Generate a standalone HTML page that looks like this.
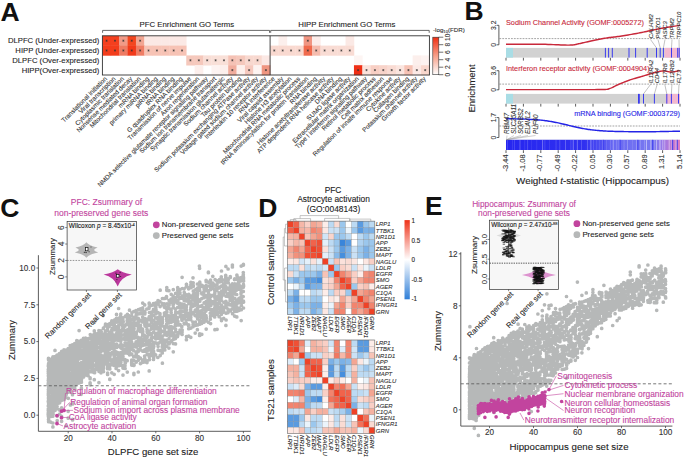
<!DOCTYPE html><html><head><meta charset="utf-8"><style>html,body{margin:0;padding:0;background:#fff;overflow:hidden}svg{display:block}text{font-family:"Liberation Sans",sans-serif}</style></head><body>
<svg width="685" height="458" viewBox="0 0 685 458">
<rect width="685" height="458" fill="#fff"/>
<text x="0.5" y="21.4" font-size="26.5" font-weight="bold" fill="#111">A</text>
<text x="464.5" y="19.9" font-size="26.5" font-weight="bold" fill="#111">B</text>
<text x="0.3" y="216.9" font-size="26.5" font-weight="bold" fill="#111">C</text>
<text x="258.2" y="217.4" font-size="26.5" font-weight="bold" fill="#111">D</text>
<text x="425.0" y="215.3" font-size="26.5" font-weight="bold" fill="#111">E</text>
<rect x="102.40" y="35.80" width="8.69" height="10.10" fill="#f4401f"/>
<path d="M106.59 39.60v2.2M105.59 40.15l2 1.1M105.59 41.25l2 -1.1" stroke="#333" stroke-width="0.55"/>
<rect x="110.79" y="35.80" width="8.69" height="10.10" fill="#f4401f"/>
<path d="M114.98 39.60v2.2M113.98 40.15l2 1.1M113.98 41.25l2 -1.1" stroke="#333" stroke-width="0.55"/>
<rect x="119.17" y="35.80" width="8.69" height="10.10" fill="#f19a87"/>
<path d="M123.36 39.60v2.2M122.36 40.15l2 1.1M122.36 41.25l2 -1.1" stroke="#333" stroke-width="0.55"/>
<rect x="127.56" y="35.80" width="8.69" height="10.10" fill="#f3461f"/>
<path d="M131.75 39.60v2.2M130.75 40.15l2 1.1M130.75 41.25l2 -1.1" stroke="#333" stroke-width="0.55"/>
<rect x="135.94" y="35.80" width="8.69" height="10.10" fill="#f2a693"/>
<path d="M140.13 39.60v2.2M139.13 40.15l2 1.1M139.13 41.25l2 -1.1" stroke="#333" stroke-width="0.55"/>
<rect x="144.32" y="35.80" width="8.69" height="10.10" fill="#fbe9e5"/>
<rect x="152.71" y="35.80" width="8.69" height="10.10" fill="#fbe9e5"/>
<rect x="161.09" y="35.80" width="8.69" height="10.10" fill="#fbe9e5"/>
<rect x="169.48" y="35.80" width="8.69" height="10.10" fill="#fbe9e5"/>
<rect x="177.87" y="35.80" width="8.69" height="10.10" fill="#fbe9e5"/>
<rect x="278.49" y="35.80" width="8.69" height="10.10" fill="#fcefec"/>
<rect x="303.64" y="35.80" width="8.69" height="10.10" fill="#f09582"/>
<path d="M307.83 39.60v2.2M306.83 40.15l2 1.1M306.83 41.25l2 -1.1" stroke="#333" stroke-width="0.55"/>
<rect x="312.02" y="35.80" width="8.69" height="10.10" fill="#fcedea"/>
<rect x="345.56" y="35.80" width="8.69" height="10.10" fill="#fbe9e5"/>
<rect x="102.40" y="45.60" width="8.69" height="10.10" fill="#f33d1c"/>
<path d="M106.59 49.40v2.2M105.59 49.95l2 1.1M105.59 51.05l2 -1.1" stroke="#333" stroke-width="0.55"/>
<rect x="110.79" y="45.60" width="8.69" height="10.10" fill="#f33d1c"/>
<path d="M114.98 49.40v2.2M113.98 49.95l2 1.1M113.98 51.05l2 -1.1" stroke="#333" stroke-width="0.55"/>
<rect x="119.17" y="45.60" width="8.69" height="10.10" fill="#ee7b63"/>
<path d="M123.36 49.40v2.2M122.36 49.95l2 1.1M122.36 51.05l2 -1.1" stroke="#333" stroke-width="0.55"/>
<rect x="127.56" y="45.60" width="8.69" height="10.10" fill="#f23a1a"/>
<path d="M131.75 49.40v2.2M130.75 49.95l2 1.1M130.75 51.05l2 -1.1" stroke="#333" stroke-width="0.55"/>
<rect x="135.94" y="45.60" width="8.69" height="10.10" fill="#ef7e66"/>
<path d="M140.13 49.40v2.2M139.13 49.95l2 1.1M139.13 51.05l2 -1.1" stroke="#333" stroke-width="0.55"/>
<rect x="144.32" y="45.60" width="8.69" height="10.10" fill="#f7c3b5"/>
<path d="M148.52 49.40v2.2M147.52 49.95l2 1.1M147.52 51.05l2 -1.1" stroke="#333" stroke-width="0.55"/>
<rect x="152.71" y="45.60" width="8.69" height="10.10" fill="#f7c3b5"/>
<path d="M156.90 49.40v2.2M155.90 49.95l2 1.1M155.90 51.05l2 -1.1" stroke="#333" stroke-width="0.55"/>
<rect x="161.09" y="45.60" width="8.69" height="10.10" fill="#f7c3b5"/>
<path d="M165.29 49.40v2.2M164.29 49.95l2 1.1M164.29 51.05l2 -1.1" stroke="#333" stroke-width="0.55"/>
<rect x="169.48" y="45.60" width="8.69" height="10.10" fill="#f7c3b5"/>
<path d="M173.67 49.40v2.2M172.67 49.95l2 1.1M172.67 51.05l2 -1.1" stroke="#333" stroke-width="0.55"/>
<rect x="177.87" y="45.60" width="8.69" height="10.10" fill="#f7c3b5"/>
<path d="M182.06 49.40v2.2M181.06 49.95l2 1.1M181.06 51.05l2 -1.1" stroke="#333" stroke-width="0.55"/>
<rect x="270.10" y="45.60" width="8.69" height="10.10" fill="#f9d9d0"/>
<path d="M274.29 49.40v2.2M273.29 49.95l2 1.1M273.29 51.05l2 -1.1" stroke="#333" stroke-width="0.55"/>
<rect x="278.49" y="45.60" width="8.69" height="10.10" fill="#f9d9d0"/>
<path d="M282.68 49.40v2.2M281.68 49.95l2 1.1M281.68 51.05l2 -1.1" stroke="#333" stroke-width="0.55"/>
<rect x="286.87" y="45.60" width="8.69" height="10.10" fill="#f9d9d0"/>
<path d="M291.06 49.40v2.2M290.06 49.95l2 1.1M290.06 51.05l2 -1.1" stroke="#333" stroke-width="0.55"/>
<rect x="295.25" y="45.60" width="8.69" height="10.10" fill="#f9d9d0"/>
<path d="M299.45 49.40v2.2M298.45 49.95l2 1.1M298.45 51.05l2 -1.1" stroke="#333" stroke-width="0.55"/>
<rect x="303.64" y="45.60" width="8.69" height="10.10" fill="#f06a4d"/>
<path d="M307.83 49.40v2.2M306.83 49.95l2 1.1M306.83 51.05l2 -1.1" stroke="#333" stroke-width="0.55"/>
<rect x="312.02" y="45.60" width="8.69" height="10.10" fill="#f5bcae"/>
<path d="M316.22 49.40v2.2M315.22 49.95l2 1.1M315.22 51.05l2 -1.1" stroke="#333" stroke-width="0.55"/>
<rect x="320.41" y="45.60" width="8.69" height="10.10" fill="#f9dcd4"/>
<path d="M324.60 49.40v2.2M323.60 49.95l2 1.1M323.60 51.05l2 -1.1" stroke="#333" stroke-width="0.55"/>
<rect x="328.79" y="45.60" width="8.69" height="10.10" fill="#f9dcd4"/>
<path d="M332.99 49.40v2.2M331.99 49.95l2 1.1M331.99 51.05l2 -1.1" stroke="#333" stroke-width="0.55"/>
<rect x="337.18" y="45.60" width="8.69" height="10.10" fill="#f9dcd4"/>
<path d="M341.37 49.40v2.2M340.37 49.95l2 1.1M340.37 51.05l2 -1.1" stroke="#333" stroke-width="0.55"/>
<rect x="345.56" y="45.60" width="8.69" height="10.10" fill="#f9dcd4"/>
<path d="M349.76 49.40v2.2M348.76 49.95l2 1.1M348.76 51.05l2 -1.1" stroke="#333" stroke-width="0.55"/>
<rect x="186.25" y="55.40" width="8.69" height="10.10" fill="#f5c8bc"/>
<path d="M190.44 59.20v2.2M189.44 59.75l2 1.1M189.44 60.85l2 -1.1" stroke="#333" stroke-width="0.55"/>
<rect x="194.63" y="55.40" width="8.69" height="10.10" fill="#f5c8bc"/>
<path d="M198.83 59.20v2.2M197.83 59.75l2 1.1M197.83 60.85l2 -1.1" stroke="#333" stroke-width="0.55"/>
<rect x="203.02" y="55.40" width="8.69" height="10.10" fill="#f9ded6"/>
<path d="M207.21 59.20v2.2M206.21 59.75l2 1.1M206.21 60.85l2 -1.1" stroke="#333" stroke-width="0.55"/>
<rect x="211.41" y="55.40" width="8.69" height="10.10" fill="#f9e0d8"/>
<path d="M215.60 59.20v2.2M214.60 59.75l2 1.1M214.60 60.85l2 -1.1" stroke="#333" stroke-width="0.55"/>
<rect x="219.79" y="55.40" width="8.69" height="10.10" fill="#f9e0d8"/>
<path d="M223.98 59.20v2.2M222.98 59.75l2 1.1M222.98 60.85l2 -1.1" stroke="#333" stroke-width="0.55"/>
<rect x="228.18" y="55.40" width="8.69" height="10.10" fill="#f5c2b5"/>
<path d="M232.37 59.20v2.2M231.37 59.75l2 1.1M231.37 60.85l2 -1.1" stroke="#333" stroke-width="0.55"/>
<rect x="236.56" y="55.40" width="8.69" height="10.10" fill="#f5c8bc"/>
<path d="M240.75 59.20v2.2M239.75 59.75l2 1.1M239.75 60.85l2 -1.1" stroke="#333" stroke-width="0.55"/>
<rect x="244.94" y="55.40" width="8.69" height="10.10" fill="#f8d8cf"/>
<path d="M249.14 59.20v2.2M248.14 59.75l2 1.1M248.14 60.85l2 -1.1" stroke="#333" stroke-width="0.55"/>
<rect x="253.33" y="55.40" width="8.69" height="10.10" fill="#f8d8cf"/>
<path d="M257.52 59.20v2.2M256.52 59.75l2 1.1M256.52 60.85l2 -1.1" stroke="#333" stroke-width="0.55"/>
<rect x="261.72" y="55.40" width="8.69" height="10.10" fill="#fbe8e4"/>
<rect x="353.95" y="55.40" width="8.69" height="10.10" fill="#fdf5f3"/>
<rect x="412.64" y="55.40" width="8.69" height="10.10" fill="#fcefec"/>
<rect x="421.03" y="55.40" width="8.69" height="10.10" fill="#fdf3f1"/>
<rect x="194.63" y="65.20" width="8.69" height="10.10" fill="#fcefec"/>
<rect x="211.41" y="65.20" width="8.69" height="10.10" fill="#fdf3f1"/>
<rect x="219.79" y="65.20" width="8.69" height="10.10" fill="#fcefec"/>
<rect x="228.18" y="65.20" width="8.69" height="10.10" fill="#f1ad9d"/>
<path d="M232.37 69.00v2.2M231.37 69.55l2 1.1M231.37 70.65l2 -1.1" stroke="#333" stroke-width="0.55"/>
<rect x="236.56" y="65.20" width="8.69" height="10.10" fill="#fdf0ec"/>
<rect x="244.94" y="65.20" width="8.69" height="10.10" fill="#f6c9be"/>
<path d="M249.14 69.00v2.2M248.14 69.55l2 1.1M248.14 70.65l2 -1.1" stroke="#333" stroke-width="0.55"/>
<rect x="253.33" y="65.20" width="8.69" height="10.10" fill="#fdf3f1"/>
<rect x="261.72" y="65.20" width="8.69" height="10.10" fill="#ef9580"/>
<path d="M265.91 69.00v2.2M264.91 69.55l2 1.1M264.91 70.65l2 -1.1" stroke="#333" stroke-width="0.55"/>
<rect x="353.95" y="65.20" width="8.69" height="10.10" fill="#ef2f15"/>
<path d="M358.14 69.00v2.2M357.14 69.55l2 1.1M357.14 70.65l2 -1.1" stroke="#333" stroke-width="0.55"/>
<rect x="362.34" y="65.20" width="8.69" height="10.10" fill="#fbe1da"/>
<path d="M366.53 69.00v2.2M365.53 69.55l2 1.1M365.53 70.65l2 -1.1" stroke="#333" stroke-width="0.55"/>
<rect x="370.72" y="65.20" width="8.69" height="10.10" fill="#f8cfc4"/>
<path d="M374.91 69.00v2.2M373.91 69.55l2 1.1M373.91 70.65l2 -1.1" stroke="#333" stroke-width="0.55"/>
<rect x="379.11" y="65.20" width="8.69" height="10.10" fill="#f8d3c9"/>
<path d="M383.30 69.00v2.2M382.30 69.55l2 1.1M382.30 70.65l2 -1.1" stroke="#333" stroke-width="0.55"/>
<rect x="387.49" y="65.20" width="8.69" height="10.10" fill="#f9dbd3"/>
<path d="M391.68 69.00v2.2M390.68 69.55l2 1.1M390.68 70.65l2 -1.1" stroke="#333" stroke-width="0.55"/>
<rect x="395.88" y="65.20" width="8.69" height="10.10" fill="#fbe5df"/>
<path d="M400.07 69.00v2.2M399.07 69.55l2 1.1M399.07 70.65l2 -1.1" stroke="#333" stroke-width="0.55"/>
<rect x="404.26" y="65.20" width="8.69" height="10.10" fill="#f6c2b4"/>
<path d="M408.45 69.00v2.2M407.45 69.55l2 1.1M407.45 70.65l2 -1.1" stroke="#333" stroke-width="0.55"/>
<rect x="412.64" y="65.20" width="8.69" height="10.10" fill="#fce9e5"/>
<path d="M416.84 69.00v2.2M415.84 69.55l2 1.1M415.84 70.65l2 -1.1" stroke="#333" stroke-width="0.55"/>
<rect x="421.03" y="65.20" width="8.69" height="10.10" fill="#f9d7cd"/>
<path d="M425.22 69.00v2.2M424.22 69.55l2 1.1M424.22 70.65l2 -1.1" stroke="#333" stroke-width="0.55"/>
<rect x="102.4" y="35.8" width="327.01" height="39.20" fill="none" stroke="#333" stroke-width="0.9"/>
<line x1="270.10" y1="35.80" x2="270.10" y2="75.00" stroke="#333" stroke-width="0.9"/>
<path d="M102.60 32.8 V30.4 H269.50 V32.8" fill="none" stroke="#444" stroke-width="0.8"/>
<path d="M270.70 32.8 V30.4 H429.21 V32.8" fill="none" stroke="#444" stroke-width="0.8"/>
<text x="186.90" y="24.70" dy="0.35em" font-size="7.8" text-anchor="middle" fill="#222" stroke="#222" stroke-width="0.1">PFC Enrichment GO Terms</text>
<text x="346.90" y="24.70" dy="0.35em" font-size="7.8" text-anchor="middle" fill="#222" stroke="#222" stroke-width="0.1">HIPP Enrichment GO Terms</text>
<text x="99.40" y="40.70" dy="0.35em" font-size="7.7" text-anchor="end" fill="#222" stroke="#222" stroke-width="0.1">DLPFC (Under-expressed)</text>
<text x="99.40" y="50.50" dy="0.35em" font-size="7.7" text-anchor="end" fill="#222" stroke="#222" stroke-width="0.1">HIPP (Under-expressed)</text>
<text x="99.40" y="60.30" dy="0.35em" font-size="7.7" text-anchor="end" fill="#222" stroke="#222" stroke-width="0.1">DLPFC (Over-expressed)</text>
<text x="99.40" y="70.10" dy="0.35em" font-size="7.7" text-anchor="end" fill="#222" stroke="#222" stroke-width="0.1">HIPP(Over-expressed)</text>
<text x="105.39" y="77.00" dy="0.5em" font-size="6.4" text-anchor="end" fill="#333" transform="rotate(-45 105.39 77.00)" stroke="#333" stroke-width="0.1">Translational initiation</text>
<text x="113.78" y="77.00" dy="0.5em" font-size="6.4" text-anchor="end" fill="#333" transform="rotate(-45 113.78 77.00)" stroke="#333" stroke-width="0.1">Viral transcription</text>
<text x="122.16" y="77.00" dy="0.5em" font-size="6.4" text-anchor="end" fill="#333" transform="rotate(-45 122.16 77.00)" stroke="#333" stroke-width="0.1">Cytoplasmic translation</text>
<text x="130.55" y="77.00" dy="0.5em" font-size="6.4" text-anchor="end" fill="#333" transform="rotate(-45 130.55 77.00)" stroke="#333" stroke-width="0.1">Nonsense mediated decay</text>
<text x="138.93" y="77.00" dy="0.5em" font-size="6.4" text-anchor="end" fill="#333" transform="rotate(-45 138.93 77.00)" stroke="#333" stroke-width="0.1">Mitochondrial translation</text>
<text x="147.32" y="77.00" dy="0.5em" font-size="6.4" text-anchor="end" fill="#333" transform="rotate(-45 147.32 77.00)" stroke="#333" stroke-width="0.1">mRNA binding</text>
<text x="155.70" y="77.00" dy="0.5em" font-size="6.4" text-anchor="end" fill="#333" transform="rotate(-45 155.70 77.00)" stroke="#333" stroke-width="0.1">primary miRNA binding</text>
<text x="164.09" y="77.00" dy="0.5em" font-size="6.4" text-anchor="end" fill="#333" transform="rotate(-45 164.09 77.00)" stroke="#333" stroke-width="0.1">piRNA binding</text>
<text x="172.47" y="77.00" dy="0.5em" font-size="6.4" text-anchor="end" fill="#333" transform="rotate(-45 172.47 77.00)" stroke="#333" stroke-width="0.1">tRNA binding</text>
<text x="180.86" y="77.00" dy="0.5em" font-size="6.4" text-anchor="end" fill="#333" transform="rotate(-45 180.86 77.00)" stroke="#333" stroke-width="0.1">G quadruplex RNA binding</text>
<text x="189.24" y="77.00" dy="0.5em" font-size="6.4" text-anchor="end" fill="#333" transform="rotate(-45 189.24 77.00)" stroke="#333" stroke-width="0.1">Transmission of nerve impulse</text>
<text x="197.63" y="77.00" dy="0.5em" font-size="6.4" text-anchor="end" fill="#333" transform="rotate(-45 197.63 77.00)" stroke="#333" stroke-width="0.1">Axon regeneration</text>
<text x="206.01" y="77.00" dy="0.5em" font-size="6.4" text-anchor="end" fill="#333" transform="rotate(-45 206.01 77.00)" stroke="#333" stroke-width="0.1">NMDA selective glutamate receptor signaling pathway</text>
<text x="214.40" y="77.00" dy="0.5em" font-size="6.4" text-anchor="end" fill="#333" transform="rotate(-45 214.40 77.00)" stroke="#333" stroke-width="0.1">Sodium ion transmembrane transport</text>
<text x="222.78" y="77.00" dy="0.5em" font-size="6.4" text-anchor="end" fill="#333" transform="rotate(-45 222.78 77.00)" stroke="#333" stroke-width="0.1">Synaptic transmission glutamatergic</text>
<text x="231.17" y="77.00" dy="0.5em" font-size="6.4" text-anchor="end" fill="#333" transform="rotate(-45 231.17 77.00)" stroke="#333" stroke-width="0.1">Sodium channel activity</text>
<text x="239.55" y="77.00" dy="0.5em" font-size="6.4" text-anchor="end" fill="#333" transform="rotate(-45 239.55 77.00)" stroke="#333" stroke-width="0.1">Tau protein binding</text>
<text x="247.94" y="77.00" dy="0.5em" font-size="6.4" text-anchor="end" fill="#333" transform="rotate(-45 247.94 77.00)" stroke="#333" stroke-width="0.1">Sodium potassium exchanging ATPase activity</text>
<text x="256.32" y="77.00" dy="0.5em" font-size="6.4" text-anchor="end" fill="#333" transform="rotate(-45 256.32 77.00)" stroke="#333" stroke-width="0.1">Voltage gated sodium channel activity</text>
<text x="264.71" y="77.00" dy="0.5em" font-size="6.4" text-anchor="end" fill="#333" transform="rotate(-45 264.71 77.00)" stroke="#333" stroke-width="0.1">Interleukin 10 receptor activity</text>
<text x="273.09" y="77.00" dy="0.5em" font-size="6.4" text-anchor="end" fill="#333" transform="rotate(-45 273.09 77.00)" stroke="#333" stroke-width="0.1">RNA interference</text>
<text x="281.48" y="77.00" dy="0.5em" font-size="6.4" text-anchor="end" fill="#333" transform="rotate(-45 281.48 77.00)" stroke="#333" stroke-width="0.1">Viral capsid assembly</text>
<text x="289.86" y="77.00" dy="0.5em" font-size="6.4" text-anchor="end" fill="#333" transform="rotate(-45 289.86 77.00)" stroke="#333" stroke-width="0.1">Histone H3 acetylation</text>
<text x="298.25" y="77.00" dy="0.5em" font-size="6.4" text-anchor="end" fill="#333" transform="rotate(-45 298.25 77.00)" stroke="#333" stroke-width="0.1">Mitochondrial RNA metabolic process</text>
<text x="306.63" y="77.00" dy="0.5em" font-size="6.4" text-anchor="end" fill="#333" transform="rotate(-45 306.63 77.00)" stroke="#333" stroke-width="0.1">tRNA aminoacylation for protein translation</text>
<text x="315.02" y="77.00" dy="0.5em" font-size="6.4" text-anchor="end" fill="#333" transform="rotate(-45 315.02 77.00)" stroke="#333" stroke-width="0.1">RNA binding</text>
<text x="323.40" y="77.00" dy="0.5em" font-size="6.4" text-anchor="end" fill="#333" transform="rotate(-45 323.40 77.00)" stroke="#333" stroke-width="0.1">Histone acetyltransferase activity</text>
<text x="331.79" y="77.00" dy="0.5em" font-size="6.4" text-anchor="end" fill="#333" transform="rotate(-45 331.79 77.00)" stroke="#333" stroke-width="0.1">ATP dependent RNA helicase activity</text>
<text x="340.17" y="77.00" dy="0.5em" font-size="6.4" text-anchor="end" fill="#333" transform="rotate(-45 340.17 77.00)" stroke="#333" stroke-width="0.1">DNA binding</text>
<text x="348.56" y="77.00" dy="0.5em" font-size="6.4" text-anchor="end" fill="#333" transform="rotate(-45 348.56 77.00)" stroke="#333" stroke-width="0.1">SUMO ligase activity</text>
<text x="356.94" y="77.00" dy="0.5em" font-size="6.4" text-anchor="end" fill="#333" transform="rotate(-45 356.94 77.00)" stroke="#333" stroke-width="0.1">Extracellular matrix organization</text>
<text x="365.33" y="77.00" dy="0.5em" font-size="6.4" text-anchor="end" fill="#333" transform="rotate(-45 365.33 77.00)" stroke="#333" stroke-width="0.1">Type I interferon signaling pathway</text>
<text x="373.71" y="77.00" dy="0.5em" font-size="6.4" text-anchor="end" fill="#333" transform="rotate(-45 373.71 77.00)" stroke="#333" stroke-width="0.1">Retinol metabolic process</text>
<text x="382.10" y="77.00" dy="0.5em" font-size="6.4" text-anchor="end" fill="#333" transform="rotate(-45 382.10 77.00)" stroke="#333" stroke-width="0.1">Cell matrix adhesion</text>
<text x="390.48" y="77.00" dy="0.5em" font-size="6.4" text-anchor="end" fill="#333" transform="rotate(-45 390.48 77.00)" stroke="#333" stroke-width="0.1">Regulation of innate immune response</text>
<text x="398.87" y="77.00" dy="0.5em" font-size="6.4" text-anchor="end" fill="#333" transform="rotate(-45 398.87 77.00)" stroke="#333" stroke-width="0.1">Cytokine activity</text>
<text x="407.25" y="77.00" dy="0.5em" font-size="6.4" text-anchor="end" fill="#333" transform="rotate(-45 407.25 77.00)" stroke="#333" stroke-width="0.1">Collagen binding</text>
<text x="415.64" y="77.00" dy="0.5em" font-size="6.4" text-anchor="end" fill="#333" transform="rotate(-45 415.64 77.00)" stroke="#333" stroke-width="0.1">Potassium channel activity</text>
<text x="424.02" y="77.00" dy="0.5em" font-size="6.4" text-anchor="end" fill="#333" transform="rotate(-45 424.02 77.00)" stroke="#333" stroke-width="0.1">Growth factor activity</text>
<defs><linearGradient id="gA" x1="0" y1="1" x2="0" y2="0"><stop offset="0" stop-color="#ffffff"/><stop offset="0.5" stop-color="#f7a08a"/><stop offset="1" stop-color="#ef2e12"/></linearGradient><linearGradient id="gD" x1="0" y1="1" x2="0" y2="0"><stop offset="0" stop-color="#2f7fd8"/><stop offset="0.5" stop-color="#ffffff"/><stop offset="1" stop-color="#ee3219"/></linearGradient></defs>
<rect x="432.80" y="37.20" width="6.00" height="37.50" fill="url(#gA)" stroke="#333" stroke-width="0.6"/>
<line x1="438.80" y1="74.70" x2="443.30" y2="74.70" stroke="#333" stroke-width="0.7"/>
<text x="447.40" y="74.70" dy="0.35em" font-size="6.6" text-anchor="middle" fill="#333" transform="rotate(-90 447.40 74.70)" stroke="#333" stroke-width="0.1">0</text>
<line x1="438.80" y1="67.20" x2="443.30" y2="67.20" stroke="#333" stroke-width="0.7"/>
<text x="447.40" y="67.20" dy="0.35em" font-size="6.6" text-anchor="middle" fill="#333" transform="rotate(-90 447.40 67.20)" stroke="#333" stroke-width="0.1">2</text>
<line x1="438.80" y1="59.70" x2="443.30" y2="59.70" stroke="#333" stroke-width="0.7"/>
<text x="447.40" y="59.70" dy="0.35em" font-size="6.6" text-anchor="middle" fill="#333" transform="rotate(-90 447.40 59.70)" stroke="#333" stroke-width="0.1">4</text>
<line x1="438.80" y1="52.20" x2="443.30" y2="52.20" stroke="#333" stroke-width="0.7"/>
<text x="447.40" y="52.20" dy="0.35em" font-size="6.6" text-anchor="middle" fill="#333" transform="rotate(-90 447.40 52.20)" stroke="#333" stroke-width="0.1">6</text>
<line x1="438.80" y1="44.70" x2="443.30" y2="44.70" stroke="#333" stroke-width="0.7"/>
<text x="447.40" y="44.70" dy="0.35em" font-size="6.6" text-anchor="middle" fill="#333" transform="rotate(-90 447.40 44.70)" stroke="#333" stroke-width="0.1">8</text>
<line x1="438.80" y1="37.20" x2="443.30" y2="37.20" stroke="#333" stroke-width="0.7"/>
<text x="447.40" y="37.20" dy="0.35em" font-size="6.6" text-anchor="middle" fill="#333" transform="rotate(-90 447.40 37.20)" stroke="#333" stroke-width="0.1">10</text>
<text x="433.0" y="31.9" font-size="6.2" fill="#333" stroke="#333" stroke-width="0.1">-log<tspan font-size="4.2" dy="1.4">10</tspan><tspan dy="-1.4">(FDR)</tspan></text>
<line x1="498.90" y1="25.30" x2="498.90" y2="44.80" stroke="#333" stroke-width="0.8"/>
<line x1="496.70" y1="25.30" x2="498.90" y2="25.30" stroke="#333" stroke-width="0.8"/>
<line x1="496.70" y1="44.80" x2="498.90" y2="44.80" stroke="#333" stroke-width="0.8"/>
<text x="493.70" y="25.30" dy="0.35em" font-size="6.8" text-anchor="middle" fill="#333" transform="rotate(-90 493.70 25.30)" stroke="#333" stroke-width="0.1">3.2</text>
<text x="493.70" y="44.80" dy="0.35em" font-size="6.8" text-anchor="middle" fill="#333" transform="rotate(-90 493.70 44.80)" stroke="#333" stroke-width="0.1">0</text>
<line x1="499.4" y1="38.6" x2="680.0" y2="38.6" stroke="#666" stroke-width="0.6" stroke-dasharray="1.8 1.1"/>
<text x="506.00" y="22.30" dy="0.35em" font-size="7.3" fill="#c8283a" stroke="#c8283a" stroke-width="0.1">Sodium Channel Activity (GOMF:0005272)</text>
<rect x="506.00" y="47.90" width="174.00" height="9.70" fill="#d2d2d2"/>
<rect x="506.00" y="47.90" width="7.00" height="9.70" fill="#a9dde5"/>
<rect x="664.70" y="47.90" width="15.30" height="9.70" fill="#f2b8cf"/>
<rect x="604.90" y="47.90" width="1.00" height="9.70" fill="#3b3bef"/>
<rect x="608.10" y="47.90" width="1.00" height="9.70" fill="#3b3bef"/>
<rect x="611.80" y="47.90" width="1.00" height="9.70" fill="#3b3bef"/>
<rect x="628.50" y="47.90" width="1.00" height="9.70" fill="#3b3bef"/>
<rect x="635.10" y="47.90" width="1.00" height="9.70" fill="#3b3bef"/>
<rect x="646.70" y="47.90" width="1.00" height="9.70" fill="#3b3bef"/>
<rect x="656.00" y="47.90" width="1.00" height="9.70" fill="#3b3bef"/>
<rect x="659.70" y="47.90" width="1.00" height="9.70" fill="#3b3bef"/>
<rect x="662.90" y="47.90" width="1.00" height="9.70" fill="#3b3bef"/>
<rect x="671.00" y="47.90" width="1.00" height="9.70" fill="#3b3bef"/>
<rect x="677.20" y="47.90" width="1.00" height="9.70" fill="#3b3bef"/>
<rect x="678.70" y="47.90" width="1.00" height="9.70" fill="#3b3bef"/>
<line x1="506.00" y1="57.80" x2="506.00" y2="60.60" stroke="#333" stroke-width="0.8"/>
<line x1="523.40" y1="57.80" x2="523.40" y2="60.60" stroke="#333" stroke-width="0.8"/>
<line x1="540.80" y1="57.80" x2="540.80" y2="60.60" stroke="#333" stroke-width="0.8"/>
<line x1="558.20" y1="57.80" x2="558.20" y2="60.60" stroke="#333" stroke-width="0.8"/>
<line x1="575.60" y1="57.80" x2="575.60" y2="60.60" stroke="#333" stroke-width="0.8"/>
<line x1="593.00" y1="57.80" x2="593.00" y2="60.60" stroke="#333" stroke-width="0.8"/>
<line x1="610.40" y1="57.80" x2="610.40" y2="60.60" stroke="#333" stroke-width="0.8"/>
<line x1="627.80" y1="57.80" x2="627.80" y2="60.60" stroke="#333" stroke-width="0.8"/>
<line x1="645.20" y1="57.80" x2="645.20" y2="60.60" stroke="#333" stroke-width="0.8"/>
<line x1="662.60" y1="57.80" x2="662.60" y2="60.60" stroke="#333" stroke-width="0.8"/>
<line x1="680.00" y1="57.80" x2="680.00" y2="60.60" stroke="#333" stroke-width="0.8"/>
<path d="M506.00 44.30 L507.66 44.29 L509.76 44.28 L512.23 44.26 L515.00 44.24 L518.01 44.21 L521.19 44.19 L524.47 44.18 L527.78 44.16 L531.05 44.16 L534.23 44.16 L537.23 44.17 L540.00 44.20 L542.65 44.25 L545.34 44.32 L548.04 44.41 L550.73 44.51 L553.38 44.63 L555.98 44.74 L558.49 44.84 L560.90 44.94 L563.18 45.02 L565.30 45.08 L567.25 45.11 L569.00 45.10 L570.51 45.06 L571.80 45.00 L572.88 44.92 L573.80 44.82 L574.59 44.70 L575.29 44.57 L575.92 44.42 L576.53 44.27 L577.15 44.11 L577.81 43.94 L578.55 43.77 L579.40 43.60 L580.31 43.42 L581.23 43.23 L582.14 43.03 L583.06 42.83 L583.99 42.61 L584.93 42.39 L585.89 42.16 L586.86 41.93 L587.85 41.70 L588.87 41.46 L589.92 41.23 L591.00 41.00 L592.12 40.77 L593.27 40.52 L594.46 40.27 L595.67 40.02 L596.91 39.76 L598.16 39.51 L599.43 39.25 L600.69 39.00 L601.96 38.76 L603.22 38.53 L604.47 38.31 L605.70 38.10 L606.90 37.91 L608.08 37.74 L609.24 37.59 L610.39 37.45 L611.53 37.31 L612.69 37.18 L613.86 37.05 L615.06 36.91 L616.29 36.76 L617.57 36.59 L618.91 36.41 L620.30 36.20 L621.76 35.97 L623.28 35.73 L624.86 35.47 L626.48 35.21 L628.13 34.93 L629.81 34.64 L631.51 34.35 L633.22 34.05 L634.93 33.74 L636.64 33.43 L638.33 33.12 L640.00 32.80 L641.66 32.48 L643.32 32.14 L644.98 31.79 L646.64 31.43 L648.31 31.06 L649.98 30.69 L651.65 30.33 L653.32 29.96 L654.99 29.61 L656.66 29.26 L658.33 28.92 L660.00 28.60 L661.73 28.28 L663.56 27.96 L665.47 27.63 L667.41 27.31 L669.35 26.99 L671.25 26.69 L673.08 26.40 L674.81 26.12 L676.41 25.87 L677.82 25.65 L679.03 25.46 L680.00 25.30" fill="none" stroke="#c8283a" stroke-width="1.45" stroke-linejoin="round"/>
<text x="650.50" y="38.6" dy="0.35em" font-size="6.0" font-style="italic" fill="#333" transform="rotate(-90 650.50 38.6)" stroke="#333" stroke-width="0.1">CALHM2</text>
<line x1="650.50" y1="39.50" x2="656.50" y2="47.90" stroke="#666" stroke-width="0.4"/>
<text x="658.00" y="38.6" dy="0.35em" font-size="6.0" font-style="italic" fill="#333" transform="rotate(-90 658.00 38.6)" stroke="#333" stroke-width="0.1">PIEZO1</text>
<line x1="658.00" y1="39.50" x2="660.20" y2="47.90" stroke="#666" stroke-width="0.4"/>
<text x="665.00" y="38.6" dy="0.35em" font-size="6.0" font-style="italic" fill="#333" transform="rotate(-90 665.00 38.6)" stroke="#333" stroke-width="0.1">ASIC3</text>
<line x1="665.00" y1="39.50" x2="663.40" y2="47.90" stroke="#666" stroke-width="0.4"/>
<text x="672.00" y="38.6" dy="0.35em" font-size="6.0" font-style="italic" fill="#333" transform="rotate(-90 672.00 38.6)" stroke="#333" stroke-width="0.1">TRPM2</text>
<line x1="672.00" y1="39.50" x2="671.50" y2="47.90" stroke="#666" stroke-width="0.4"/>
<text x="679.00" y="38.6" dy="0.35em" font-size="6.0" font-style="italic" fill="#333" transform="rotate(-90 679.00 38.6)" stroke="#333" stroke-width="0.1">TRPPC10</text>
<line x1="679.00" y1="39.50" x2="679.20" y2="47.90" stroke="#666" stroke-width="0.4"/>
<line x1="498.90" y1="70.70" x2="498.90" y2="89.80" stroke="#333" stroke-width="0.8"/>
<line x1="496.70" y1="70.70" x2="498.90" y2="70.70" stroke="#333" stroke-width="0.8"/>
<line x1="496.70" y1="89.80" x2="498.90" y2="89.80" stroke="#333" stroke-width="0.8"/>
<text x="493.70" y="70.70" dy="0.35em" font-size="6.8" text-anchor="middle" fill="#333" transform="rotate(-90 493.70 70.70)" stroke="#333" stroke-width="0.1">3.6</text>
<text x="493.70" y="89.80" dy="0.35em" font-size="6.8" text-anchor="middle" fill="#333" transform="rotate(-90 493.70 89.80)" stroke="#333" stroke-width="0.1">0</text>
<line x1="499.4" y1="84.1" x2="680.0" y2="84.1" stroke="#666" stroke-width="0.6" stroke-dasharray="1.8 1.1"/>
<text x="506.00" y="68.40" dy="0.35em" font-size="7.3" fill="#c8283a" stroke="#c8283a" stroke-width="0.1">Interferon receptor activity (GOMF:0004904)</text>
<rect x="506.00" y="93.90" width="174.00" height="9.70" fill="#d2d2d2"/>
<rect x="506.00" y="93.90" width="7.00" height="9.70" fill="#a9dde5"/>
<rect x="665.70" y="93.90" width="14.30" height="9.70" fill="#f2b8cf"/>
<rect x="638.00" y="93.90" width="1.00" height="9.70" fill="#3b3bef"/>
<rect x="638.80" y="93.90" width="1.00" height="9.70" fill="#3b3bef"/>
<rect x="643.00" y="93.90" width="1.00" height="9.70" fill="#3b3bef"/>
<rect x="653.90" y="93.90" width="1.00" height="9.70" fill="#3b3bef"/>
<rect x="666.30" y="93.90" width="1.00" height="9.70" fill="#3b3bef"/>
<rect x="670.90" y="93.90" width="1.00" height="9.70" fill="#3b3bef"/>
<rect x="678.00" y="93.90" width="1.00" height="9.70" fill="#3b3bef"/>
<line x1="506.00" y1="103.80" x2="506.00" y2="106.60" stroke="#333" stroke-width="0.8"/>
<line x1="523.40" y1="103.80" x2="523.40" y2="106.60" stroke="#333" stroke-width="0.8"/>
<line x1="540.80" y1="103.80" x2="540.80" y2="106.60" stroke="#333" stroke-width="0.8"/>
<line x1="558.20" y1="103.80" x2="558.20" y2="106.60" stroke="#333" stroke-width="0.8"/>
<line x1="575.60" y1="103.80" x2="575.60" y2="106.60" stroke="#333" stroke-width="0.8"/>
<line x1="593.00" y1="103.80" x2="593.00" y2="106.60" stroke="#333" stroke-width="0.8"/>
<line x1="610.40" y1="103.80" x2="610.40" y2="106.60" stroke="#333" stroke-width="0.8"/>
<line x1="627.80" y1="103.80" x2="627.80" y2="106.60" stroke="#333" stroke-width="0.8"/>
<line x1="645.20" y1="103.80" x2="645.20" y2="106.60" stroke="#333" stroke-width="0.8"/>
<line x1="662.60" y1="103.80" x2="662.60" y2="106.60" stroke="#333" stroke-width="0.8"/>
<line x1="680.00" y1="103.80" x2="680.00" y2="106.60" stroke="#333" stroke-width="0.8"/>
<path d="M506.00 89.60 L508.65 89.60 L512.01 89.60 L515.98 89.60 L520.44 89.60 L525.28 89.61 L530.38 89.61 L535.62 89.61 L540.89 89.61 L546.08 89.61 L551.07 89.61 L555.75 89.60 L560.00 89.60 L564.03 89.60 L568.09 89.60 L572.14 89.61 L576.15 89.61 L580.07 89.62 L583.88 89.62 L587.52 89.62 L590.96 89.61 L594.17 89.60 L597.11 89.58 L599.73 89.54 L602.00 89.50 L603.86 89.45 L605.30 89.41 L606.38 89.36 L607.17 89.31 L607.72 89.25 L608.10 89.19 L608.36 89.11 L608.56 89.01 L608.77 88.90 L609.04 88.76 L609.43 88.59 L610.00 88.40 L610.68 88.18 L611.34 87.92 L612.00 87.64 L612.65 87.33 L613.31 87.01 L613.97 86.67 L614.65 86.32 L615.35 85.96 L616.07 85.59 L616.81 85.22 L617.59 84.86 L618.40 84.50 L619.26 84.14 L620.17 83.75 L621.11 83.36 L622.09 82.96 L623.09 82.55 L624.10 82.14 L625.12 81.73 L626.13 81.33 L627.14 80.95 L628.12 80.58 L629.08 80.23 L630.00 79.90 L630.87 79.60 L631.69 79.34 L632.47 79.10 L633.23 78.88 L633.98 78.67 L634.73 78.46 L635.49 78.26 L636.28 78.04 L637.12 77.82 L638.00 77.57 L638.96 77.30 L640.00 77.00 L641.15 76.66 L642.42 76.27 L643.77 75.85 L645.20 75.41 L646.66 74.95 L648.14 74.49 L649.62 74.04 L651.06 73.60 L652.44 73.19 L653.74 72.81 L654.94 72.48 L656.00 72.20 L656.93 71.97 L657.76 71.77 L658.51 71.60 L659.18 71.45 L659.80 71.33 L660.37 71.24 L660.91 71.16 L661.44 71.10 L661.97 71.06 L662.51 71.03 L663.08 71.01 L663.70 71.00 L664.34 71.01 L664.98 71.07 L665.61 71.15 L666.25 71.26 L666.88 71.38 L667.52 71.51 L668.16 71.64 L668.80 71.76 L669.44 71.87 L670.09 71.95 L670.74 71.99 L671.40 72.00 L672.09 71.96 L672.83 71.89 L673.61 71.79 L674.40 71.66 L675.20 71.52 L675.98 71.36 L676.74 71.21 L677.46 71.05 L678.11 70.91 L678.70 70.78 L679.20 70.68 L679.60 70.60" fill="none" stroke="#c8283a" stroke-width="1.45" stroke-linejoin="round"/>
<text x="650.60" y="83.3" dy="0.35em" font-size="6.0" font-style="italic" fill="#333" transform="rotate(-90 650.60 83.3)" stroke="#333" stroke-width="0.1">IL12RA2</text>
<line x1="650.60" y1="84.40" x2="643.50" y2="93.90" stroke="#666" stroke-width="0.4"/>
<text x="657.20" y="83.3" dy="0.35em" font-size="6.0" font-style="italic" fill="#333" transform="rotate(-90 657.20 83.3)" stroke="#333" stroke-width="0.1">CD44</text>
<line x1="657.20" y1="84.40" x2="654.40" y2="93.90" stroke="#666" stroke-width="0.4"/>
<text x="664.80" y="83.3" dy="0.35em" font-size="6.0" font-style="italic" fill="#333" transform="rotate(-90 664.80 83.3)" stroke="#333" stroke-width="0.1">IL17RB</text>
<line x1="664.80" y1="84.40" x2="666.80" y2="93.90" stroke="#666" stroke-width="0.4"/>
<text x="671.90" y="83.3" dy="0.35em" font-size="6.0" font-style="italic" fill="#333" transform="rotate(-90 671.90 83.3)" stroke="#333" stroke-width="0.1">IL12RB2</text>
<line x1="671.90" y1="84.40" x2="671.40" y2="93.90" stroke="#666" stroke-width="0.4"/>
<text x="679.00" y="83.3" dy="0.35em" font-size="6.0" font-style="italic" fill="#333" transform="rotate(-90 679.00 83.3)" stroke="#333" stroke-width="0.1">FLT3</text>
<line x1="679.00" y1="84.40" x2="678.50" y2="93.90" stroke="#666" stroke-width="0.4"/>
<defs><linearGradient id="gB" x1="0" y1="0" x2="1" y2="0"><stop offset="0" stop-color="#2626f0"/><stop offset="0.45" stop-color="#3030f0"/><stop offset="0.62" stop-color="#6868f2"/><stop offset="0.85" stop-color="#7a7af0"/><stop offset="0.9" stop-color="#9a78e8"/><stop offset="1" stop-color="#e07cc0"/></linearGradient></defs>
<line x1="498.90" y1="117.60" x2="498.90" y2="137.50" stroke="#333" stroke-width="0.8"/>
<line x1="496.70" y1="117.60" x2="498.90" y2="117.60" stroke="#333" stroke-width="0.8"/>
<line x1="496.70" y1="137.50" x2="498.90" y2="137.50" stroke="#333" stroke-width="0.8"/>
<text x="493.70" y="117.60" dy="0.35em" font-size="6.8" text-anchor="middle" fill="#333" transform="rotate(-90 493.70 117.60)" stroke="#333" stroke-width="0.1">1.7</text>
<text x="493.70" y="137.50" dy="0.35em" font-size="6.8" text-anchor="middle" fill="#333" transform="rotate(-90 493.70 137.50)" stroke="#333" stroke-width="0.1">0</text>
<line x1="499.4" y1="126.0" x2="680.0" y2="126.0" stroke="#666" stroke-width="0.6" stroke-dasharray="1.8 1.1"/>
<text x="680.00" y="113.60" dy="0.35em" font-size="7.3" text-anchor="end" fill="#2424e6" stroke="#2424e6" stroke-width="0.1">mRNA binding (GOMF:0003729)</text>
<rect x="506.00" y="139.80" width="174.00" height="10.20" fill="#d2d2d2"/>
<rect x="506.00" y="139.80" width="174.00" height="10.20" fill="url(#gB)"/>
<rect x="507.00" y="139.80" width="1.00" height="10.20" fill="rgba(255,255,255,0.15)"/>
<rect x="511.98" y="139.80" width="0.80" height="10.20" fill="rgba(255,255,255,0.13)"/>
<rect x="514.21" y="139.80" width="0.80" height="10.20" fill="rgba(255,255,255,0.20)"/>
<rect x="519.48" y="139.80" width="1.00" height="10.20" fill="rgba(255,255,255,0.26)"/>
<rect x="524.68" y="139.80" width="0.40" height="10.20" fill="rgba(255,255,255,0.26)"/>
<rect x="527.09" y="139.80" width="1.00" height="10.20" fill="rgba(255,255,255,0.19)"/>
<rect x="531.00" y="139.80" width="0.60" height="10.20" fill="rgba(255,255,255,0.12)"/>
<rect x="536.68" y="139.80" width="0.40" height="10.20" fill="rgba(255,255,255,0.24)"/>
<rect x="542.08" y="139.80" width="1.00" height="10.20" fill="rgba(255,255,255,0.33)"/>
<rect x="544.75" y="139.80" width="0.40" height="10.20" fill="rgba(255,255,255,0.34)"/>
<rect x="549.35" y="139.80" width="0.60" height="10.20" fill="rgba(255,255,255,0.15)"/>
<rect x="555.52" y="139.80" width="1.00" height="10.20" fill="rgba(255,255,255,0.16)"/>
<rect x="559.57" y="139.80" width="0.60" height="10.20" fill="rgba(255,255,255,0.29)"/>
<rect x="565.14" y="139.80" width="0.60" height="10.20" fill="rgba(255,255,255,0.43)"/>
<rect x="570.64" y="139.80" width="0.60" height="10.20" fill="rgba(255,255,255,0.29)"/>
<rect x="572.76" y="139.80" width="1.00" height="10.20" fill="rgba(255,255,255,0.35)"/>
<rect x="576.85" y="139.80" width="1.00" height="10.20" fill="rgba(255,255,255,0.31)"/>
<rect x="581.60" y="139.80" width="0.40" height="10.20" fill="rgba(255,255,255,0.46)"/>
<rect x="587.03" y="139.80" width="0.80" height="10.20" fill="rgba(255,255,255,0.27)"/>
<rect x="590.38" y="139.80" width="1.00" height="10.20" fill="rgba(255,255,255,0.38)"/>
<rect x="592.93" y="139.80" width="0.60" height="10.20" fill="rgba(255,255,255,0.27)"/>
<rect x="596.06" y="139.80" width="0.60" height="10.20" fill="rgba(255,255,255,0.16)"/>
<rect x="599.39" y="139.80" width="0.40" height="10.20" fill="rgba(255,255,255,0.23)"/>
<rect x="602.33" y="139.80" width="0.40" height="10.20" fill="rgba(255,255,255,0.43)"/>
<rect x="602.93" y="139.80" width="0.60" height="10.20" fill="#3535f0"/>
<rect x="606.40" y="139.80" width="0.40" height="10.20" fill="rgba(255,255,255,0.32)"/>
<rect x="610.07" y="139.80" width="0.40" height="10.20" fill="rgba(255,255,255,0.36)"/>
<rect x="612.75" y="139.80" width="1.00" height="10.20" fill="rgba(255,255,255,0.35)"/>
<rect x="616.52" y="139.80" width="0.60" height="10.20" fill="rgba(255,255,255,0.35)"/>
<rect x="618.79" y="139.80" width="0.60" height="10.20" fill="rgba(255,255,255,0.52)"/>
<rect x="619.59" y="139.80" width="0.90" height="10.20" fill="#3535f0"/>
<rect x="623.64" y="139.80" width="0.80" height="10.20" fill="rgba(255,255,255,0.24)"/>
<rect x="627.18" y="139.80" width="0.60" height="10.20" fill="rgba(255,255,255,0.42)"/>
<rect x="632.19" y="139.80" width="0.60" height="10.20" fill="rgba(255,255,255,0.19)"/>
<rect x="636.42" y="139.80" width="0.80" height="10.20" fill="rgba(255,255,255,0.45)"/>
<rect x="637.42" y="139.80" width="0.90" height="10.20" fill="#3535f0"/>
<rect x="639.80" y="139.80" width="0.80" height="10.20" fill="rgba(255,255,255,0.29)"/>
<rect x="644.47" y="139.80" width="0.60" height="10.20" fill="rgba(255,255,255,0.38)"/>
<rect x="646.15" y="139.80" width="0.80" height="10.20" fill="rgba(255,255,255,0.60)"/>
<rect x="650.10" y="139.80" width="0.60" height="10.20" fill="rgba(255,255,255,0.51)"/>
<rect x="651.69" y="139.80" width="0.40" height="10.20" fill="rgba(255,255,255,0.50)"/>
<rect x="652.29" y="139.80" width="0.90" height="10.20" fill="#3535f0"/>
<rect x="654.31" y="139.80" width="0.60" height="10.20" fill="rgba(255,255,255,0.28)"/>
<rect x="655.98" y="139.80" width="0.80" height="10.20" fill="rgba(255,255,255,0.54)"/>
<rect x="659.48" y="139.80" width="1.00" height="10.20" fill="rgba(255,255,255,0.56)"/>
<rect x="662.41" y="139.80" width="0.80" height="10.20" fill="rgba(255,255,255,0.49)"/>
<rect x="664.55" y="139.80" width="0.60" height="10.20" fill="rgba(255,255,255,0.62)"/>
<rect x="668.69" y="139.80" width="1.00" height="10.20" fill="rgba(255,255,255,0.45)"/>
<rect x="671.64" y="139.80" width="0.40" height="10.20" fill="rgba(255,255,255,0.54)"/>
<rect x="672.24" y="139.80" width="0.90" height="10.20" fill="#3535f0"/>
<rect x="675.58" y="139.80" width="1.00" height="10.20" fill="rgba(255,255,255,0.51)"/>
<rect x="676.78" y="139.80" width="0.90" height="10.20" fill="#3535f0"/>
<line x1="506.00" y1="150.20" x2="506.00" y2="153.00" stroke="#333" stroke-width="0.8"/>
<line x1="523.40" y1="150.20" x2="523.40" y2="153.00" stroke="#333" stroke-width="0.8"/>
<line x1="540.80" y1="150.20" x2="540.80" y2="153.00" stroke="#333" stroke-width="0.8"/>
<line x1="558.20" y1="150.20" x2="558.20" y2="153.00" stroke="#333" stroke-width="0.8"/>
<line x1="575.60" y1="150.20" x2="575.60" y2="153.00" stroke="#333" stroke-width="0.8"/>
<line x1="593.00" y1="150.20" x2="593.00" y2="153.00" stroke="#333" stroke-width="0.8"/>
<line x1="610.40" y1="150.20" x2="610.40" y2="153.00" stroke="#333" stroke-width="0.8"/>
<line x1="627.80" y1="150.20" x2="627.80" y2="153.00" stroke="#333" stroke-width="0.8"/>
<line x1="645.20" y1="150.20" x2="645.20" y2="153.00" stroke="#333" stroke-width="0.8"/>
<line x1="662.60" y1="150.20" x2="662.60" y2="153.00" stroke="#333" stroke-width="0.8"/>
<line x1="680.00" y1="150.20" x2="680.00" y2="153.00" stroke="#333" stroke-width="0.8"/>
<path d="M506.00 118.73 L507.16 118.74 L508.32 118.76 L509.48 118.77 L510.64 118.79 L511.80 118.80 L512.96 118.82 L514.12 118.84 L515.28 118.86 L516.44 118.88 L517.60 118.91 L518.76 118.94 L519.92 118.96 L521.08 119.00 L522.24 119.03 L523.40 119.07 L524.56 119.11 L525.72 119.15 L526.88 119.20 L528.04 119.25 L529.20 119.31 L530.36 119.37 L531.52 119.43 L532.68 119.50 L533.84 119.57 L535.00 119.65 L536.16 119.74 L537.32 119.83 L538.48 119.93 L539.64 120.04 L540.80 120.15 L541.96 120.27 L543.12 120.40 L544.28 120.54 L545.44 120.69 L546.60 120.84 L547.76 121.01 L548.92 121.18 L550.08 121.37 L551.24 121.56 L552.40 121.76 L553.56 121.97 L554.72 122.19 L555.88 122.42 L557.04 122.66 L558.20 122.90 L559.36 123.16 L560.52 123.42 L561.68 123.68 L562.84 123.95 L564.00 124.23 L565.16 124.51 L566.32 124.79 L567.48 125.07 L568.64 125.36 L569.80 125.64 L570.96 125.92 L572.12 126.20 L573.28 126.47 L574.44 126.75 L575.60 127.01 L576.76 127.27 L577.92 127.52 L579.08 127.77 L580.24 128.00 L581.40 128.23 L582.56 128.45 L583.72 128.66 L584.88 128.86 L586.04 129.05 L587.20 129.24 L588.36 129.41 L589.52 129.57 L590.68 129.73 L591.84 129.87 L593.00 130.01 L594.16 130.14 L595.32 130.26 L596.48 130.37 L597.64 130.48 L598.80 130.58 L599.96 130.67 L601.12 130.75 L602.28 130.83 L603.44 130.91 L604.60 130.98 L605.76 131.04 L606.92 131.10 L608.08 131.16 L609.24 131.21 L610.40 131.25 L611.56 131.30 L612.72 131.34 L613.88 131.37 L615.04 131.41 L616.20 131.44 L617.36 131.47 L618.52 131.49 L619.68 131.52 L620.84 131.54 L622.00 131.56 L623.16 131.58 L624.32 131.60 L625.48 131.62 L626.64 131.63 L627.80 131.64 L628.96 131.66 L630.12 131.67 L631.28 131.68 L632.44 131.69 L633.60 131.70 L634.76 131.71 L635.92 131.71 L637.08 131.72 L638.24 131.73 L639.40 131.73 L640.56 131.74 L641.72 131.74 L642.88 131.75 L644.04 131.75 L645.20 131.76 L646.36 131.76 L647.52 131.76 L648.68 131.77 L649.84 131.77 L651.00 131.75 L652.16 131.73 L653.32 131.71 L654.48 131.69 L655.64 131.67 L656.80 131.65 L657.96 131.62 L659.12 131.60 L660.28 131.58 L661.44 131.56 L662.60 131.54 L663.76 131.51 L664.92 131.49 L666.08 131.47 L667.24 131.45 L668.40 131.42 L669.56 131.40 L670.72 131.38 L671.88 131.36 L673.04 131.33 L674.20 131.31 L675.36 131.29 L676.52 131.27 L677.68 131.24 L678.84 131.22 L680.00 131.20" fill="none" stroke="#2424e6" stroke-width="1.45" stroke-linejoin="round"/>
<text x="507.00" y="134.0" dy="0.35em" font-size="6.3" font-style="italic" fill="#333" transform="rotate(-90 507.00 134.0)" stroke="#333" stroke-width="0.1">RBM47</text>
<line x1="507.00" y1="135.50" x2="506.50" y2="139.80" stroke="#777" stroke-width="0.35"/>
<text x="514.00" y="134.0" dy="0.35em" font-size="6.3" font-style="italic" fill="#333" transform="rotate(-90 514.00 134.0)" stroke="#333" stroke-width="0.1">SLC25A11</text>
<line x1="514.00" y1="135.50" x2="506.50" y2="139.80" stroke="#777" stroke-width="0.35"/>
<text x="521.00" y="134.0" dy="0.35em" font-size="6.3" font-style="italic" fill="#333" transform="rotate(-90 521.00 134.0)" stroke="#333" stroke-width="0.1">SORBS2</text>
<line x1="521.00" y1="135.50" x2="506.50" y2="139.80" stroke="#777" stroke-width="0.35"/>
<text x="528.00" y="134.0" dy="0.35em" font-size="6.3" font-style="italic" fill="#333" transform="rotate(-90 528.00 134.0)" stroke="#333" stroke-width="0.1">ELAVL2</text>
<line x1="528.00" y1="135.50" x2="506.50" y2="139.80" stroke="#777" stroke-width="0.35"/>
<text x="535.50" y="134.0" dy="0.35em" font-size="6.3" font-style="italic" fill="#333" transform="rotate(-90 535.50 134.0)" stroke="#333" stroke-width="0.1">PUF60</text>
<line x1="535.50" y1="135.50" x2="506.50" y2="139.80" stroke="#777" stroke-width="0.35"/>
<text x="505.00" y="154.30" dy="0.35em" font-size="7.5" text-anchor="end" fill="#333" transform="rotate(-90 505.00 154.30)" stroke="#333" stroke-width="0.1">-3.44</text>
<text x="522.40" y="154.30" dy="0.35em" font-size="7.5" text-anchor="end" fill="#333" transform="rotate(-90 522.40 154.30)" stroke="#333" stroke-width="0.1">-1.08</text>
<text x="539.80" y="154.30" dy="0.35em" font-size="7.5" text-anchor="end" fill="#333" transform="rotate(-90 539.80 154.30)" stroke="#333" stroke-width="0.1">-0.77</text>
<text x="557.20" y="154.30" dy="0.35em" font-size="7.5" text-anchor="end" fill="#333" transform="rotate(-90 557.20 154.30)" stroke="#333" stroke-width="0.1">-0.49</text>
<text x="574.60" y="154.30" dy="0.35em" font-size="7.5" text-anchor="end" fill="#333" transform="rotate(-90 574.60 154.30)" stroke="#333" stroke-width="0.1">-0.22</text>
<text x="592.00" y="154.30" dy="0.35em" font-size="7.5" text-anchor="end" fill="#333" transform="rotate(-90 592.00 154.30)" stroke="#333" stroke-width="0.1">0.05</text>
<text x="609.40" y="154.30" dy="0.35em" font-size="7.5" text-anchor="end" fill="#333" transform="rotate(-90 609.40 154.30)" stroke="#333" stroke-width="0.1">0.30</text>
<text x="626.80" y="154.30" dy="0.35em" font-size="7.5" text-anchor="end" fill="#333" transform="rotate(-90 626.80 154.30)" stroke="#333" stroke-width="0.1">0.57</text>
<text x="644.20" y="154.30" dy="0.35em" font-size="7.5" text-anchor="end" fill="#333" transform="rotate(-90 644.20 154.30)" stroke="#333" stroke-width="0.1">0.89</text>
<text x="661.60" y="154.30" dy="0.35em" font-size="7.5" text-anchor="end" fill="#333" transform="rotate(-90 661.60 154.30)" stroke="#333" stroke-width="0.1">1.31</text>
<text x="679.00" y="154.30" dy="0.35em" font-size="7.5" text-anchor="end" fill="#333" transform="rotate(-90 679.00 154.30)" stroke="#333" stroke-width="0.1">5.14</text>
<text x="592.5" y="180.6" dy="0.35em" font-size="9.9" text-anchor="middle" fill="#222" stroke="#222" stroke-width="0.1">Weighted <tspan font-style="italic">t</tspan>-statistic (Hippocampus)</text>
<text x="472.00" y="88.50" dy="0.35em" font-size="9.5" text-anchor="middle" fill="#222" transform="rotate(-90 472.00 88.50)" stroke="#222" stroke-width="0.1">Enrichment</text>
<rect x="287.40" y="221.10" width="5.83" height="6.24" fill="#ef4227" stroke="#8a8a8a" stroke-width="0.25"/>
<rect x="293.23" y="221.10" width="5.83" height="6.24" fill="#f1634b" stroke="#8a8a8a" stroke-width="0.25"/>
<rect x="299.06" y="221.10" width="5.83" height="6.24" fill="#f6b7a8" stroke="#8a8a8a" stroke-width="0.25"/>
<rect x="304.89" y="221.10" width="5.83" height="6.24" fill="#f9cfc5" stroke="#8a8a8a" stroke-width="0.25"/>
<rect x="310.72" y="221.10" width="5.83" height="6.24" fill="#f4a592" stroke="#8a8a8a" stroke-width="0.25"/>
<rect x="316.55" y="221.10" width="5.83" height="6.24" fill="#f5b1a0" stroke="#8a8a8a" stroke-width="0.25"/>
<rect x="322.38" y="221.10" width="5.83" height="6.24" fill="#fdede9" stroke="#8a8a8a" stroke-width="0.25"/>
<rect x="328.21" y="221.10" width="5.83" height="6.24" fill="#bcdaf3" stroke="#8a8a8a" stroke-width="0.25"/>
<rect x="334.04" y="221.10" width="5.83" height="6.24" fill="#fadbd3" stroke="#8a8a8a" stroke-width="0.25"/>
<rect x="339.87" y="221.10" width="5.83" height="6.24" fill="#9bc7ed" stroke="#8a8a8a" stroke-width="0.25"/>
<rect x="345.70" y="221.10" width="5.83" height="6.24" fill="#ffffff" stroke="#8a8a8a" stroke-width="0.25"/>
<rect x="351.53" y="221.10" width="5.83" height="6.24" fill="#bcdaf3" stroke="#8a8a8a" stroke-width="0.25"/>
<rect x="357.36" y="221.10" width="5.83" height="6.24" fill="#5a9be0" stroke="#8a8a8a" stroke-width="0.25"/>
<rect x="363.19" y="221.10" width="5.83" height="6.24" fill="#9bc7ed" stroke="#8a8a8a" stroke-width="0.25"/>
<rect x="369.02" y="221.10" width="5.83" height="6.24" fill="#bcdaf3" stroke="#8a8a8a" stroke-width="0.25"/>
<rect x="287.40" y="227.34" width="5.83" height="6.24" fill="#f1634b" stroke="#8a8a8a" stroke-width="0.25"/>
<rect x="293.23" y="227.34" width="5.83" height="6.24" fill="#ef4227" stroke="#8a8a8a" stroke-width="0.25"/>
<rect x="299.06" y="227.34" width="5.83" height="6.24" fill="#f5b1a0" stroke="#8a8a8a" stroke-width="0.25"/>
<rect x="304.89" y="227.34" width="5.83" height="6.24" fill="#f6b7a8" stroke="#8a8a8a" stroke-width="0.25"/>
<rect x="310.72" y="227.34" width="5.83" height="6.24" fill="#f2846e" stroke="#8a8a8a" stroke-width="0.25"/>
<rect x="316.55" y="227.34" width="5.83" height="6.24" fill="#f2917c" stroke="#8a8a8a" stroke-width="0.25"/>
<rect x="322.38" y="227.34" width="5.83" height="6.24" fill="#fce7e2" stroke="#8a8a8a" stroke-width="0.25"/>
<rect x="328.21" y="227.34" width="5.83" height="6.24" fill="#cae1f5" stroke="#8a8a8a" stroke-width="0.25"/>
<rect x="334.04" y="227.34" width="5.83" height="6.24" fill="#cae1f5" stroke="#8a8a8a" stroke-width="0.25"/>
<rect x="339.87" y="227.34" width="5.83" height="6.24" fill="#9bc7ed" stroke="#8a8a8a" stroke-width="0.25"/>
<rect x="345.70" y="227.34" width="5.83" height="6.24" fill="#ebf4fb" stroke="#8a8a8a" stroke-width="0.25"/>
<rect x="351.53" y="227.34" width="5.83" height="6.24" fill="#9bc7ed" stroke="#8a8a8a" stroke-width="0.25"/>
<rect x="357.36" y="227.34" width="5.83" height="6.24" fill="#5a9be0" stroke="#8a8a8a" stroke-width="0.25"/>
<rect x="363.19" y="227.34" width="5.83" height="6.24" fill="#7bb1e7" stroke="#8a8a8a" stroke-width="0.25"/>
<rect x="369.02" y="227.34" width="5.83" height="6.24" fill="#7bb1e7" stroke="#8a8a8a" stroke-width="0.25"/>
<rect x="287.40" y="233.58" width="5.83" height="6.24" fill="#f6b7a8" stroke="#8a8a8a" stroke-width="0.25"/>
<rect x="293.23" y="233.58" width="5.83" height="6.24" fill="#f5b1a0" stroke="#8a8a8a" stroke-width="0.25"/>
<rect x="299.06" y="233.58" width="5.83" height="6.24" fill="#ef4227" stroke="#8a8a8a" stroke-width="0.25"/>
<rect x="304.89" y="233.58" width="5.83" height="6.24" fill="#f7c3b6" stroke="#8a8a8a" stroke-width="0.25"/>
<rect x="310.72" y="233.58" width="5.83" height="6.24" fill="#f4a592" stroke="#8a8a8a" stroke-width="0.25"/>
<rect x="316.55" y="233.58" width="5.83" height="6.24" fill="#f2917c" stroke="#8a8a8a" stroke-width="0.25"/>
<rect x="322.38" y="233.58" width="5.83" height="6.24" fill="#d0e5f7" stroke="#8a8a8a" stroke-width="0.25"/>
<rect x="328.21" y="233.58" width="5.83" height="6.24" fill="#fad5cc" stroke="#8a8a8a" stroke-width="0.25"/>
<rect x="334.04" y="233.58" width="5.83" height="6.24" fill="#9bc7ed" stroke="#8a8a8a" stroke-width="0.25"/>
<rect x="339.87" y="233.58" width="5.83" height="6.24" fill="#9bc7ed" stroke="#8a8a8a" stroke-width="0.25"/>
<rect x="345.70" y="233.58" width="5.83" height="6.24" fill="#bcdaf3" stroke="#8a8a8a" stroke-width="0.25"/>
<rect x="351.53" y="233.58" width="5.83" height="6.24" fill="#ffffff" stroke="#8a8a8a" stroke-width="0.25"/>
<rect x="357.36" y="233.58" width="5.83" height="6.24" fill="#bcdaf3" stroke="#8a8a8a" stroke-width="0.25"/>
<rect x="363.19" y="233.58" width="5.83" height="6.24" fill="#9bc7ed" stroke="#8a8a8a" stroke-width="0.25"/>
<rect x="369.02" y="233.58" width="5.83" height="6.24" fill="#bcdaf3" stroke="#8a8a8a" stroke-width="0.25"/>
<rect x="287.40" y="239.82" width="5.83" height="6.24" fill="#f9cfc5" stroke="#8a8a8a" stroke-width="0.25"/>
<rect x="293.23" y="239.82" width="5.83" height="6.24" fill="#f6b7a8" stroke="#8a8a8a" stroke-width="0.25"/>
<rect x="299.06" y="239.82" width="5.83" height="6.24" fill="#f7c3b6" stroke="#8a8a8a" stroke-width="0.25"/>
<rect x="304.89" y="239.82" width="5.83" height="6.24" fill="#ef4227" stroke="#8a8a8a" stroke-width="0.25"/>
<rect x="310.72" y="239.82" width="5.83" height="6.24" fill="#f1634b" stroke="#8a8a8a" stroke-width="0.25"/>
<rect x="316.55" y="239.82" width="5.83" height="6.24" fill="#f05035" stroke="#8a8a8a" stroke-width="0.25"/>
<rect x="322.38" y="239.82" width="5.83" height="6.24" fill="#e4f0fa" stroke="#8a8a8a" stroke-width="0.25"/>
<rect x="328.21" y="239.82" width="5.83" height="6.24" fill="#bcdaf3" stroke="#8a8a8a" stroke-width="0.25"/>
<rect x="334.04" y="239.82" width="5.83" height="6.24" fill="#9bc7ed" stroke="#8a8a8a" stroke-width="0.25"/>
<rect x="339.87" y="239.82" width="5.83" height="6.24" fill="#3985da" stroke="#8a8a8a" stroke-width="0.25"/>
<rect x="345.70" y="239.82" width="5.83" height="6.24" fill="#5a9be0" stroke="#8a8a8a" stroke-width="0.25"/>
<rect x="351.53" y="239.82" width="5.83" height="6.24" fill="#ffffff" stroke="#8a8a8a" stroke-width="0.25"/>
<rect x="357.36" y="239.82" width="5.83" height="6.24" fill="#afd2f1" stroke="#8a8a8a" stroke-width="0.25"/>
<rect x="363.19" y="239.82" width="5.83" height="6.24" fill="#9bc7ed" stroke="#8a8a8a" stroke-width="0.25"/>
<rect x="369.02" y="239.82" width="5.83" height="6.24" fill="#9bc7ed" stroke="#8a8a8a" stroke-width="0.25"/>
<rect x="287.40" y="246.06" width="5.83" height="6.24" fill="#f4a592" stroke="#8a8a8a" stroke-width="0.25"/>
<rect x="293.23" y="246.06" width="5.83" height="6.24" fill="#f2846e" stroke="#8a8a8a" stroke-width="0.25"/>
<rect x="299.06" y="246.06" width="5.83" height="6.24" fill="#f4a592" stroke="#8a8a8a" stroke-width="0.25"/>
<rect x="304.89" y="246.06" width="5.83" height="6.24" fill="#f1634b" stroke="#8a8a8a" stroke-width="0.25"/>
<rect x="310.72" y="246.06" width="5.83" height="6.24" fill="#ef4227" stroke="#8a8a8a" stroke-width="0.25"/>
<rect x="316.55" y="246.06" width="5.83" height="6.24" fill="#f05035" stroke="#8a8a8a" stroke-width="0.25"/>
<rect x="322.38" y="246.06" width="5.83" height="6.24" fill="#fbe1db" stroke="#8a8a8a" stroke-width="0.25"/>
<rect x="328.21" y="246.06" width="5.83" height="6.24" fill="#cae1f5" stroke="#8a8a8a" stroke-width="0.25"/>
<rect x="334.04" y="246.06" width="5.83" height="6.24" fill="#9bc7ed" stroke="#8a8a8a" stroke-width="0.25"/>
<rect x="339.87" y="246.06" width="5.83" height="6.24" fill="#5a9be0" stroke="#8a8a8a" stroke-width="0.25"/>
<rect x="345.70" y="246.06" width="5.83" height="6.24" fill="#7bb1e7" stroke="#8a8a8a" stroke-width="0.25"/>
<rect x="351.53" y="246.06" width="5.83" height="6.24" fill="#cae1f5" stroke="#8a8a8a" stroke-width="0.25"/>
<rect x="357.36" y="246.06" width="5.83" height="6.24" fill="#9bc7ed" stroke="#8a8a8a" stroke-width="0.25"/>
<rect x="363.19" y="246.06" width="5.83" height="6.24" fill="#7bb1e7" stroke="#8a8a8a" stroke-width="0.25"/>
<rect x="369.02" y="246.06" width="5.83" height="6.24" fill="#9bc7ed" stroke="#8a8a8a" stroke-width="0.25"/>
<rect x="287.40" y="252.30" width="5.83" height="6.24" fill="#f5b1a0" stroke="#8a8a8a" stroke-width="0.25"/>
<rect x="293.23" y="252.30" width="5.83" height="6.24" fill="#f2917c" stroke="#8a8a8a" stroke-width="0.25"/>
<rect x="299.06" y="252.30" width="5.83" height="6.24" fill="#f2917c" stroke="#8a8a8a" stroke-width="0.25"/>
<rect x="304.89" y="252.30" width="5.83" height="6.24" fill="#f05035" stroke="#8a8a8a" stroke-width="0.25"/>
<rect x="310.72" y="252.30" width="5.83" height="6.24" fill="#f05035" stroke="#8a8a8a" stroke-width="0.25"/>
<rect x="316.55" y="252.30" width="5.83" height="6.24" fill="#ef4227" stroke="#8a8a8a" stroke-width="0.25"/>
<rect x="322.38" y="252.30" width="5.83" height="6.24" fill="#e4f0fa" stroke="#8a8a8a" stroke-width="0.25"/>
<rect x="328.21" y="252.30" width="5.83" height="6.24" fill="#cae1f5" stroke="#8a8a8a" stroke-width="0.25"/>
<rect x="334.04" y="252.30" width="5.83" height="6.24" fill="#88bae9" stroke="#8a8a8a" stroke-width="0.25"/>
<rect x="339.87" y="252.30" width="5.83" height="6.24" fill="#468edd" stroke="#8a8a8a" stroke-width="0.25"/>
<rect x="345.70" y="252.30" width="5.83" height="6.24" fill="#7bb1e7" stroke="#8a8a8a" stroke-width="0.25"/>
<rect x="351.53" y="252.30" width="5.83" height="6.24" fill="#cae1f5" stroke="#8a8a8a" stroke-width="0.25"/>
<rect x="357.36" y="252.30" width="5.83" height="6.24" fill="#9bc7ed" stroke="#8a8a8a" stroke-width="0.25"/>
<rect x="363.19" y="252.30" width="5.83" height="6.24" fill="#7bb1e7" stroke="#8a8a8a" stroke-width="0.25"/>
<rect x="369.02" y="252.30" width="5.83" height="6.24" fill="#9bc7ed" stroke="#8a8a8a" stroke-width="0.25"/>
<rect x="287.40" y="258.54" width="5.83" height="6.24" fill="#fdede9" stroke="#8a8a8a" stroke-width="0.25"/>
<rect x="293.23" y="258.54" width="5.83" height="6.24" fill="#fce7e2" stroke="#8a8a8a" stroke-width="0.25"/>
<rect x="299.06" y="258.54" width="5.83" height="6.24" fill="#d0e5f7" stroke="#8a8a8a" stroke-width="0.25"/>
<rect x="304.89" y="258.54" width="5.83" height="6.24" fill="#e4f0fa" stroke="#8a8a8a" stroke-width="0.25"/>
<rect x="310.72" y="258.54" width="5.83" height="6.24" fill="#fbe1db" stroke="#8a8a8a" stroke-width="0.25"/>
<rect x="316.55" y="258.54" width="5.83" height="6.24" fill="#e4f0fa" stroke="#8a8a8a" stroke-width="0.25"/>
<rect x="322.38" y="258.54" width="5.83" height="6.24" fill="#ef4227" stroke="#8a8a8a" stroke-width="0.25"/>
<rect x="328.21" y="258.54" width="5.83" height="6.24" fill="#cae1f5" stroke="#8a8a8a" stroke-width="0.25"/>
<rect x="334.04" y="258.54" width="5.83" height="6.24" fill="#f7c3b6" stroke="#8a8a8a" stroke-width="0.25"/>
<rect x="339.87" y="258.54" width="5.83" height="6.24" fill="#fbe1db" stroke="#8a8a8a" stroke-width="0.25"/>
<rect x="345.70" y="258.54" width="5.83" height="6.24" fill="#fadbd3" stroke="#8a8a8a" stroke-width="0.25"/>
<rect x="351.53" y="258.54" width="5.83" height="6.24" fill="#fce7e2" stroke="#8a8a8a" stroke-width="0.25"/>
<rect x="357.36" y="258.54" width="5.83" height="6.24" fill="#ffffff" stroke="#8a8a8a" stroke-width="0.25"/>
<rect x="363.19" y="258.54" width="5.83" height="6.24" fill="#fce7e2" stroke="#8a8a8a" stroke-width="0.25"/>
<rect x="369.02" y="258.54" width="5.83" height="6.24" fill="#f9cfc5" stroke="#8a8a8a" stroke-width="0.25"/>
<rect x="287.40" y="264.78" width="5.83" height="6.24" fill="#bcdaf3" stroke="#8a8a8a" stroke-width="0.25"/>
<rect x="293.23" y="264.78" width="5.83" height="6.24" fill="#bcdaf3" stroke="#8a8a8a" stroke-width="0.25"/>
<rect x="299.06" y="264.78" width="5.83" height="6.24" fill="#fbe1db" stroke="#8a8a8a" stroke-width="0.25"/>
<rect x="304.89" y="264.78" width="5.83" height="6.24" fill="#bcdaf3" stroke="#8a8a8a" stroke-width="0.25"/>
<rect x="310.72" y="264.78" width="5.83" height="6.24" fill="#cae1f5" stroke="#8a8a8a" stroke-width="0.25"/>
<rect x="316.55" y="264.78" width="5.83" height="6.24" fill="#bcdaf3" stroke="#8a8a8a" stroke-width="0.25"/>
<rect x="322.38" y="264.78" width="5.83" height="6.24" fill="#d7e9f8" stroke="#8a8a8a" stroke-width="0.25"/>
<rect x="328.21" y="264.78" width="5.83" height="6.24" fill="#ef4227" stroke="#8a8a8a" stroke-width="0.25"/>
<rect x="334.04" y="264.78" width="5.83" height="6.24" fill="#9bc7ed" stroke="#8a8a8a" stroke-width="0.25"/>
<rect x="339.87" y="264.78" width="5.83" height="6.24" fill="#f9cfc5" stroke="#8a8a8a" stroke-width="0.25"/>
<rect x="345.70" y="264.78" width="5.83" height="6.24" fill="#fadbd3" stroke="#8a8a8a" stroke-width="0.25"/>
<rect x="351.53" y="264.78" width="5.83" height="6.24" fill="#cae1f5" stroke="#8a8a8a" stroke-width="0.25"/>
<rect x="357.36" y="264.78" width="5.83" height="6.24" fill="#fce7e2" stroke="#8a8a8a" stroke-width="0.25"/>
<rect x="363.19" y="264.78" width="5.83" height="6.24" fill="#ebf4fb" stroke="#8a8a8a" stroke-width="0.25"/>
<rect x="369.02" y="264.78" width="5.83" height="6.24" fill="#cae1f5" stroke="#8a8a8a" stroke-width="0.25"/>
<rect x="287.40" y="271.02" width="5.83" height="6.24" fill="#fadbd3" stroke="#8a8a8a" stroke-width="0.25"/>
<rect x="293.23" y="271.02" width="5.83" height="6.24" fill="#cae1f5" stroke="#8a8a8a" stroke-width="0.25"/>
<rect x="299.06" y="271.02" width="5.83" height="6.24" fill="#9bc7ed" stroke="#8a8a8a" stroke-width="0.25"/>
<rect x="304.89" y="271.02" width="5.83" height="6.24" fill="#9bc7ed" stroke="#8a8a8a" stroke-width="0.25"/>
<rect x="310.72" y="271.02" width="5.83" height="6.24" fill="#9bc7ed" stroke="#8a8a8a" stroke-width="0.25"/>
<rect x="316.55" y="271.02" width="5.83" height="6.24" fill="#7bb1e7" stroke="#8a8a8a" stroke-width="0.25"/>
<rect x="322.38" y="271.02" width="5.83" height="6.24" fill="#f7c3b6" stroke="#8a8a8a" stroke-width="0.25"/>
<rect x="328.21" y="271.02" width="5.83" height="6.24" fill="#9bc7ed" stroke="#8a8a8a" stroke-width="0.25"/>
<rect x="334.04" y="271.02" width="5.83" height="6.24" fill="#ef4227" stroke="#8a8a8a" stroke-width="0.25"/>
<rect x="339.87" y="271.02" width="5.83" height="6.24" fill="#f2846e" stroke="#8a8a8a" stroke-width="0.25"/>
<rect x="345.70" y="271.02" width="5.83" height="6.24" fill="#f4a592" stroke="#8a8a8a" stroke-width="0.25"/>
<rect x="351.53" y="271.02" width="5.83" height="6.24" fill="#f9cfc5" stroke="#8a8a8a" stroke-width="0.25"/>
<rect x="357.36" y="271.02" width="5.83" height="6.24" fill="#fdede9" stroke="#8a8a8a" stroke-width="0.25"/>
<rect x="363.19" y="271.02" width="5.83" height="6.24" fill="#f2917c" stroke="#8a8a8a" stroke-width="0.25"/>
<rect x="369.02" y="271.02" width="5.83" height="6.24" fill="#f2846e" stroke="#8a8a8a" stroke-width="0.25"/>
<rect x="287.40" y="277.26" width="5.83" height="6.24" fill="#9bc7ed" stroke="#8a8a8a" stroke-width="0.25"/>
<rect x="293.23" y="277.26" width="5.83" height="6.24" fill="#7bb1e7" stroke="#8a8a8a" stroke-width="0.25"/>
<rect x="299.06" y="277.26" width="5.83" height="6.24" fill="#9bc7ed" stroke="#8a8a8a" stroke-width="0.25"/>
<rect x="304.89" y="277.26" width="5.83" height="6.24" fill="#5a9be0" stroke="#8a8a8a" stroke-width="0.25"/>
<rect x="310.72" y="277.26" width="5.83" height="6.24" fill="#5a9be0" stroke="#8a8a8a" stroke-width="0.25"/>
<rect x="316.55" y="277.26" width="5.83" height="6.24" fill="#468edd" stroke="#8a8a8a" stroke-width="0.25"/>
<rect x="322.38" y="277.26" width="5.83" height="6.24" fill="#fbe1db" stroke="#8a8a8a" stroke-width="0.25"/>
<rect x="328.21" y="277.26" width="5.83" height="6.24" fill="#fad5cc" stroke="#8a8a8a" stroke-width="0.25"/>
<rect x="334.04" y="277.26" width="5.83" height="6.24" fill="#f2846e" stroke="#8a8a8a" stroke-width="0.25"/>
<rect x="339.87" y="277.26" width="5.83" height="6.24" fill="#ef4227" stroke="#8a8a8a" stroke-width="0.25"/>
<rect x="345.70" y="277.26" width="5.83" height="6.24" fill="#f1634b" stroke="#8a8a8a" stroke-width="0.25"/>
<rect x="351.53" y="277.26" width="5.83" height="6.24" fill="#f9cfc5" stroke="#8a8a8a" stroke-width="0.25"/>
<rect x="357.36" y="277.26" width="5.83" height="6.24" fill="#f4a592" stroke="#8a8a8a" stroke-width="0.25"/>
<rect x="363.19" y="277.26" width="5.83" height="6.24" fill="#f2846e" stroke="#8a8a8a" stroke-width="0.25"/>
<rect x="369.02" y="277.26" width="5.83" height="6.24" fill="#f2846e" stroke="#8a8a8a" stroke-width="0.25"/>
<rect x="287.40" y="283.50" width="5.83" height="6.24" fill="#ffffff" stroke="#8a8a8a" stroke-width="0.25"/>
<rect x="293.23" y="283.50" width="5.83" height="6.24" fill="#ebf4fb" stroke="#8a8a8a" stroke-width="0.25"/>
<rect x="299.06" y="283.50" width="5.83" height="6.24" fill="#bcdaf3" stroke="#8a8a8a" stroke-width="0.25"/>
<rect x="304.89" y="283.50" width="5.83" height="6.24" fill="#5a9be0" stroke="#8a8a8a" stroke-width="0.25"/>
<rect x="310.72" y="283.50" width="5.83" height="6.24" fill="#7bb1e7" stroke="#8a8a8a" stroke-width="0.25"/>
<rect x="316.55" y="283.50" width="5.83" height="6.24" fill="#7bb1e7" stroke="#8a8a8a" stroke-width="0.25"/>
<rect x="322.38" y="283.50" width="5.83" height="6.24" fill="#fadbd3" stroke="#8a8a8a" stroke-width="0.25"/>
<rect x="328.21" y="283.50" width="5.83" height="6.24" fill="#f9cfc5" stroke="#8a8a8a" stroke-width="0.25"/>
<rect x="334.04" y="283.50" width="5.83" height="6.24" fill="#f4a592" stroke="#8a8a8a" stroke-width="0.25"/>
<rect x="339.87" y="283.50" width="5.83" height="6.24" fill="#f1634b" stroke="#8a8a8a" stroke-width="0.25"/>
<rect x="345.70" y="283.50" width="5.83" height="6.24" fill="#ef4227" stroke="#8a8a8a" stroke-width="0.25"/>
<rect x="351.53" y="283.50" width="5.83" height="6.24" fill="#9bc7ed" stroke="#8a8a8a" stroke-width="0.25"/>
<rect x="357.36" y="283.50" width="5.83" height="6.24" fill="#f9cfc5" stroke="#8a8a8a" stroke-width="0.25"/>
<rect x="363.19" y="283.50" width="5.83" height="6.24" fill="#f7c3b6" stroke="#8a8a8a" stroke-width="0.25"/>
<rect x="369.02" y="283.50" width="5.83" height="6.24" fill="#fdede9" stroke="#8a8a8a" stroke-width="0.25"/>
<rect x="287.40" y="289.74" width="5.83" height="6.24" fill="#bcdaf3" stroke="#8a8a8a" stroke-width="0.25"/>
<rect x="293.23" y="289.74" width="5.83" height="6.24" fill="#7bb1e7" stroke="#8a8a8a" stroke-width="0.25"/>
<rect x="299.06" y="289.74" width="5.83" height="6.24" fill="#ffffff" stroke="#8a8a8a" stroke-width="0.25"/>
<rect x="304.89" y="289.74" width="5.83" height="6.24" fill="#ffffff" stroke="#8a8a8a" stroke-width="0.25"/>
<rect x="310.72" y="289.74" width="5.83" height="6.24" fill="#bcdaf3" stroke="#8a8a8a" stroke-width="0.25"/>
<rect x="316.55" y="289.74" width="5.83" height="6.24" fill="#cae1f5" stroke="#8a8a8a" stroke-width="0.25"/>
<rect x="322.38" y="289.74" width="5.83" height="6.24" fill="#fdede9" stroke="#8a8a8a" stroke-width="0.25"/>
<rect x="328.21" y="289.74" width="5.83" height="6.24" fill="#bcdaf3" stroke="#8a8a8a" stroke-width="0.25"/>
<rect x="334.04" y="289.74" width="5.83" height="6.24" fill="#f9cfc5" stroke="#8a8a8a" stroke-width="0.25"/>
<rect x="339.87" y="289.74" width="5.83" height="6.24" fill="#fad5cc" stroke="#8a8a8a" stroke-width="0.25"/>
<rect x="345.70" y="289.74" width="5.83" height="6.24" fill="#9bc7ed" stroke="#8a8a8a" stroke-width="0.25"/>
<rect x="351.53" y="289.74" width="5.83" height="6.24" fill="#ef4227" stroke="#8a8a8a" stroke-width="0.25"/>
<rect x="357.36" y="289.74" width="5.83" height="6.24" fill="#f4a592" stroke="#8a8a8a" stroke-width="0.25"/>
<rect x="363.19" y="289.74" width="5.83" height="6.24" fill="#f2917c" stroke="#8a8a8a" stroke-width="0.25"/>
<rect x="369.02" y="289.74" width="5.83" height="6.24" fill="#f2846e" stroke="#8a8a8a" stroke-width="0.25"/>
<rect x="287.40" y="295.98" width="5.83" height="6.24" fill="#7bb1e7" stroke="#8a8a8a" stroke-width="0.25"/>
<rect x="293.23" y="295.98" width="5.83" height="6.24" fill="#5a9be0" stroke="#8a8a8a" stroke-width="0.25"/>
<rect x="299.06" y="295.98" width="5.83" height="6.24" fill="#bcdaf3" stroke="#8a8a8a" stroke-width="0.25"/>
<rect x="304.89" y="295.98" width="5.83" height="6.24" fill="#bcdaf3" stroke="#8a8a8a" stroke-width="0.25"/>
<rect x="310.72" y="295.98" width="5.83" height="6.24" fill="#9bc7ed" stroke="#8a8a8a" stroke-width="0.25"/>
<rect x="316.55" y="295.98" width="5.83" height="6.24" fill="#9bc7ed" stroke="#8a8a8a" stroke-width="0.25"/>
<rect x="322.38" y="295.98" width="5.83" height="6.24" fill="#ffffff" stroke="#8a8a8a" stroke-width="0.25"/>
<rect x="328.21" y="295.98" width="5.83" height="6.24" fill="#fce7e2" stroke="#8a8a8a" stroke-width="0.25"/>
<rect x="334.04" y="295.98" width="5.83" height="6.24" fill="#fdede9" stroke="#8a8a8a" stroke-width="0.25"/>
<rect x="339.87" y="295.98" width="5.83" height="6.24" fill="#f4a592" stroke="#8a8a8a" stroke-width="0.25"/>
<rect x="345.70" y="295.98" width="5.83" height="6.24" fill="#f9cfc5" stroke="#8a8a8a" stroke-width="0.25"/>
<rect x="351.53" y="295.98" width="5.83" height="6.24" fill="#f4a592" stroke="#8a8a8a" stroke-width="0.25"/>
<rect x="357.36" y="295.98" width="5.83" height="6.24" fill="#ef4227" stroke="#8a8a8a" stroke-width="0.25"/>
<rect x="363.19" y="295.98" width="5.83" height="6.24" fill="#f2846e" stroke="#8a8a8a" stroke-width="0.25"/>
<rect x="369.02" y="295.98" width="5.83" height="6.24" fill="#f4a592" stroke="#8a8a8a" stroke-width="0.25"/>
<rect x="287.40" y="302.22" width="5.83" height="6.24" fill="#9bc7ed" stroke="#8a8a8a" stroke-width="0.25"/>
<rect x="293.23" y="302.22" width="5.83" height="6.24" fill="#7bb1e7" stroke="#8a8a8a" stroke-width="0.25"/>
<rect x="299.06" y="302.22" width="5.83" height="6.24" fill="#9bc7ed" stroke="#8a8a8a" stroke-width="0.25"/>
<rect x="304.89" y="302.22" width="5.83" height="6.24" fill="#9bc7ed" stroke="#8a8a8a" stroke-width="0.25"/>
<rect x="310.72" y="302.22" width="5.83" height="6.24" fill="#7bb1e7" stroke="#8a8a8a" stroke-width="0.25"/>
<rect x="316.55" y="302.22" width="5.83" height="6.24" fill="#7bb1e7" stroke="#8a8a8a" stroke-width="0.25"/>
<rect x="322.38" y="302.22" width="5.83" height="6.24" fill="#fdede9" stroke="#8a8a8a" stroke-width="0.25"/>
<rect x="328.21" y="302.22" width="5.83" height="6.24" fill="#ebf4fb" stroke="#8a8a8a" stroke-width="0.25"/>
<rect x="334.04" y="302.22" width="5.83" height="6.24" fill="#f4a592" stroke="#8a8a8a" stroke-width="0.25"/>
<rect x="339.87" y="302.22" width="5.83" height="6.24" fill="#f2846e" stroke="#8a8a8a" stroke-width="0.25"/>
<rect x="345.70" y="302.22" width="5.83" height="6.24" fill="#f9cfc5" stroke="#8a8a8a" stroke-width="0.25"/>
<rect x="351.53" y="302.22" width="5.83" height="6.24" fill="#f2846e" stroke="#8a8a8a" stroke-width="0.25"/>
<rect x="357.36" y="302.22" width="5.83" height="6.24" fill="#f2846e" stroke="#8a8a8a" stroke-width="0.25"/>
<rect x="363.19" y="302.22" width="5.83" height="6.24" fill="#ef4227" stroke="#8a8a8a" stroke-width="0.25"/>
<rect x="369.02" y="302.22" width="5.83" height="6.24" fill="#f2846e" stroke="#8a8a8a" stroke-width="0.25"/>
<rect x="287.40" y="308.46" width="5.83" height="6.24" fill="#bcdaf3" stroke="#8a8a8a" stroke-width="0.25"/>
<rect x="293.23" y="308.46" width="5.83" height="6.24" fill="#7bb1e7" stroke="#8a8a8a" stroke-width="0.25"/>
<rect x="299.06" y="308.46" width="5.83" height="6.24" fill="#bcdaf3" stroke="#8a8a8a" stroke-width="0.25"/>
<rect x="304.89" y="308.46" width="5.83" height="6.24" fill="#bcdaf3" stroke="#8a8a8a" stroke-width="0.25"/>
<rect x="310.72" y="308.46" width="5.83" height="6.24" fill="#7bb1e7" stroke="#8a8a8a" stroke-width="0.25"/>
<rect x="316.55" y="308.46" width="5.83" height="6.24" fill="#9bc7ed" stroke="#8a8a8a" stroke-width="0.25"/>
<rect x="322.38" y="308.46" width="5.83" height="6.24" fill="#fce7e2" stroke="#8a8a8a" stroke-width="0.25"/>
<rect x="328.21" y="308.46" width="5.83" height="6.24" fill="#cae1f5" stroke="#8a8a8a" stroke-width="0.25"/>
<rect x="334.04" y="308.46" width="5.83" height="6.24" fill="#f2846e" stroke="#8a8a8a" stroke-width="0.25"/>
<rect x="339.87" y="308.46" width="5.83" height="6.24" fill="#f2846e" stroke="#8a8a8a" stroke-width="0.25"/>
<rect x="345.70" y="308.46" width="5.83" height="6.24" fill="#ffffff" stroke="#8a8a8a" stroke-width="0.25"/>
<rect x="351.53" y="308.46" width="5.83" height="6.24" fill="#f2846e" stroke="#8a8a8a" stroke-width="0.25"/>
<rect x="357.36" y="308.46" width="5.83" height="6.24" fill="#f4a592" stroke="#8a8a8a" stroke-width="0.25"/>
<rect x="363.19" y="308.46" width="5.83" height="6.24" fill="#f2846e" stroke="#8a8a8a" stroke-width="0.25"/>
<rect x="369.02" y="308.46" width="5.83" height="6.24" fill="#ef4227" stroke="#8a8a8a" stroke-width="0.25"/>
<rect x="287.40" y="221.10" width="87.45" height="93.60" fill="none" stroke="#666" stroke-width="0.5"/>
<rect x="287.40" y="340.00" width="5.83" height="6.24" fill="#ef4227" stroke="#8a8a8a" stroke-width="0.25"/>
<rect x="293.23" y="340.00" width="5.83" height="6.24" fill="#f05035" stroke="#8a8a8a" stroke-width="0.25"/>
<rect x="299.06" y="340.00" width="5.83" height="6.24" fill="#f2846e" stroke="#8a8a8a" stroke-width="0.25"/>
<rect x="304.89" y="340.00" width="5.83" height="6.24" fill="#deecf9" stroke="#8a8a8a" stroke-width="0.25"/>
<rect x="310.72" y="340.00" width="5.83" height="6.24" fill="#f5b1a0" stroke="#8a8a8a" stroke-width="0.25"/>
<rect x="316.55" y="340.00" width="5.83" height="6.24" fill="#f7c3b6" stroke="#8a8a8a" stroke-width="0.25"/>
<rect x="322.38" y="340.00" width="5.83" height="6.24" fill="#f9cfc5" stroke="#8a8a8a" stroke-width="0.25"/>
<rect x="328.21" y="340.00" width="5.83" height="6.24" fill="#d0e5f7" stroke="#8a8a8a" stroke-width="0.25"/>
<rect x="334.04" y="340.00" width="5.83" height="6.24" fill="#f2846e" stroke="#8a8a8a" stroke-width="0.25"/>
<rect x="339.87" y="340.00" width="5.83" height="6.24" fill="#ffffff" stroke="#8a8a8a" stroke-width="0.25"/>
<rect x="345.70" y="340.00" width="5.83" height="6.24" fill="#f2846e" stroke="#8a8a8a" stroke-width="0.25"/>
<rect x="351.53" y="340.00" width="5.83" height="6.24" fill="#bcdaf3" stroke="#8a8a8a" stroke-width="0.25"/>
<rect x="357.36" y="340.00" width="5.83" height="6.24" fill="#5a9be0" stroke="#8a8a8a" stroke-width="0.25"/>
<rect x="363.19" y="340.00" width="5.83" height="6.24" fill="#5a9be0" stroke="#8a8a8a" stroke-width="0.25"/>
<rect x="369.02" y="340.00" width="5.83" height="6.24" fill="#fdede9" stroke="#8a8a8a" stroke-width="0.25"/>
<rect x="287.40" y="346.24" width="5.83" height="6.24" fill="#f05035" stroke="#8a8a8a" stroke-width="0.25"/>
<rect x="293.23" y="346.24" width="5.83" height="6.24" fill="#ef4227" stroke="#8a8a8a" stroke-width="0.25"/>
<rect x="299.06" y="346.24" width="5.83" height="6.24" fill="#f4a592" stroke="#8a8a8a" stroke-width="0.25"/>
<rect x="304.89" y="346.24" width="5.83" height="6.24" fill="#ffffff" stroke="#8a8a8a" stroke-width="0.25"/>
<rect x="310.72" y="346.24" width="5.83" height="6.24" fill="#f5b1a0" stroke="#8a8a8a" stroke-width="0.25"/>
<rect x="316.55" y="346.24" width="5.83" height="6.24" fill="#f5b1a0" stroke="#8a8a8a" stroke-width="0.25"/>
<rect x="322.38" y="346.24" width="5.83" height="6.24" fill="#f7c3b6" stroke="#8a8a8a" stroke-width="0.25"/>
<rect x="328.21" y="346.24" width="5.83" height="6.24" fill="#ebf4fb" stroke="#8a8a8a" stroke-width="0.25"/>
<rect x="334.04" y="346.24" width="5.83" height="6.24" fill="#f2846e" stroke="#8a8a8a" stroke-width="0.25"/>
<rect x="339.87" y="346.24" width="5.83" height="6.24" fill="#deecf9" stroke="#8a8a8a" stroke-width="0.25"/>
<rect x="345.70" y="346.24" width="5.83" height="6.24" fill="#f2846e" stroke="#8a8a8a" stroke-width="0.25"/>
<rect x="351.53" y="346.24" width="5.83" height="6.24" fill="#d0e5f7" stroke="#8a8a8a" stroke-width="0.25"/>
<rect x="357.36" y="346.24" width="5.83" height="6.24" fill="#5a9be0" stroke="#8a8a8a" stroke-width="0.25"/>
<rect x="363.19" y="346.24" width="5.83" height="6.24" fill="#5a9be0" stroke="#8a8a8a" stroke-width="0.25"/>
<rect x="369.02" y="346.24" width="5.83" height="6.24" fill="#fce7e2" stroke="#8a8a8a" stroke-width="0.25"/>
<rect x="287.40" y="352.48" width="5.83" height="6.24" fill="#f2846e" stroke="#8a8a8a" stroke-width="0.25"/>
<rect x="293.23" y="352.48" width="5.83" height="6.24" fill="#f4a592" stroke="#8a8a8a" stroke-width="0.25"/>
<rect x="299.06" y="352.48" width="5.83" height="6.24" fill="#ef4227" stroke="#8a8a8a" stroke-width="0.25"/>
<rect x="304.89" y="352.48" width="5.83" height="6.24" fill="#9bc7ed" stroke="#8a8a8a" stroke-width="0.25"/>
<rect x="310.72" y="352.48" width="5.83" height="6.24" fill="#cae1f5" stroke="#8a8a8a" stroke-width="0.25"/>
<rect x="316.55" y="352.48" width="5.83" height="6.24" fill="#cae1f5" stroke="#8a8a8a" stroke-width="0.25"/>
<rect x="322.38" y="352.48" width="5.83" height="6.24" fill="#f9cfc5" stroke="#8a8a8a" stroke-width="0.25"/>
<rect x="328.21" y="352.48" width="5.83" height="6.24" fill="#fadbd3" stroke="#8a8a8a" stroke-width="0.25"/>
<rect x="334.04" y="352.48" width="5.83" height="6.24" fill="#f17760" stroke="#8a8a8a" stroke-width="0.25"/>
<rect x="339.87" y="352.48" width="5.83" height="6.24" fill="#f6b7a8" stroke="#8a8a8a" stroke-width="0.25"/>
<rect x="345.70" y="352.48" width="5.83" height="6.24" fill="#f2846e" stroke="#8a8a8a" stroke-width="0.25"/>
<rect x="351.53" y="352.48" width="5.83" height="6.24" fill="#cae1f5" stroke="#8a8a8a" stroke-width="0.25"/>
<rect x="357.36" y="352.48" width="5.83" height="6.24" fill="#9bc7ed" stroke="#8a8a8a" stroke-width="0.25"/>
<rect x="363.19" y="352.48" width="5.83" height="6.24" fill="#bcdaf3" stroke="#8a8a8a" stroke-width="0.25"/>
<rect x="369.02" y="352.48" width="5.83" height="6.24" fill="#f7c3b6" stroke="#8a8a8a" stroke-width="0.25"/>
<rect x="287.40" y="358.72" width="5.83" height="6.24" fill="#deecf9" stroke="#8a8a8a" stroke-width="0.25"/>
<rect x="293.23" y="358.72" width="5.83" height="6.24" fill="#ffffff" stroke="#8a8a8a" stroke-width="0.25"/>
<rect x="299.06" y="358.72" width="5.83" height="6.24" fill="#9bc7ed" stroke="#8a8a8a" stroke-width="0.25"/>
<rect x="304.89" y="358.72" width="5.83" height="6.24" fill="#ef4227" stroke="#8a8a8a" stroke-width="0.25"/>
<rect x="310.72" y="358.72" width="5.83" height="6.24" fill="#f1634b" stroke="#8a8a8a" stroke-width="0.25"/>
<rect x="316.55" y="358.72" width="5.83" height="6.24" fill="#f1634b" stroke="#8a8a8a" stroke-width="0.25"/>
<rect x="322.38" y="358.72" width="5.83" height="6.24" fill="#f9cfc5" stroke="#8a8a8a" stroke-width="0.25"/>
<rect x="328.21" y="358.72" width="5.83" height="6.24" fill="#7bb1e7" stroke="#8a8a8a" stroke-width="0.25"/>
<rect x="334.04" y="358.72" width="5.83" height="6.24" fill="#9bc7ed" stroke="#8a8a8a" stroke-width="0.25"/>
<rect x="339.87" y="358.72" width="5.83" height="6.24" fill="#7bb1e7" stroke="#8a8a8a" stroke-width="0.25"/>
<rect x="345.70" y="358.72" width="5.83" height="6.24" fill="#88bae9" stroke="#8a8a8a" stroke-width="0.25"/>
<rect x="351.53" y="358.72" width="5.83" height="6.24" fill="#f4a592" stroke="#8a8a8a" stroke-width="0.25"/>
<rect x="357.36" y="358.72" width="5.83" height="6.24" fill="#fce7e2" stroke="#8a8a8a" stroke-width="0.25"/>
<rect x="363.19" y="358.72" width="5.83" height="6.24" fill="#ebf4fb" stroke="#8a8a8a" stroke-width="0.25"/>
<rect x="369.02" y="358.72" width="5.83" height="6.24" fill="#bcdaf3" stroke="#8a8a8a" stroke-width="0.25"/>
<rect x="287.40" y="364.96" width="5.83" height="6.24" fill="#f5b1a0" stroke="#8a8a8a" stroke-width="0.25"/>
<rect x="293.23" y="364.96" width="5.83" height="6.24" fill="#f5b1a0" stroke="#8a8a8a" stroke-width="0.25"/>
<rect x="299.06" y="364.96" width="5.83" height="6.24" fill="#cae1f5" stroke="#8a8a8a" stroke-width="0.25"/>
<rect x="304.89" y="364.96" width="5.83" height="6.24" fill="#f1634b" stroke="#8a8a8a" stroke-width="0.25"/>
<rect x="310.72" y="364.96" width="5.83" height="6.24" fill="#ef4227" stroke="#8a8a8a" stroke-width="0.25"/>
<rect x="316.55" y="364.96" width="5.83" height="6.24" fill="#f05035" stroke="#8a8a8a" stroke-width="0.25"/>
<rect x="322.38" y="364.96" width="5.83" height="6.24" fill="#fdede9" stroke="#8a8a8a" stroke-width="0.25"/>
<rect x="328.21" y="364.96" width="5.83" height="6.24" fill="#5a9be0" stroke="#8a8a8a" stroke-width="0.25"/>
<rect x="334.04" y="364.96" width="5.83" height="6.24" fill="#bcdaf3" stroke="#8a8a8a" stroke-width="0.25"/>
<rect x="339.87" y="364.96" width="5.83" height="6.24" fill="#5a9be0" stroke="#8a8a8a" stroke-width="0.25"/>
<rect x="345.70" y="364.96" width="5.83" height="6.24" fill="#bcdaf3" stroke="#8a8a8a" stroke-width="0.25"/>
<rect x="351.53" y="364.96" width="5.83" height="6.24" fill="#f9cfc5" stroke="#8a8a8a" stroke-width="0.25"/>
<rect x="357.36" y="364.96" width="5.83" height="6.24" fill="#bcdaf3" stroke="#8a8a8a" stroke-width="0.25"/>
<rect x="363.19" y="364.96" width="5.83" height="6.24" fill="#9bc7ed" stroke="#8a8a8a" stroke-width="0.25"/>
<rect x="369.02" y="364.96" width="5.83" height="6.24" fill="#bcdaf3" stroke="#8a8a8a" stroke-width="0.25"/>
<rect x="287.40" y="371.20" width="5.83" height="6.24" fill="#f7c3b6" stroke="#8a8a8a" stroke-width="0.25"/>
<rect x="293.23" y="371.20" width="5.83" height="6.24" fill="#f5b1a0" stroke="#8a8a8a" stroke-width="0.25"/>
<rect x="299.06" y="371.20" width="5.83" height="6.24" fill="#cae1f5" stroke="#8a8a8a" stroke-width="0.25"/>
<rect x="304.89" y="371.20" width="5.83" height="6.24" fill="#f1634b" stroke="#8a8a8a" stroke-width="0.25"/>
<rect x="310.72" y="371.20" width="5.83" height="6.24" fill="#f05035" stroke="#8a8a8a" stroke-width="0.25"/>
<rect x="316.55" y="371.20" width="5.83" height="6.24" fill="#ef4227" stroke="#8a8a8a" stroke-width="0.25"/>
<rect x="322.38" y="371.20" width="5.83" height="6.24" fill="#fdede9" stroke="#8a8a8a" stroke-width="0.25"/>
<rect x="328.21" y="371.20" width="5.83" height="6.24" fill="#5a9be0" stroke="#8a8a8a" stroke-width="0.25"/>
<rect x="334.04" y="371.20" width="5.83" height="6.24" fill="#bcdaf3" stroke="#8a8a8a" stroke-width="0.25"/>
<rect x="339.87" y="371.20" width="5.83" height="6.24" fill="#468edd" stroke="#8a8a8a" stroke-width="0.25"/>
<rect x="345.70" y="371.20" width="5.83" height="6.24" fill="#bcdaf3" stroke="#8a8a8a" stroke-width="0.25"/>
<rect x="351.53" y="371.20" width="5.83" height="6.24" fill="#f5b1a0" stroke="#8a8a8a" stroke-width="0.25"/>
<rect x="357.36" y="371.20" width="5.83" height="6.24" fill="#bcdaf3" stroke="#8a8a8a" stroke-width="0.25"/>
<rect x="363.19" y="371.20" width="5.83" height="6.24" fill="#bcdaf3" stroke="#8a8a8a" stroke-width="0.25"/>
<rect x="369.02" y="371.20" width="5.83" height="6.24" fill="#cae1f5" stroke="#8a8a8a" stroke-width="0.25"/>
<rect x="287.40" y="377.44" width="5.83" height="6.24" fill="#f9cfc5" stroke="#8a8a8a" stroke-width="0.25"/>
<rect x="293.23" y="377.44" width="5.83" height="6.24" fill="#f7c3b6" stroke="#8a8a8a" stroke-width="0.25"/>
<rect x="299.06" y="377.44" width="5.83" height="6.24" fill="#f9cfc5" stroke="#8a8a8a" stroke-width="0.25"/>
<rect x="304.89" y="377.44" width="5.83" height="6.24" fill="#f9cfc5" stroke="#8a8a8a" stroke-width="0.25"/>
<rect x="310.72" y="377.44" width="5.83" height="6.24" fill="#fdede9" stroke="#8a8a8a" stroke-width="0.25"/>
<rect x="316.55" y="377.44" width="5.83" height="6.24" fill="#fdede9" stroke="#8a8a8a" stroke-width="0.25"/>
<rect x="322.38" y="377.44" width="5.83" height="6.24" fill="#ef4227" stroke="#8a8a8a" stroke-width="0.25"/>
<rect x="328.21" y="377.44" width="5.83" height="6.24" fill="#fdede9" stroke="#8a8a8a" stroke-width="0.25"/>
<rect x="334.04" y="377.44" width="5.83" height="6.24" fill="#f9cfc5" stroke="#8a8a8a" stroke-width="0.25"/>
<rect x="339.87" y="377.44" width="5.83" height="6.24" fill="#fdede9" stroke="#8a8a8a" stroke-width="0.25"/>
<rect x="345.70" y="377.44" width="5.83" height="6.24" fill="#ffffff" stroke="#8a8a8a" stroke-width="0.25"/>
<rect x="351.53" y="377.44" width="5.83" height="6.24" fill="#f5b1a0" stroke="#8a8a8a" stroke-width="0.25"/>
<rect x="357.36" y="377.44" width="5.83" height="6.24" fill="#ffffff" stroke="#8a8a8a" stroke-width="0.25"/>
<rect x="363.19" y="377.44" width="5.83" height="6.24" fill="#ebf4fb" stroke="#8a8a8a" stroke-width="0.25"/>
<rect x="369.02" y="377.44" width="5.83" height="6.24" fill="#f7c3b6" stroke="#8a8a8a" stroke-width="0.25"/>
<rect x="287.40" y="383.68" width="5.83" height="6.24" fill="#cae1f5" stroke="#8a8a8a" stroke-width="0.25"/>
<rect x="293.23" y="383.68" width="5.83" height="6.24" fill="#deecf9" stroke="#8a8a8a" stroke-width="0.25"/>
<rect x="299.06" y="383.68" width="5.83" height="6.24" fill="#fadbd3" stroke="#8a8a8a" stroke-width="0.25"/>
<rect x="304.89" y="383.68" width="5.83" height="6.24" fill="#7bb1e7" stroke="#8a8a8a" stroke-width="0.25"/>
<rect x="310.72" y="383.68" width="5.83" height="6.24" fill="#5a9be0" stroke="#8a8a8a" stroke-width="0.25"/>
<rect x="316.55" y="383.68" width="5.83" height="6.24" fill="#5a9be0" stroke="#8a8a8a" stroke-width="0.25"/>
<rect x="322.38" y="383.68" width="5.83" height="6.24" fill="#fdede9" stroke="#8a8a8a" stroke-width="0.25"/>
<rect x="328.21" y="383.68" width="5.83" height="6.24" fill="#ef4227" stroke="#8a8a8a" stroke-width="0.25"/>
<rect x="334.04" y="383.68" width="5.83" height="6.24" fill="#f2846e" stroke="#8a8a8a" stroke-width="0.25"/>
<rect x="339.87" y="383.68" width="5.83" height="6.24" fill="#f17159" stroke="#8a8a8a" stroke-width="0.25"/>
<rect x="345.70" y="383.68" width="5.83" height="6.24" fill="#f4a592" stroke="#8a8a8a" stroke-width="0.25"/>
<rect x="351.53" y="383.68" width="5.83" height="6.24" fill="#cae1f5" stroke="#8a8a8a" stroke-width="0.25"/>
<rect x="357.36" y="383.68" width="5.83" height="6.24" fill="#fdede9" stroke="#8a8a8a" stroke-width="0.25"/>
<rect x="363.19" y="383.68" width="5.83" height="6.24" fill="#fce7e2" stroke="#8a8a8a" stroke-width="0.25"/>
<rect x="369.02" y="383.68" width="5.83" height="6.24" fill="#f7c3b6" stroke="#8a8a8a" stroke-width="0.25"/>
<rect x="287.40" y="389.92" width="5.83" height="6.24" fill="#f2846e" stroke="#8a8a8a" stroke-width="0.25"/>
<rect x="293.23" y="389.92" width="5.83" height="6.24" fill="#f2846e" stroke="#8a8a8a" stroke-width="0.25"/>
<rect x="299.06" y="389.92" width="5.83" height="6.24" fill="#f17760" stroke="#8a8a8a" stroke-width="0.25"/>
<rect x="304.89" y="389.92" width="5.83" height="6.24" fill="#9bc7ed" stroke="#8a8a8a" stroke-width="0.25"/>
<rect x="310.72" y="389.92" width="5.83" height="6.24" fill="#bcdaf3" stroke="#8a8a8a" stroke-width="0.25"/>
<rect x="316.55" y="389.92" width="5.83" height="6.24" fill="#bcdaf3" stroke="#8a8a8a" stroke-width="0.25"/>
<rect x="322.38" y="389.92" width="5.83" height="6.24" fill="#f9cfc5" stroke="#8a8a8a" stroke-width="0.25"/>
<rect x="328.21" y="389.92" width="5.83" height="6.24" fill="#f2846e" stroke="#8a8a8a" stroke-width="0.25"/>
<rect x="334.04" y="389.92" width="5.83" height="6.24" fill="#ef4227" stroke="#8a8a8a" stroke-width="0.25"/>
<rect x="339.87" y="389.92" width="5.83" height="6.24" fill="#f1634b" stroke="#8a8a8a" stroke-width="0.25"/>
<rect x="345.70" y="389.92" width="5.83" height="6.24" fill="#f1634b" stroke="#8a8a8a" stroke-width="0.25"/>
<rect x="351.53" y="389.92" width="5.83" height="6.24" fill="#bcdaf3" stroke="#8a8a8a" stroke-width="0.25"/>
<rect x="357.36" y="389.92" width="5.83" height="6.24" fill="#bcdaf3" stroke="#8a8a8a" stroke-width="0.25"/>
<rect x="363.19" y="389.92" width="5.83" height="6.24" fill="#cae1f5" stroke="#8a8a8a" stroke-width="0.25"/>
<rect x="369.02" y="389.92" width="5.83" height="6.24" fill="#f4a592" stroke="#8a8a8a" stroke-width="0.25"/>
<rect x="287.40" y="396.16" width="5.83" height="6.24" fill="#ffffff" stroke="#8a8a8a" stroke-width="0.25"/>
<rect x="293.23" y="396.16" width="5.83" height="6.24" fill="#deecf9" stroke="#8a8a8a" stroke-width="0.25"/>
<rect x="299.06" y="396.16" width="5.83" height="6.24" fill="#f6b7a8" stroke="#8a8a8a" stroke-width="0.25"/>
<rect x="304.89" y="396.16" width="5.83" height="6.24" fill="#7bb1e7" stroke="#8a8a8a" stroke-width="0.25"/>
<rect x="310.72" y="396.16" width="5.83" height="6.24" fill="#5a9be0" stroke="#8a8a8a" stroke-width="0.25"/>
<rect x="316.55" y="396.16" width="5.83" height="6.24" fill="#468edd" stroke="#8a8a8a" stroke-width="0.25"/>
<rect x="322.38" y="396.16" width="5.83" height="6.24" fill="#fdede9" stroke="#8a8a8a" stroke-width="0.25"/>
<rect x="328.21" y="396.16" width="5.83" height="6.24" fill="#f17159" stroke="#8a8a8a" stroke-width="0.25"/>
<rect x="334.04" y="396.16" width="5.83" height="6.24" fill="#f1634b" stroke="#8a8a8a" stroke-width="0.25"/>
<rect x="339.87" y="396.16" width="5.83" height="6.24" fill="#ef4227" stroke="#8a8a8a" stroke-width="0.25"/>
<rect x="345.70" y="396.16" width="5.83" height="6.24" fill="#f1634b" stroke="#8a8a8a" stroke-width="0.25"/>
<rect x="351.53" y="396.16" width="5.83" height="6.24" fill="#a9ceef" stroke="#8a8a8a" stroke-width="0.25"/>
<rect x="357.36" y="396.16" width="5.83" height="6.24" fill="#fadbd3" stroke="#8a8a8a" stroke-width="0.25"/>
<rect x="363.19" y="396.16" width="5.83" height="6.24" fill="#f9cfc5" stroke="#8a8a8a" stroke-width="0.25"/>
<rect x="369.02" y="396.16" width="5.83" height="6.24" fill="#f7c3b6" stroke="#8a8a8a" stroke-width="0.25"/>
<rect x="287.40" y="402.40" width="5.83" height="6.24" fill="#f2846e" stroke="#8a8a8a" stroke-width="0.25"/>
<rect x="293.23" y="402.40" width="5.83" height="6.24" fill="#f2846e" stroke="#8a8a8a" stroke-width="0.25"/>
<rect x="299.06" y="402.40" width="5.83" height="6.24" fill="#f2846e" stroke="#8a8a8a" stroke-width="0.25"/>
<rect x="304.89" y="402.40" width="5.83" height="6.24" fill="#88bae9" stroke="#8a8a8a" stroke-width="0.25"/>
<rect x="310.72" y="402.40" width="5.83" height="6.24" fill="#bcdaf3" stroke="#8a8a8a" stroke-width="0.25"/>
<rect x="316.55" y="402.40" width="5.83" height="6.24" fill="#bcdaf3" stroke="#8a8a8a" stroke-width="0.25"/>
<rect x="322.38" y="402.40" width="5.83" height="6.24" fill="#ffffff" stroke="#8a8a8a" stroke-width="0.25"/>
<rect x="328.21" y="402.40" width="5.83" height="6.24" fill="#f4a592" stroke="#8a8a8a" stroke-width="0.25"/>
<rect x="334.04" y="402.40" width="5.83" height="6.24" fill="#f1634b" stroke="#8a8a8a" stroke-width="0.25"/>
<rect x="339.87" y="402.40" width="5.83" height="6.24" fill="#f1634b" stroke="#8a8a8a" stroke-width="0.25"/>
<rect x="345.70" y="402.40" width="5.83" height="6.24" fill="#ef4227" stroke="#8a8a8a" stroke-width="0.25"/>
<rect x="351.53" y="402.40" width="5.83" height="6.24" fill="#7bb1e7" stroke="#8a8a8a" stroke-width="0.25"/>
<rect x="357.36" y="402.40" width="5.83" height="6.24" fill="#cae1f5" stroke="#8a8a8a" stroke-width="0.25"/>
<rect x="363.19" y="402.40" width="5.83" height="6.24" fill="#bcdaf3" stroke="#8a8a8a" stroke-width="0.25"/>
<rect x="369.02" y="402.40" width="5.83" height="6.24" fill="#f9cfc5" stroke="#8a8a8a" stroke-width="0.25"/>
<rect x="287.40" y="408.64" width="5.83" height="6.24" fill="#bcdaf3" stroke="#8a8a8a" stroke-width="0.25"/>
<rect x="293.23" y="408.64" width="5.83" height="6.24" fill="#cae1f5" stroke="#8a8a8a" stroke-width="0.25"/>
<rect x="299.06" y="408.64" width="5.83" height="6.24" fill="#cae1f5" stroke="#8a8a8a" stroke-width="0.25"/>
<rect x="304.89" y="408.64" width="5.83" height="6.24" fill="#f4a592" stroke="#8a8a8a" stroke-width="0.25"/>
<rect x="310.72" y="408.64" width="5.83" height="6.24" fill="#f9cfc5" stroke="#8a8a8a" stroke-width="0.25"/>
<rect x="316.55" y="408.64" width="5.83" height="6.24" fill="#f5b1a0" stroke="#8a8a8a" stroke-width="0.25"/>
<rect x="322.38" y="408.64" width="5.83" height="6.24" fill="#f5b1a0" stroke="#8a8a8a" stroke-width="0.25"/>
<rect x="328.21" y="408.64" width="5.83" height="6.24" fill="#cae1f5" stroke="#8a8a8a" stroke-width="0.25"/>
<rect x="334.04" y="408.64" width="5.83" height="6.24" fill="#bcdaf3" stroke="#8a8a8a" stroke-width="0.25"/>
<rect x="339.87" y="408.64" width="5.83" height="6.24" fill="#a9ceef" stroke="#8a8a8a" stroke-width="0.25"/>
<rect x="345.70" y="408.64" width="5.83" height="6.24" fill="#7bb1e7" stroke="#8a8a8a" stroke-width="0.25"/>
<rect x="351.53" y="408.64" width="5.83" height="6.24" fill="#ef4227" stroke="#8a8a8a" stroke-width="0.25"/>
<rect x="357.36" y="408.64" width="5.83" height="6.24" fill="#ffffff" stroke="#8a8a8a" stroke-width="0.25"/>
<rect x="363.19" y="408.64" width="5.83" height="6.24" fill="#f7c3b6" stroke="#8a8a8a" stroke-width="0.25"/>
<rect x="369.02" y="408.64" width="5.83" height="6.24" fill="#f5b1a0" stroke="#8a8a8a" stroke-width="0.25"/>
<rect x="287.40" y="414.88" width="5.83" height="6.24" fill="#5a9be0" stroke="#8a8a8a" stroke-width="0.25"/>
<rect x="293.23" y="414.88" width="5.83" height="6.24" fill="#5a9be0" stroke="#8a8a8a" stroke-width="0.25"/>
<rect x="299.06" y="414.88" width="5.83" height="6.24" fill="#9bc7ed" stroke="#8a8a8a" stroke-width="0.25"/>
<rect x="304.89" y="414.88" width="5.83" height="6.24" fill="#fce7e2" stroke="#8a8a8a" stroke-width="0.25"/>
<rect x="310.72" y="414.88" width="5.83" height="6.24" fill="#bcdaf3" stroke="#8a8a8a" stroke-width="0.25"/>
<rect x="316.55" y="414.88" width="5.83" height="6.24" fill="#bcdaf3" stroke="#8a8a8a" stroke-width="0.25"/>
<rect x="322.38" y="414.88" width="5.83" height="6.24" fill="#ffffff" stroke="#8a8a8a" stroke-width="0.25"/>
<rect x="328.21" y="414.88" width="5.83" height="6.24" fill="#fdede9" stroke="#8a8a8a" stroke-width="0.25"/>
<rect x="334.04" y="414.88" width="5.83" height="6.24" fill="#bcdaf3" stroke="#8a8a8a" stroke-width="0.25"/>
<rect x="339.87" y="414.88" width="5.83" height="6.24" fill="#fbe1db" stroke="#8a8a8a" stroke-width="0.25"/>
<rect x="345.70" y="414.88" width="5.83" height="6.24" fill="#cae1f5" stroke="#8a8a8a" stroke-width="0.25"/>
<rect x="351.53" y="414.88" width="5.83" height="6.24" fill="#ffffff" stroke="#8a8a8a" stroke-width="0.25"/>
<rect x="357.36" y="414.88" width="5.83" height="6.24" fill="#ef4227" stroke="#8a8a8a" stroke-width="0.25"/>
<rect x="363.19" y="414.88" width="5.83" height="6.24" fill="#f17159" stroke="#8a8a8a" stroke-width="0.25"/>
<rect x="369.02" y="414.88" width="5.83" height="6.24" fill="#ebf4fb" stroke="#8a8a8a" stroke-width="0.25"/>
<rect x="287.40" y="421.12" width="5.83" height="6.24" fill="#5a9be0" stroke="#8a8a8a" stroke-width="0.25"/>
<rect x="293.23" y="421.12" width="5.83" height="6.24" fill="#5a9be0" stroke="#8a8a8a" stroke-width="0.25"/>
<rect x="299.06" y="421.12" width="5.83" height="6.24" fill="#bcdaf3" stroke="#8a8a8a" stroke-width="0.25"/>
<rect x="304.89" y="421.12" width="5.83" height="6.24" fill="#ebf4fb" stroke="#8a8a8a" stroke-width="0.25"/>
<rect x="310.72" y="421.12" width="5.83" height="6.24" fill="#9bc7ed" stroke="#8a8a8a" stroke-width="0.25"/>
<rect x="316.55" y="421.12" width="5.83" height="6.24" fill="#bcdaf3" stroke="#8a8a8a" stroke-width="0.25"/>
<rect x="322.38" y="421.12" width="5.83" height="6.24" fill="#ebf4fb" stroke="#8a8a8a" stroke-width="0.25"/>
<rect x="328.21" y="421.12" width="5.83" height="6.24" fill="#fce7e2" stroke="#8a8a8a" stroke-width="0.25"/>
<rect x="334.04" y="421.12" width="5.83" height="6.24" fill="#cae1f5" stroke="#8a8a8a" stroke-width="0.25"/>
<rect x="339.87" y="421.12" width="5.83" height="6.24" fill="#fadbd3" stroke="#8a8a8a" stroke-width="0.25"/>
<rect x="345.70" y="421.12" width="5.83" height="6.24" fill="#cae1f5" stroke="#8a8a8a" stroke-width="0.25"/>
<rect x="351.53" y="421.12" width="5.83" height="6.24" fill="#f7c3b6" stroke="#8a8a8a" stroke-width="0.25"/>
<rect x="357.36" y="421.12" width="5.83" height="6.24" fill="#f17159" stroke="#8a8a8a" stroke-width="0.25"/>
<rect x="363.19" y="421.12" width="5.83" height="6.24" fill="#ef4227" stroke="#8a8a8a" stroke-width="0.25"/>
<rect x="369.02" y="421.12" width="5.83" height="6.24" fill="#fadbd3" stroke="#8a8a8a" stroke-width="0.25"/>
<rect x="287.40" y="427.36" width="5.83" height="6.24" fill="#fce7e2" stroke="#8a8a8a" stroke-width="0.25"/>
<rect x="293.23" y="427.36" width="5.83" height="6.24" fill="#fce7e2" stroke="#8a8a8a" stroke-width="0.25"/>
<rect x="299.06" y="427.36" width="5.83" height="6.24" fill="#f7c3b6" stroke="#8a8a8a" stroke-width="0.25"/>
<rect x="304.89" y="427.36" width="5.83" height="6.24" fill="#bcdaf3" stroke="#8a8a8a" stroke-width="0.25"/>
<rect x="310.72" y="427.36" width="5.83" height="6.24" fill="#bcdaf3" stroke="#8a8a8a" stroke-width="0.25"/>
<rect x="316.55" y="427.36" width="5.83" height="6.24" fill="#cae1f5" stroke="#8a8a8a" stroke-width="0.25"/>
<rect x="322.38" y="427.36" width="5.83" height="6.24" fill="#f7c3b6" stroke="#8a8a8a" stroke-width="0.25"/>
<rect x="328.21" y="427.36" width="5.83" height="6.24" fill="#f7c3b6" stroke="#8a8a8a" stroke-width="0.25"/>
<rect x="334.04" y="427.36" width="5.83" height="6.24" fill="#f4a592" stroke="#8a8a8a" stroke-width="0.25"/>
<rect x="339.87" y="427.36" width="5.83" height="6.24" fill="#f7c3b6" stroke="#8a8a8a" stroke-width="0.25"/>
<rect x="345.70" y="427.36" width="5.83" height="6.24" fill="#f7c3b6" stroke="#8a8a8a" stroke-width="0.25"/>
<rect x="351.53" y="427.36" width="5.83" height="6.24" fill="#f5b1a0" stroke="#8a8a8a" stroke-width="0.25"/>
<rect x="357.36" y="427.36" width="5.83" height="6.24" fill="#ebf4fb" stroke="#8a8a8a" stroke-width="0.25"/>
<rect x="363.19" y="427.36" width="5.83" height="6.24" fill="#fadbd3" stroke="#8a8a8a" stroke-width="0.25"/>
<rect x="369.02" y="427.36" width="5.83" height="6.24" fill="#ef4227" stroke="#8a8a8a" stroke-width="0.25"/>
<rect x="287.40" y="340.00" width="87.45" height="93.60" fill="none" stroke="#666" stroke-width="0.5"/>
<text x="375.85" y="224.22" dy="0.35em" font-size="5.9" fill="#333" font-style="italic" stroke="#333" stroke-width="0.1">LRP1</text>
<text x="375.85" y="343.12" dy="0.35em" font-size="5.9" fill="#333" font-style="italic" stroke="#333" stroke-width="0.1">LRP1</text>
<text x="290.31" y="316.20" dy="0.35em" font-size="6.0" font-style="italic" fill="#222" transform="rotate(90 290.31 316.20)" stroke="#222" stroke-width="0.1">LRP1</text>
<text x="290.31" y="435.10" dy="0.35em" font-size="6.0" font-style="italic" fill="#222" transform="rotate(90 290.31 435.10)" stroke="#222" stroke-width="0.1">LRP1</text>
<text x="375.85" y="230.46" dy="0.35em" font-size="5.9" fill="#333" font-style="italic" stroke="#333" stroke-width="0.1">TTBK1</text>
<text x="375.85" y="349.36" dy="0.35em" font-size="5.9" fill="#333" font-style="italic" stroke="#333" stroke-width="0.1">TTBK1</text>
<text x="296.14" y="316.20" dy="0.35em" font-size="6.0" font-style="italic" fill="#222" transform="rotate(90 296.14 316.20)" stroke="#222" stroke-width="0.1">TTBK1</text>
<text x="296.14" y="435.10" dy="0.35em" font-size="6.0" font-style="italic" fill="#222" transform="rotate(90 296.14 435.10)" stroke="#222" stroke-width="0.1">TTBK1</text>
<text x="375.85" y="236.70" dy="0.35em" font-size="5.9" fill="#333" font-style="italic" stroke="#333" stroke-width="0.1">NR1D1</text>
<text x="375.85" y="355.60" dy="0.35em" font-size="5.9" fill="#333" font-style="italic" stroke="#333" stroke-width="0.1">NR1D1</text>
<text x="301.98" y="316.20" dy="0.35em" font-size="6.0" font-style="italic" fill="#222" transform="rotate(90 301.98 316.20)" stroke="#222" stroke-width="0.1">NR1D1</text>
<text x="301.98" y="435.10" dy="0.35em" font-size="6.0" font-style="italic" fill="#222" transform="rotate(90 301.98 435.10)" stroke="#222" stroke-width="0.1">NR1D1</text>
<text x="375.85" y="242.94" dy="0.35em" font-size="5.9" fill="#333" font-style="italic" stroke="#333" stroke-width="0.1">APP</text>
<text x="375.85" y="361.84" dy="0.35em" font-size="5.9" fill="#333" font-style="italic" stroke="#333" stroke-width="0.1">APP</text>
<text x="307.81" y="316.20" dy="0.35em" font-size="6.0" font-style="italic" fill="#222" transform="rotate(90 307.81 316.20)" stroke="#222" stroke-width="0.1">APP</text>
<text x="307.81" y="435.10" dy="0.35em" font-size="6.0" font-style="italic" fill="#222" transform="rotate(90 307.81 435.10)" stroke="#222" stroke-width="0.1">APP</text>
<text x="375.85" y="249.18" dy="0.35em" font-size="5.9" fill="#333" font-style="italic" stroke="#333" stroke-width="0.1">ZEB2</text>
<text x="375.85" y="368.08" dy="0.35em" font-size="5.9" fill="#333" font-style="italic" stroke="#333" stroke-width="0.1">ZEB2</text>
<text x="313.63" y="316.20" dy="0.35em" font-size="6.0" font-style="italic" fill="#222" transform="rotate(90 313.63 316.20)" stroke="#222" stroke-width="0.1">ZEB2</text>
<text x="313.63" y="435.10" dy="0.35em" font-size="6.0" font-style="italic" fill="#222" transform="rotate(90 313.63 435.10)" stroke="#222" stroke-width="0.1">ZEB2</text>
<text x="375.85" y="255.42" dy="0.35em" font-size="5.9" fill="#333" font-style="italic" stroke="#333" stroke-width="0.1">MAPT</text>
<text x="375.85" y="374.32" dy="0.35em" font-size="5.9" fill="#333" font-style="italic" stroke="#333" stroke-width="0.1">MAPT</text>
<text x="319.46" y="316.20" dy="0.35em" font-size="6.0" font-style="italic" fill="#222" transform="rotate(90 319.46 316.20)" stroke="#222" stroke-width="0.1">MAPT</text>
<text x="319.46" y="435.10" dy="0.35em" font-size="6.0" font-style="italic" fill="#222" transform="rotate(90 319.46 435.10)" stroke="#222" stroke-width="0.1">MAPT</text>
<text x="375.85" y="261.66" dy="0.35em" font-size="5.9" fill="#333" font-style="italic" stroke="#333" stroke-width="0.1">NAGLU</text>
<text x="375.85" y="380.56" dy="0.35em" font-size="5.9" fill="#333" font-style="italic" stroke="#333" stroke-width="0.1">NAGLU</text>
<text x="325.30" y="316.20" dy="0.35em" font-size="6.0" font-style="italic" fill="#222" transform="rotate(90 325.30 316.20)" stroke="#222" stroke-width="0.1">NAGLU</text>
<text x="325.30" y="435.10" dy="0.35em" font-size="6.0" font-style="italic" fill="#222" transform="rotate(90 325.30 435.10)" stroke="#222" stroke-width="0.1">NAGLU</text>
<text x="375.85" y="267.90" dy="0.35em" font-size="5.9" fill="#333" font-style="italic" stroke="#333" stroke-width="0.1">LDLR</text>
<text x="375.85" y="386.80" dy="0.35em" font-size="5.9" fill="#333" font-style="italic" stroke="#333" stroke-width="0.1">LDLR</text>
<text x="331.12" y="316.20" dy="0.35em" font-size="6.0" font-style="italic" fill="#222" transform="rotate(90 331.12 316.20)" stroke="#222" stroke-width="0.1">LDLR</text>
<text x="331.12" y="435.10" dy="0.35em" font-size="6.0" font-style="italic" fill="#222" transform="rotate(90 331.12 435.10)" stroke="#222" stroke-width="0.1">LDLR</text>
<text x="375.85" y="274.14" dy="0.35em" font-size="5.9" fill="#333" font-style="italic" stroke="#333" stroke-width="0.1">EGFR</text>
<text x="375.85" y="393.04" dy="0.35em" font-size="5.9" fill="#333" font-style="italic" stroke="#333" stroke-width="0.1">EGFR</text>
<text x="336.95" y="316.20" dy="0.35em" font-size="6.0" font-style="italic" fill="#222" transform="rotate(90 336.95 316.20)" stroke="#222" stroke-width="0.1">EGFR</text>
<text x="336.95" y="435.10" dy="0.35em" font-size="6.0" font-style="italic" fill="#222" transform="rotate(90 336.95 435.10)" stroke="#222" stroke-width="0.1">EGFR</text>
<text x="375.85" y="280.38" dy="0.35em" font-size="5.9" fill="#333" font-style="italic" stroke="#333" stroke-width="0.1">SMO</text>
<text x="375.85" y="399.28" dy="0.35em" font-size="5.9" fill="#333" font-style="italic" stroke="#333" stroke-width="0.1">SMO</text>
<text x="342.79" y="316.20" dy="0.35em" font-size="6.0" font-style="italic" fill="#222" transform="rotate(90 342.79 316.20)" stroke="#222" stroke-width="0.1">SMO</text>
<text x="342.79" y="435.10" dy="0.35em" font-size="6.0" font-style="italic" fill="#222" transform="rotate(90 342.79 435.10)" stroke="#222" stroke-width="0.1">SMO</text>
<text x="375.85" y="286.62" dy="0.35em" font-size="5.9" fill="#333" font-style="italic" stroke="#333" stroke-width="0.1">AGER</text>
<text x="375.85" y="405.52" dy="0.35em" font-size="5.9" fill="#333" font-style="italic" stroke="#333" stroke-width="0.1">AGER</text>
<text x="348.62" y="316.20" dy="0.35em" font-size="6.0" font-style="italic" fill="#222" transform="rotate(90 348.62 316.20)" stroke="#222" stroke-width="0.1">AGER</text>
<text x="348.62" y="435.10" dy="0.35em" font-size="6.0" font-style="italic" fill="#222" transform="rotate(90 348.62 435.10)" stroke="#222" stroke-width="0.1">AGER</text>
<text x="375.85" y="292.86" dy="0.35em" font-size="5.9" fill="#333" font-style="italic" stroke="#333" stroke-width="0.1">C1QA</text>
<text x="375.85" y="411.76" dy="0.35em" font-size="5.9" fill="#333" font-style="italic" stroke="#333" stroke-width="0.1">C1QA</text>
<text x="354.44" y="316.20" dy="0.35em" font-size="6.0" font-style="italic" fill="#222" transform="rotate(90 354.44 316.20)" stroke="#222" stroke-width="0.1">C1QA</text>
<text x="354.44" y="435.10" dy="0.35em" font-size="6.0" font-style="italic" fill="#222" transform="rotate(90 354.44 435.10)" stroke="#222" stroke-width="0.1">C1QA</text>
<text x="375.85" y="299.10" dy="0.35em" font-size="5.9" fill="#333" font-style="italic" stroke="#333" stroke-width="0.1">PSEN1</text>
<text x="375.85" y="418.00" dy="0.35em" font-size="5.9" fill="#333" font-style="italic" stroke="#333" stroke-width="0.1">PSEN1</text>
<text x="360.28" y="316.20" dy="0.35em" font-size="6.0" font-style="italic" fill="#222" transform="rotate(90 360.28 316.20)" stroke="#222" stroke-width="0.1">PSEN1</text>
<text x="360.28" y="435.10" dy="0.35em" font-size="6.0" font-style="italic" fill="#222" transform="rotate(90 360.28 435.10)" stroke="#222" stroke-width="0.1">PSEN1</text>
<text x="375.85" y="305.34" dy="0.35em" font-size="5.9" fill="#333" font-style="italic" stroke="#333" stroke-width="0.1">IFNGR1</text>
<text x="375.85" y="424.24" dy="0.35em" font-size="5.9" fill="#333" font-style="italic" stroke="#333" stroke-width="0.1">IFNGR1</text>
<text x="366.11" y="316.20" dy="0.35em" font-size="6.0" font-style="italic" fill="#222" transform="rotate(90 366.11 316.20)" stroke="#222" stroke-width="0.1">IFNGR1</text>
<text x="366.11" y="435.10" dy="0.35em" font-size="6.0" font-style="italic" fill="#222" transform="rotate(90 366.11 435.10)" stroke="#222" stroke-width="0.1">IFNGR1</text>
<text x="375.85" y="311.58" dy="0.35em" font-size="5.9" fill="#333" font-style="italic" stroke="#333" stroke-width="0.1">GRN</text>
<text x="375.85" y="430.48" dy="0.35em" font-size="5.9" fill="#333" font-style="italic" stroke="#333" stroke-width="0.1">GRN</text>
<text x="371.94" y="316.20" dy="0.35em" font-size="6.0" font-style="italic" fill="#222" transform="rotate(90 371.94 316.20)" stroke="#222" stroke-width="0.1">GRN</text>
<text x="371.94" y="435.10" dy="0.35em" font-size="6.0" font-style="italic" fill="#222" transform="rotate(90 371.94 435.10)" stroke="#222" stroke-width="0.1">GRN</text>
<path d="M300.1 218.5V215.6H338.6V218.5M293.8 221V218.6H310.6V221M324.6 221V218.4H349.8V221M349.8 221V219.1H370.8V221M296 221V219.6H290.3V221" fill="none" stroke="#8a8a8a" stroke-width="0.5"/>
<path d="M287.2 224.2H285.6V233H287.2M285.6 228.6H284.4V246H287.2M284.4 237H283.2V280H285.6V302H287.2M285.6 291H284.6V268H287.2" fill="none" stroke="#8a8a8a" stroke-width="0.5"/>
<text x="333.00" y="190.50" dy="0.35em" font-size="8.4" text-anchor="middle" fill="#222" stroke="#222" stroke-width="0.1">PFC</text>
<text x="333.50" y="199.30" dy="0.35em" font-size="8.4" text-anchor="middle" fill="#222" stroke="#222" stroke-width="0.1">Astrocyte activation</text>
<text x="333.50" y="209.30" dy="0.35em" font-size="8.4" text-anchor="middle" fill="#222" stroke="#222" stroke-width="0.1">(GO:0048143)</text>
<text x="271.00" y="269.70" dy="0.35em" font-size="9.8" text-anchor="middle" fill="#222" transform="rotate(-90 271.00 269.70)" stroke="#222" stroke-width="0.1">Control samples</text>
<text x="271.00" y="390.20" dy="0.35em" font-size="9.7" text-anchor="middle" fill="#222" transform="rotate(-90 271.00 390.20)" stroke="#222" stroke-width="0.1">TS21 samples</text>
<rect x="404.50" y="220.10" width="5.30" height="79.20" fill="url(#gD)"/>
<text x="411.50" y="220.80" dy="0.35em" font-size="6.3" fill="#222" stroke="#222" stroke-width="0.1">1</text>
<text x="411.50" y="240.40" dy="0.35em" font-size="6.3" fill="#222" stroke="#222" stroke-width="0.1">0.5</text>
<text x="411.50" y="260.00" dy="0.35em" font-size="6.3" fill="#222" stroke="#222" stroke-width="0.1">0</text>
<text x="411.50" y="279.80" dy="0.35em" font-size="6.3" fill="#222" stroke="#222" stroke-width="0.1">-0.5</text>
<text x="411.50" y="299.00" dy="0.35em" font-size="6.3" fill="#222" stroke="#222" stroke-width="0.1">-1</text>
<path fill="none" stroke="#b6b8b8" stroke-width="3.7" stroke-linecap="round" d="M48.6 387.5h0M48.7 417.6h0M48.7 404.0h0M48.3 380.6h0M48.6 368.5h0M48.5 373.6h0M48.6 416.8h0M48.7 377.0h0M48.7 373.3h0M48.3 410.4h0M48.4 415.1h0M48.4 395.4h0M48.7 382.5h0M48.6 360.1h0M48.5 364.6h0M48.7 407.3h0M48.7 400.1h0M48.4 369.8h0M48.3 401.4h0M48.6 419.2h0M48.7 364.4h0M48.5 415.1h0M48.3 408.9h0M48.4 365.7h0M48.5 373.4h0M48.5 381.0h0M48.5 380.4h0M48.4 405.6h0M48.2 414.3h0M48.3 384.4h0M48.5 379.5h0M48.6 397.5h0M48.7 416.6h0M48.5 391.1h0M48.5 397.8h0M48.6 395.5h0M48.4 384.9h0M48.3 406.0h0M48.4 376.1h0M48.7 392.2h0M48.5 400.5h0M48.5 414.2h0M48.4 369.9h0M48.6 381.0h0M48.4 412.2h0M48.4 392.1h0M48.7 363.3h0M48.5 359.2h0M48.6 376.2h0M48.5 379.5h0M48.5 398.7h0M48.3 369.7h0M48.7 375.0h0M48.6 420.0h0M48.4 402.0h0M48.5 410.1h0M48.6 403.3h0M48.5 408.6h0M48.6 408.5h0M48.6 421.7h0M48.5 416.7h0M48.6 389.8h0M48.3 415.8h0M48.7 381.6h0M48.4 389.4h0M48.4 382.8h0M48.6 398.5h0M48.3 413.7h0M48.6 382.5h0M48.4 394.4h0M48.5 378.3h0M48.6 386.0h0M48.7 395.8h0M48.6 363.7h0M48.6 389.7h0M48.6 369.7h0M48.2 383.9h0M48.3 371.4h0M48.3 413.0h0M48.7 412.7h0M48.6 367.1h0M48.5 373.2h0M48.3 413.1h0M48.7 387.9h0M48.6 408.6h0M48.4 395.5h0M48.7 392.9h0M48.3 373.3h0M48.5 374.1h0M48.3 366.1h0M48.5 372.7h0M48.4 409.0h0M48.6 384.2h0M48.4 375.6h0M48.4 393.4h0M48.5 419.4h0M48.6 409.8h0M48.5 358.3h0M48.5 389.9h0M50.9 375.9h0M50.5 372.0h0M50.8 374.6h0M50.5 378.3h0M50.8 406.3h0M50.6 363.6h0M50.5 371.2h0M50.7 367.7h0M50.6 415.2h0M50.9 387.6h0M50.5 383.0h0M50.9 375.5h0M50.6 359.4h0M50.8 372.4h0M50.8 399.3h0M50.5 398.4h0M50.8 397.1h0M50.7 382.5h0M50.8 362.5h0M50.8 360.9h0M50.8 383.0h0M50.8 398.0h0M50.8 384.2h0M50.5 402.7h0M50.8 400.5h0M50.8 398.2h0M50.5 365.8h0M50.8 409.2h0M50.6 404.2h0M50.5 368.5h0M50.7 406.8h0M50.4 404.7h0M50.9 361.9h0M50.9 385.4h0M50.9 399.8h0M50.8 381.1h0M50.7 387.7h0M50.7 405.6h0M50.7 390.5h0M50.8 378.9h0M50.6 414.1h0M50.6 414.7h0M50.5 376.3h0M50.8 379.5h0M50.9 369.8h0M50.5 390.8h0M50.5 413.4h0M50.6 387.7h0M50.7 400.0h0M50.8 391.9h0M50.7 392.5h0M50.8 402.6h0M50.5 389.5h0M50.4 407.2h0M50.7 406.3h0M50.8 416.5h0M50.6 392.4h0M50.7 359.5h0M50.6 379.4h0M50.8 413.7h0M50.6 362.5h0M50.6 400.3h0M50.9 377.9h0M50.5 416.0h0M50.8 413.4h0M50.8 403.5h0M50.4 361.3h0M50.6 380.3h0M50.6 410.1h0M50.8 375.8h0M50.7 367.6h0M50.8 396.0h0M50.5 400.3h0M50.7 381.1h0M50.4 375.8h0M50.5 372.1h0M50.9 379.2h0M50.6 388.5h0M50.6 413.6h0M50.5 367.1h0M50.6 377.4h0M50.4 408.6h0M50.5 360.7h0M50.8 391.6h0M50.5 407.1h0M50.9 367.7h0M50.5 363.7h0M50.8 402.7h0M50.6 366.6h0M50.7 388.6h0M50.7 403.1h0M50.7 372.7h0M50.8 383.5h0M50.6 379.0h0M52.8 393.2h0M53.1 408.8h0M53.1 363.0h0M53.1 361.7h0M52.9 359.7h0M52.8 387.8h0M52.7 385.9h0M52.9 372.8h0M52.8 369.8h0M52.8 394.1h0M52.8 398.6h0M53.1 404.8h0M53.1 414.3h0M52.9 405.0h0M53.0 392.0h0M52.8 385.6h0M52.6 369.0h0M52.6 384.1h0M52.9 369.9h0M52.6 373.5h0M52.8 416.2h0M52.8 411.3h0M52.8 368.0h0M53.0 412.7h0M52.7 366.8h0M53.0 370.0h0M52.7 399.1h0M52.9 374.9h0M53.0 362.2h0M52.7 390.8h0M52.9 357.1h0M52.8 395.7h0M52.7 375.6h0M53.0 385.9h0M52.9 365.8h0M52.8 382.2h0M52.7 362.0h0M53.1 395.0h0M53.1 402.8h0M52.8 391.3h0M53.1 399.7h0M52.7 391.4h0M52.7 375.3h0M53.0 401.0h0M53.0 377.0h0M52.8 397.2h0M52.9 398.5h0M53.1 399.6h0M53.0 357.2h0M52.7 403.7h0M53.1 366.0h0M52.7 359.9h0M52.8 357.5h0M53.1 404.7h0M53.1 402.0h0M52.8 371.1h0M52.9 386.9h0M53.0 394.8h0M52.9 381.1h0M52.7 390.6h0M53.0 360.9h0M52.8 358.3h0M53.1 411.3h0M53.1 363.7h0M53.0 356.9h0M52.8 368.7h0M52.8 378.6h0M52.9 392.8h0M53.1 369.0h0M52.8 366.7h0M53.0 382.0h0M52.8 377.5h0M53.1 380.3h0M52.9 405.2h0M53.0 389.6h0M53.1 409.6h0M52.9 402.4h0M52.8 387.8h0M52.8 386.2h0M52.7 375.4h0M52.9 393.6h0M52.6 409.5h0M52.9 360.2h0M52.8 365.0h0M53.1 409.0h0M52.7 385.8h0M52.7 380.1h0M52.7 391.4h0M52.9 391.4h0M52.7 378.5h0M55.2 399.6h0M54.8 386.3h0M55.0 387.9h0M55.1 365.8h0M55.0 398.6h0M55.1 372.7h0M54.9 405.6h0M55.3 364.4h0M54.9 381.9h0M55.1 360.2h0M55.3 367.3h0M55.0 369.9h0M55.2 399.7h0M55.3 364.8h0M54.9 399.3h0M55.2 385.0h0M55.0 387.1h0M55.0 397.1h0M55.0 396.8h0M55.1 397.5h0M55.2 401.9h0M55.0 382.4h0M55.2 368.3h0M55.2 379.1h0M55.3 363.2h0M55.2 356.6h0M55.1 370.3h0M55.1 380.8h0M55.1 387.2h0M55.2 365.2h0M55.3 393.6h0M55.2 378.7h0M55.1 410.3h0M54.9 392.9h0M55.0 379.5h0M54.9 381.0h0M55.0 398.2h0M54.9 403.6h0M54.9 401.1h0M55.0 358.9h0M55.0 396.6h0M55.0 350.4h0M55.3 394.4h0M54.9 380.0h0M55.2 384.0h0M55.2 359.5h0M55.3 384.5h0M54.9 367.8h0M55.2 388.7h0M55.2 383.4h0M55.1 381.9h0M54.9 407.4h0M55.3 381.4h0M55.1 370.9h0M54.9 359.7h0M55.2 356.8h0M55.1 382.1h0M55.3 400.8h0M54.9 409.1h0M55.1 392.8h0M54.8 371.1h0M55.1 372.1h0M54.9 356.9h0M55.1 388.9h0M55.0 399.6h0M54.9 391.6h0M55.1 378.0h0M55.0 394.5h0M54.9 379.3h0M55.1 378.6h0M54.8 395.4h0M55.1 381.0h0M54.9 385.0h0M55.3 374.6h0M55.0 382.2h0M55.0 359.9h0M55.2 371.6h0M55.0 408.6h0M54.9 394.8h0M55.3 405.6h0M55.2 406.3h0M54.9 370.0h0M55.3 382.6h0M55.0 408.2h0M55.0 382.3h0M55.2 376.6h0M57.1 382.5h0M57.2 373.3h0M57.0 392.9h0M57.1 377.4h0M57.3 398.9h0M57.2 361.8h0M57.4 369.3h0M57.1 369.4h0M57.3 374.8h0M57.2 402.2h0M57.1 386.1h0M57.1 374.0h0M57.4 367.8h0M57.4 361.5h0M57.5 374.6h0M57.1 361.3h0M57.2 364.4h0M57.0 383.5h0M57.2 387.1h0M57.4 356.0h0M57.5 395.6h0M57.1 360.4h0M57.2 377.2h0M57.4 390.5h0M57.1 406.4h0M57.5 397.1h0M57.2 402.1h0M57.5 359.8h0M57.2 357.8h0M57.2 401.2h0M57.1 377.0h0M57.2 374.9h0M57.1 390.0h0M57.1 379.8h0M57.2 365.8h0M57.4 381.6h0M57.3 387.0h0M57.0 388.6h0M57.2 381.5h0M57.5 382.9h0M57.1 362.5h0M57.4 392.7h0M57.5 360.5h0M57.2 386.1h0M57.5 364.3h0M57.4 361.7h0M57.4 403.4h0M57.4 371.8h0M57.5 380.5h0M57.4 370.4h0M57.1 408.7h0M57.1 355.9h0M57.3 382.6h0M57.4 400.9h0M57.1 397.5h0M57.3 385.6h0M57.4 389.0h0M57.4 389.7h0M57.5 385.1h0M57.3 395.4h0M57.3 356.8h0M57.2 374.0h0M57.4 382.7h0M57.0 366.7h0M57.4 382.1h0M57.3 392.9h0M57.1 397.3h0M57.1 403.0h0M57.3 364.2h0M57.4 384.8h0M57.3 392.2h0M57.2 380.5h0M57.2 379.5h0M57.1 389.0h0M57.3 362.5h0M57.4 370.3h0M57.1 355.1h0M57.3 393.2h0M57.4 386.7h0M57.3 357.4h0M57.1 358.2h0M57.0 400.4h0M57.4 384.8h0M59.3 369.5h0M59.5 383.2h0M59.4 365.3h0M59.6 367.3h0M59.6 387.3h0M59.4 372.2h0M59.6 378.7h0M59.6 359.8h0M59.6 360.7h0M59.5 397.4h0M59.4 368.1h0M59.5 359.5h0M59.4 377.7h0M59.6 354.0h0M59.6 390.0h0M59.6 392.2h0M59.5 386.9h0M59.2 355.2h0M59.6 357.3h0M59.5 365.6h0M59.5 389.4h0M59.6 357.6h0M59.3 367.3h0M59.6 364.8h0M59.4 361.4h0M59.6 383.2h0M59.6 388.3h0M59.7 401.9h0M59.5 391.9h0M59.4 375.2h0M59.4 364.0h0M59.7 354.9h0M59.3 394.5h0M59.3 363.6h0M59.6 414.0h0M59.4 363.9h0M59.3 403.0h0M59.4 396.2h0M59.3 385.9h0M59.3 372.8h0M59.6 400.7h0M59.3 402.6h0M59.6 402.0h0M59.5 360.7h0M59.2 370.3h0M59.4 392.5h0M59.6 356.9h0M59.7 360.4h0M59.6 397.7h0M59.2 376.4h0M59.7 383.4h0M59.3 355.7h0M59.5 361.7h0M59.2 362.6h0M59.3 371.9h0M59.2 390.6h0M59.6 366.9h0M59.4 368.4h0M59.6 397.7h0M59.5 375.4h0M59.3 397.0h0M59.4 353.6h0M59.5 409.9h0M59.3 371.8h0M59.6 376.8h0M59.3 362.9h0M59.3 372.7h0M59.4 379.7h0M59.5 375.6h0M59.5 368.4h0M59.6 389.7h0M59.7 402.4h0M59.3 392.1h0M59.6 368.3h0M59.5 400.4h0M59.5 366.2h0M59.3 363.1h0M59.4 379.7h0M59.3 383.8h0M61.6 355.5h0M61.6 393.4h0M61.7 385.3h0M61.7 371.2h0M61.7 372.0h0M61.7 377.8h0M61.4 388.3h0M61.7 351.5h0M61.4 369.8h0M61.4 384.8h0M61.8 395.6h0M61.5 396.6h0M61.7 378.4h0M61.8 356.0h0M61.8 392.3h0M61.5 357.5h0M61.6 359.9h0M61.4 392.9h0M61.6 368.8h0M61.8 381.6h0M61.8 387.5h0M61.7 395.1h0M61.5 355.3h0M61.4 352.7h0M61.4 384.1h0M61.8 354.9h0M61.8 386.6h0M61.7 351.3h0M61.7 369.9h0M61.8 374.3h0M61.9 396.0h0M61.5 369.0h0M61.8 387.9h0M61.4 357.2h0M61.6 375.1h0M61.8 391.7h0M61.8 380.5h0M61.4 388.8h0M61.8 380.3h0M61.4 387.7h0M61.6 398.1h0M61.5 371.5h0M61.4 368.5h0M61.7 384.3h0M61.6 357.4h0M61.8 397.5h0M61.9 379.5h0M61.5 376.1h0M61.6 390.1h0M61.6 390.1h0M61.7 373.3h0M61.9 361.4h0M61.4 384.4h0M61.7 380.7h0M61.6 364.0h0M61.5 361.7h0M61.8 380.6h0M61.5 382.8h0M61.7 384.1h0M61.8 379.4h0M61.5 371.5h0M61.6 369.3h0M61.8 389.2h0M61.6 392.8h0M61.5 384.7h0M61.5 371.1h0M61.8 365.8h0M61.8 368.0h0M61.7 362.7h0M61.7 400.2h0M61.5 360.4h0M61.8 376.0h0M61.6 368.7h0M61.8 392.1h0M61.5 388.9h0M61.8 379.3h0M63.9 378.7h0M63.6 378.3h0M63.6 358.7h0M63.9 359.9h0M64.0 382.9h0M63.7 359.5h0M63.9 379.7h0M63.9 359.5h0M63.7 385.7h0M64.0 354.4h0M63.7 377.3h0M63.8 384.6h0M63.9 369.5h0M64.1 396.1h0M63.9 356.1h0M64.1 378.6h0M64.0 366.1h0M63.6 377.7h0M63.7 370.9h0M63.9 395.4h0M63.6 360.7h0M63.9 393.9h0M64.0 399.6h0M63.7 370.9h0M63.9 386.1h0M63.8 392.6h0M63.9 357.9h0M63.8 382.7h0M63.9 397.0h0M63.6 366.2h0M63.7 351.8h0M63.7 359.4h0M64.0 356.0h0M63.9 363.3h0M63.6 390.6h0M63.7 363.0h0M63.7 364.3h0M63.8 374.3h0M63.8 365.6h0M63.8 353.9h0M63.6 386.5h0M63.8 353.7h0M64.0 349.8h0M64.0 386.4h0M64.0 375.4h0M64.0 360.1h0M63.7 396.4h0M63.9 377.4h0M63.9 375.0h0M64.1 356.5h0M63.7 394.3h0M64.0 384.2h0M64.0 368.6h0M64.0 357.5h0M63.7 395.4h0M64.0 384.5h0M63.8 360.5h0M63.8 395.1h0M63.9 394.9h0M63.6 379.4h0M63.8 372.4h0M63.7 379.1h0M64.1 366.8h0M64.0 399.4h0M63.7 392.1h0M63.9 389.8h0M63.8 388.1h0M64.0 387.9h0M63.8 391.1h0M63.8 375.3h0M63.8 390.0h0M64.1 380.7h0M64.0 384.8h0M66.0 389.3h0M66.2 390.4h0M66.0 386.0h0M65.9 390.3h0M66.2 379.0h0M65.9 359.0h0M66.0 371.2h0M65.9 358.9h0M66.1 377.2h0M66.1 384.3h0M66.1 376.5h0M66.1 384.0h0M66.1 370.3h0M66.1 384.6h0M66.0 374.3h0M65.9 369.3h0M66.1 392.1h0M65.9 351.7h0M66.2 375.0h0M65.9 383.5h0M65.9 383.3h0M66.2 352.4h0M66.0 365.3h0M66.1 363.6h0M66.2 364.0h0M65.8 362.7h0M65.9 359.6h0M65.9 393.5h0M65.8 368.6h0M66.1 358.4h0M65.9 389.2h0M65.9 366.8h0M66.1 373.9h0M66.0 363.4h0M65.9 366.3h0M65.9 361.4h0M66.1 393.7h0M66.2 394.4h0M65.9 351.5h0M66.1 354.9h0M66.1 368.5h0M66.0 382.2h0M66.2 383.1h0M66.0 377.6h0M65.8 362.3h0M66.1 357.1h0M65.9 353.2h0M66.1 386.6h0M65.8 378.5h0M66.2 388.2h0M65.9 357.1h0M65.9 353.1h0M66.2 355.3h0M65.9 384.7h0M66.0 365.1h0M66.1 358.7h0M66.0 370.2h0M66.1 375.7h0M65.8 351.5h0M66.0 397.3h0M65.9 385.2h0M66.0 389.4h0M65.8 380.1h0M66.2 388.0h0M65.8 363.2h0M66.0 359.6h0M65.9 394.4h0M65.8 361.2h0M66.0 350.1h0M66.2 392.7h0M68.2 374.5h0M68.4 372.1h0M68.3 381.9h0M68.3 378.0h0M68.2 355.1h0M68.4 375.3h0M68.0 386.5h0M68.2 366.8h0M68.1 372.6h0M68.0 372.1h0M68.0 376.9h0M68.3 385.6h0M68.0 350.0h0M68.3 369.7h0M68.1 366.6h0M68.2 384.6h0M68.2 379.2h0M68.1 387.7h0M68.3 359.5h0M68.4 376.3h0M68.0 362.8h0M68.0 384.1h0M68.2 370.3h0M68.2 361.0h0M68.0 354.5h0M68.1 357.5h0M68.1 383.3h0M68.0 390.1h0M68.3 372.6h0M68.3 351.7h0M68.3 377.3h0M68.3 358.6h0M68.0 378.8h0M68.1 382.8h0M68.3 360.6h0M68.3 388.6h0M68.2 384.2h0M68.0 386.9h0M68.0 356.6h0M68.3 375.0h0M68.0 391.0h0M68.3 381.9h0M68.3 398.3h0M68.4 372.7h0M68.2 370.9h0M68.3 368.7h0M68.3 372.8h0M68.2 369.4h0M68.1 377.9h0M68.1 367.0h0M68.2 363.0h0M68.0 379.7h0M68.2 355.9h0M68.1 370.0h0M68.4 381.0h0M68.1 360.3h0M68.1 352.5h0M68.2 348.7h0M68.4 383.4h0M68.0 390.0h0M68.1 376.1h0M68.0 376.2h0M68.1 355.4h0M68.1 382.4h0M68.1 390.5h0M68.4 392.1h0M68.4 362.5h0M70.2 387.3h0M70.2 377.7h0M70.3 356.7h0M70.2 348.7h0M70.4 390.7h0M70.2 345.5h0M70.4 368.1h0M70.3 353.9h0M70.5 354.6h0M70.2 384.6h0M70.3 357.4h0M70.3 364.7h0M70.2 360.9h0M70.2 354.7h0M70.5 378.1h0M70.3 360.1h0M70.3 375.3h0M70.2 358.3h0M70.3 358.8h0M70.5 354.6h0M70.6 353.8h0M70.4 354.1h0M70.5 380.3h0M70.6 352.8h0M70.4 352.3h0M70.3 348.7h0M70.4 365.2h0M70.2 364.7h0M70.3 382.3h0M70.3 374.6h0M70.4 360.1h0M70.6 377.9h0M70.2 356.7h0M70.3 380.6h0M70.5 360.3h0M70.2 374.2h0M70.2 391.9h0M70.4 355.3h0M70.2 388.5h0M70.4 362.2h0M70.2 375.8h0M70.3 389.9h0M70.6 374.9h0M70.5 375.2h0M70.4 359.0h0M70.6 384.0h0M70.5 369.6h0M70.3 380.0h0M70.2 366.5h0M70.1 347.9h0M70.3 366.5h0M70.2 357.5h0M70.4 356.6h0M70.4 391.5h0M70.3 380.8h0M70.3 365.3h0M70.2 349.5h0M70.6 362.8h0M70.2 385.4h0M70.4 373.7h0M70.6 384.8h0M70.2 379.6h0M70.5 378.4h0M70.4 377.4h0M72.5 371.3h0M72.4 353.3h0M72.8 374.1h0M72.5 378.9h0M72.4 376.5h0M72.4 362.6h0M72.8 376.5h0M72.6 353.1h0M72.5 346.8h0M72.3 350.2h0M72.8 375.5h0M72.7 372.4h0M72.8 352.7h0M72.4 364.2h0M72.5 365.8h0M72.6 384.7h0M72.7 365.2h0M72.5 394.7h0M72.8 376.3h0M72.4 379.5h0M72.6 369.9h0M72.6 374.4h0M72.8 380.3h0M72.3 373.3h0M72.4 348.1h0M72.5 353.1h0M72.8 353.2h0M72.5 386.4h0M72.5 370.0h0M72.4 347.3h0M72.5 367.7h0M72.4 383.4h0M72.6 357.9h0M72.8 381.8h0M72.5 346.7h0M72.6 360.3h0M72.8 380.0h0M72.6 368.8h0M72.4 369.3h0M72.5 384.1h0M72.7 380.1h0M72.6 384.3h0M72.7 356.3h0M72.7 347.7h0M72.7 381.4h0M72.7 358.5h0M72.4 372.4h0M72.8 374.9h0M72.8 352.5h0M72.6 365.0h0M72.5 381.3h0M72.3 365.0h0M72.4 345.6h0M72.4 359.6h0M72.7 354.5h0M72.7 387.4h0M72.6 374.8h0M72.7 347.2h0M72.5 371.4h0M72.4 344.9h0M72.6 378.7h0M72.4 363.3h0M75.0 345.3h0M74.5 357.5h0M75.0 378.5h0M74.5 377.8h0M74.6 372.8h0M74.9 359.8h0M74.7 359.6h0M74.7 387.5h0M74.6 376.0h0M74.7 366.2h0M75.0 354.1h0M74.8 374.0h0M74.9 374.6h0M75.0 350.2h0M74.9 352.1h0M74.7 370.7h0M74.6 384.7h0M74.8 375.3h0M74.9 389.2h0M74.8 354.6h0M74.9 367.2h0M74.8 366.3h0M75.0 366.0h0M74.8 355.5h0M74.9 385.6h0M74.8 361.3h0M74.5 359.5h0M75.0 382.4h0M74.6 375.5h0M74.9 373.4h0M74.9 370.3h0M74.6 375.8h0M74.8 371.7h0M74.9 353.0h0M74.7 349.5h0M74.6 385.9h0M74.7 343.5h0M74.8 363.5h0M74.9 382.0h0M74.8 378.6h0M74.9 362.8h0M74.9 375.8h0M74.7 359.0h0M74.9 367.7h0M75.0 385.6h0M74.8 368.0h0M75.0 345.1h0M74.7 369.3h0M74.8 371.8h0M74.6 375.6h0M74.6 376.3h0M74.6 378.3h0M74.7 345.2h0M74.6 360.4h0M74.7 353.3h0M75.0 362.5h0M74.8 368.1h0M74.5 347.1h0M74.8 351.1h0M74.8 351.1h0M77.0 358.0h0M76.7 378.5h0M76.7 353.2h0M77.1 356.1h0M76.9 369.3h0M77.1 341.6h0M77.2 372.7h0M76.7 372.4h0M77.0 347.6h0M77.2 348.8h0M76.8 364.7h0M77.0 345.7h0M77.0 382.0h0M77.1 370.3h0M76.8 344.5h0M76.9 360.4h0M76.9 378.7h0M77.0 375.1h0M77.0 370.9h0M77.2 348.5h0M77.2 357.8h0M77.0 383.5h0M76.9 367.0h0M77.1 383.0h0M76.9 351.3h0M77.0 362.3h0M77.2 375.2h0M77.2 378.7h0M76.8 342.2h0M76.9 352.1h0M77.1 363.9h0M76.9 375.0h0M76.8 373.3h0M76.8 380.9h0M76.7 350.2h0M77.1 362.8h0M77.2 360.8h0M77.1 378.7h0M77.0 367.5h0M76.9 365.5h0M76.8 356.0h0M76.9 365.8h0M76.8 360.4h0M77.1 362.5h0M76.7 352.8h0M76.8 367.4h0M77.0 345.8h0M77.1 362.1h0M77.0 376.2h0M76.8 340.6h0M76.9 367.3h0M76.8 376.9h0M77.1 343.3h0M76.7 343.5h0M77.2 362.7h0M77.1 355.0h0M77.0 382.6h0M78.9 349.3h0M79.1 363.6h0M79.1 373.4h0M79.0 345.6h0M79.1 351.6h0M79.3 371.3h0M79.4 351.0h0M79.3 378.3h0M78.9 348.0h0M79.2 368.8h0M79.4 345.2h0M79.4 368.0h0M78.9 345.7h0M79.1 342.6h0M79.0 363.4h0M79.0 357.6h0M79.3 345.0h0M79.0 376.8h0M79.2 365.5h0M79.4 370.8h0M78.9 346.1h0M79.3 359.0h0M78.9 351.4h0M79.1 366.6h0M79.3 341.7h0M79.1 375.1h0M79.1 330.6h0M79.0 345.4h0M79.1 366.2h0M79.4 353.2h0M79.3 378.6h0M79.1 382.9h0M79.0 348.2h0M79.4 377.3h0M79.2 355.7h0M79.0 382.2h0M79.0 365.8h0M79.1 356.3h0M79.3 367.1h0M79.0 371.3h0M79.2 378.6h0M79.1 346.1h0M79.3 373.8h0M79.2 381.9h0M79.4 375.9h0M78.9 370.9h0M79.0 374.4h0M79.4 342.8h0M79.1 345.3h0M79.3 347.8h0M79.3 358.4h0M78.9 374.8h0M79.1 375.7h0M78.9 341.4h0M79.1 345.3h0M81.6 378.7h0M81.3 363.0h0M81.4 370.9h0M81.1 394.3h0M81.6 365.8h0M81.4 370.8h0M81.1 375.3h0M81.2 373.6h0M81.2 367.3h0M81.1 341.5h0M81.2 354.2h0M81.3 368.8h0M81.1 368.1h0M81.5 345.1h0M81.2 340.3h0M81.2 350.2h0M81.4 382.2h0M81.4 370.4h0M81.2 342.6h0M81.4 369.1h0M81.5 365.1h0M81.3 355.6h0M81.1 344.2h0M81.1 379.3h0M81.4 365.1h0M81.3 352.3h0M81.3 345.0h0M81.1 374.7h0M81.1 369.6h0M81.4 357.7h0M81.4 353.6h0M81.2 345.2h0M81.3 381.6h0M81.4 370.4h0M81.3 379.1h0M81.3 363.3h0M81.3 345.2h0M81.1 352.8h0M81.2 346.3h0M81.3 369.7h0M81.1 379.2h0M81.5 362.5h0M81.2 343.0h0M81.2 350.4h0M81.4 344.4h0M81.2 358.2h0M81.4 379.7h0M81.3 375.5h0M81.4 388.2h0M81.5 355.6h0M81.2 340.9h0M81.2 371.4h0M81.1 357.7h0M83.4 372.9h0M83.5 353.8h0M83.3 343.4h0M83.5 338.3h0M83.7 367.0h0M83.6 376.9h0M83.6 355.7h0M83.4 368.7h0M83.5 371.6h0M83.6 370.1h0M83.8 345.9h0M83.4 341.5h0M83.3 375.0h0M83.5 364.7h0M83.8 368.8h0M83.7 359.7h0M83.4 340.9h0M83.7 355.7h0M83.3 357.0h0M83.6 353.1h0M83.5 358.7h0M83.6 355.9h0M83.5 368.7h0M83.6 372.3h0M83.6 370.2h0M83.7 344.7h0M83.7 354.3h0M83.8 369.2h0M83.3 373.6h0M83.4 357.1h0M83.3 350.2h0M83.4 366.8h0M83.5 356.0h0M83.6 367.2h0M83.7 348.2h0M83.6 361.5h0M83.3 366.1h0M83.3 346.9h0M83.4 359.1h0M83.3 375.7h0M83.6 340.6h0M83.7 361.7h0M83.7 366.5h0M83.7 374.2h0M83.5 342.3h0M83.7 374.5h0M83.4 361.5h0M83.7 363.2h0M83.6 371.3h0M83.3 359.0h0M83.5 373.7h0M85.5 357.3h0M85.8 368.5h0M85.5 338.2h0M85.6 366.4h0M85.6 362.7h0M85.6 346.5h0M85.9 349.3h0M85.5 352.7h0M85.7 362.2h0M85.7 363.8h0M85.5 374.2h0M85.7 360.3h0M85.7 348.2h0M85.6 372.4h0M85.5 370.9h0M86.0 356.4h0M85.5 365.8h0M86.0 341.1h0M85.7 374.4h0M85.8 353.6h0M85.6 351.3h0M85.5 357.6h0M85.5 350.4h0M85.9 358.5h0M85.7 359.9h0M85.6 359.7h0M85.6 360.6h0M85.7 372.2h0M85.7 356.6h0M85.8 348.9h0M85.5 338.6h0M85.9 371.4h0M85.5 357.6h0M85.8 374.5h0M85.6 349.7h0M85.8 352.5h0M85.8 357.6h0M85.6 361.5h0M85.9 371.0h0M85.5 371.5h0M85.7 355.6h0M85.9 360.1h0M85.6 353.3h0M85.5 374.8h0M85.8 351.9h0M85.9 361.7h0M85.7 344.4h0M85.6 363.3h0M85.8 353.3h0M85.6 367.3h0M88.1 345.0h0M87.9 346.2h0M87.8 338.8h0M87.8 346.7h0M88.0 345.3h0M87.8 346.3h0M87.8 351.2h0M87.8 340.9h0M88.0 355.8h0M87.9 366.9h0M88.1 359.5h0M88.1 363.8h0M87.8 348.9h0M87.8 348.6h0M87.7 340.4h0M87.8 357.9h0M87.9 365.4h0M87.7 367.5h0M88.1 375.5h0M87.7 375.6h0M87.7 369.1h0M88.2 367.0h0M87.8 352.3h0M88.1 363.6h0M87.8 349.9h0M88.2 338.5h0M88.1 344.7h0M88.1 371.5h0M87.7 365.9h0M87.7 340.6h0M87.9 374.7h0M88.1 372.6h0M87.8 362.2h0M88.0 365.4h0M88.1 368.5h0M87.9 351.5h0M88.0 360.9h0M87.9 353.0h0M87.8 346.3h0M88.2 344.5h0M87.7 350.9h0M87.7 353.3h0M88.0 359.3h0M88.2 345.5h0M87.7 365.6h0M88.1 338.8h0M87.9 363.9h0M87.7 343.3h0M89.9 343.1h0M90.2 351.7h0M90.3 355.0h0M90.1 346.4h0M89.9 355.1h0M90.3 361.0h0M90.1 343.1h0M90.0 357.7h0M90.3 334.5h0M90.1 351.7h0M89.9 345.0h0M90.1 371.1h0M90.3 361.1h0M90.0 359.5h0M90.0 351.4h0M90.1 371.7h0M90.2 352.8h0M90.2 346.5h0M90.0 352.4h0M90.1 367.2h0M89.9 349.0h0M89.9 371.4h0M90.3 346.6h0M90.2 357.5h0M90.1 365.8h0M90.0 365.4h0M89.9 338.7h0M90.1 351.5h0M90.1 353.2h0M90.0 348.4h0M90.2 362.7h0M90.1 361.9h0M90.0 349.5h0M89.9 344.3h0M90.0 354.7h0M90.1 361.1h0M90.2 354.4h0M90.2 354.5h0M90.3 357.1h0M90.1 360.3h0M90.0 347.3h0M90.3 353.7h0M90.1 366.1h0M90.1 359.7h0M90.0 360.9h0M90.2 337.8h0M92.5 369.8h0M92.4 337.8h0M92.1 338.9h0M92.1 358.7h0M92.2 355.2h0M92.2 355.0h0M92.3 371.8h0M92.3 362.4h0M92.3 356.7h0M92.3 370.8h0M92.2 346.3h0M92.4 336.5h0M92.3 350.8h0M92.1 348.7h0M92.1 353.0h0M92.4 347.2h0M92.4 348.9h0M92.3 337.9h0M92.2 356.9h0M92.1 366.8h0M92.3 350.7h0M92.3 337.2h0M92.5 359.0h0M92.1 365.4h0M92.4 342.0h0M92.4 362.0h0M92.2 352.7h0M92.0 368.4h0M92.0 340.5h0M92.3 362.4h0M92.5 339.0h0M92.3 345.3h0M92.4 353.9h0M92.2 369.3h0M92.5 363.2h0M92.0 354.1h0M92.2 355.9h0M92.5 346.8h0M92.3 361.2h0M92.4 335.4h0M92.4 359.3h0M92.5 361.9h0M92.5 370.7h0M92.5 351.4h0M92.3 341.1h0M94.5 334.7h0M94.3 355.6h0M94.2 365.6h0M94.6 359.2h0M94.5 355.6h0M94.6 357.2h0M94.3 330.9h0M94.4 358.6h0M94.3 344.3h0M94.6 335.9h0M94.5 333.3h0M94.4 352.5h0M94.6 356.9h0M94.7 346.9h0M94.4 347.8h0M94.3 360.2h0M94.3 359.0h0M94.4 336.9h0M94.4 351.5h0M94.5 350.6h0M94.7 369.6h0M94.3 352.4h0M94.6 372.7h0M94.7 337.9h0M94.2 351.4h0M94.4 369.3h0M94.7 340.2h0M94.4 348.1h0M94.4 338.7h0M94.3 379.7h0M94.4 335.5h0M94.6 348.4h0M94.7 355.7h0M94.5 348.7h0M94.2 371.1h0M94.4 358.9h0M94.5 344.4h0M94.6 355.1h0M94.6 342.9h0M94.5 372.1h0M94.6 365.4h0M94.3 357.4h0M94.2 351.2h0M96.4 353.9h0M96.5 344.8h0M96.5 340.7h0M96.5 354.7h0M96.7 337.5h0M96.9 341.1h0M96.5 342.0h0M96.9 351.2h0M96.9 345.9h0M96.4 335.1h0M96.7 363.5h0M96.8 334.0h0M96.6 351.2h0M96.5 352.5h0M96.7 364.9h0M96.5 343.5h0M96.8 368.9h0M96.7 346.3h0M96.7 351.9h0M96.6 365.3h0M96.5 359.5h0M96.7 345.4h0M96.8 346.2h0M96.6 348.4h0M96.7 369.5h0M96.8 333.9h0M96.5 344.6h0M96.8 348.4h0M96.5 347.3h0M96.8 335.9h0M96.8 367.3h0M96.5 362.8h0M96.8 352.3h0M96.6 351.3h0M96.6 350.9h0M96.6 356.1h0M96.5 346.5h0M96.7 367.9h0M96.6 335.8h0M96.8 342.5h0M96.9 346.7h0M96.7 363.6h0M99.0 366.3h0M98.7 357.7h0M99.1 360.2h0M99.0 357.4h0M99.1 347.5h0M99.1 342.0h0M98.7 353.3h0M98.8 337.4h0M98.6 364.6h0M98.9 334.4h0M99.1 341.3h0M99.0 333.8h0M99.0 338.8h0M98.9 357.6h0M98.7 354.3h0M98.7 335.4h0M98.9 330.5h0M99.1 371.4h0M98.7 363.3h0M98.8 343.2h0M98.9 338.6h0M98.9 351.3h0M98.7 355.4h0M98.7 355.5h0M98.9 337.3h0M99.0 337.1h0M99.1 354.9h0M98.6 364.0h0M98.8 341.1h0M99.0 356.1h0M99.1 347.4h0M98.7 336.7h0M98.7 342.4h0M98.9 354.4h0M98.8 354.7h0M99.0 366.3h0M98.8 356.7h0M98.6 360.9h0M99.0 331.9h0M99.0 365.3h0M99.1 368.7h0M100.9 361.9h0M101.0 372.8h0M101.2 331.5h0M101.0 369.2h0M101.0 332.2h0M101.0 340.8h0M100.9 359.8h0M100.8 362.9h0M101.0 345.3h0M101.1 341.2h0M100.8 344.4h0M101.1 355.2h0M101.0 336.0h0M101.0 362.7h0M101.0 344.6h0M100.9 356.9h0M100.8 347.7h0M100.8 335.0h0M101.0 337.2h0M101.0 349.4h0M101.1 356.8h0M101.1 351.3h0M101.0 367.4h0M101.0 365.1h0M101.0 360.0h0M100.9 334.9h0M100.9 369.3h0M100.9 336.2h0M101.2 364.8h0M101.1 361.3h0M101.2 333.9h0M100.9 348.5h0M101.0 348.0h0M100.9 330.8h0M100.9 363.8h0M100.9 342.6h0M101.3 363.4h0M100.9 369.9h0M100.9 365.9h0M100.9 356.2h0M103.3 368.7h0M103.2 346.8h0M103.0 348.7h0M103.2 361.9h0M103.1 349.0h0M103.2 343.0h0M103.0 341.4h0M103.3 345.7h0M103.1 368.8h0M103.1 337.7h0M103.5 360.1h0M103.2 359.9h0M103.1 366.8h0M103.2 368.9h0M103.5 371.6h0M103.3 344.6h0M103.4 371.4h0M103.5 338.1h0M103.4 363.5h0M103.3 334.0h0M103.5 362.8h0M103.5 338.0h0M103.1 344.6h0M103.5 367.4h0M103.0 334.6h0M103.2 360.7h0M103.4 328.2h0M103.4 334.6h0M103.2 367.9h0M103.2 338.5h0M103.4 357.1h0M103.2 356.2h0M103.2 348.8h0M103.2 359.1h0M103.3 342.8h0M103.1 365.9h0M103.4 350.6h0M103.3 361.3h0M105.3 359.7h0M105.3 331.0h0M105.6 336.7h0M105.4 354.2h0M105.4 353.5h0M105.2 363.9h0M105.2 342.6h0M105.4 331.0h0M105.5 336.2h0M105.4 333.6h0M105.4 363.4h0M105.5 354.0h0M105.5 337.4h0M105.3 342.3h0M105.2 337.6h0M105.6 335.2h0M105.6 348.4h0M105.3 350.0h0M105.5 324.2h0M105.3 360.6h0M105.5 351.9h0M105.3 347.0h0M105.5 358.0h0M105.4 343.2h0M105.5 353.1h0M105.6 360.8h0M105.3 335.4h0M105.3 345.2h0M105.3 326.0h0M105.4 338.8h0M105.5 333.8h0M105.2 347.4h0M105.3 358.0h0M105.4 341.8h0M105.6 360.0h0M105.6 356.6h0M105.3 335.8h0M107.4 363.8h0M107.4 347.5h0M107.8 336.8h0M107.6 357.7h0M107.8 356.3h0M107.8 345.6h0M107.5 366.4h0M107.5 368.5h0M107.5 325.4h0M107.7 336.5h0M107.8 342.1h0M107.6 363.6h0M107.6 344.8h0M107.6 330.2h0M107.6 364.7h0M107.4 357.6h0M107.5 326.9h0M107.6 340.1h0M107.7 327.9h0M107.7 352.2h0M107.5 339.4h0M107.8 353.6h0M107.8 353.0h0M107.8 352.2h0M107.9 324.6h0M107.6 364.8h0M107.5 362.7h0M107.4 363.4h0M107.4 359.4h0M107.5 349.1h0M107.5 334.0h0M107.5 355.6h0M107.7 366.0h0M107.8 341.4h0M107.5 368.7h0M107.6 352.0h0M109.8 336.2h0M109.7 326.1h0M110.1 324.7h0M109.8 325.6h0M109.7 359.9h0M109.8 353.8h0M109.6 346.6h0M109.9 364.1h0M109.8 365.5h0M109.8 364.6h0M109.6 324.8h0M109.8 323.6h0M110.0 325.1h0M109.8 357.8h0M109.6 338.7h0M109.9 349.2h0M109.6 366.3h0M109.8 332.3h0M109.6 343.3h0M109.8 335.7h0M109.8 359.5h0M109.6 345.9h0M109.8 360.1h0M109.8 369.0h0M109.8 339.5h0M110.0 358.8h0M110.0 324.9h0M109.8 347.3h0M109.7 368.3h0M109.6 346.8h0M109.7 353.7h0M109.8 349.4h0M110.0 356.2h0M109.7 338.8h0M109.9 338.7h0M112.2 353.3h0M112.2 359.8h0M111.9 339.2h0M112.2 334.8h0M112.0 361.0h0M111.8 321.2h0M112.0 347.3h0M112.2 323.4h0M112.2 323.8h0M112.2 322.3h0M111.9 336.8h0M112.0 348.2h0M112.1 347.0h0M111.8 335.9h0M112.2 324.6h0M111.9 330.8h0M112.1 329.0h0M112.2 346.8h0M112.2 328.5h0M111.9 361.0h0M112.2 364.7h0M111.8 320.9h0M111.9 361.6h0M111.8 343.8h0M111.8 372.8h0M112.1 333.5h0M112.1 328.9h0M112.1 341.5h0M111.9 333.7h0M112.1 352.5h0M112.0 345.0h0M111.9 333.7h0M111.8 329.8h0M111.9 353.9h0M114.1 325.4h0M114.3 347.7h0M114.4 335.7h0M114.1 346.7h0M114.1 362.9h0M114.2 327.2h0M114.1 339.7h0M114.2 321.6h0M114.1 344.2h0M113.9 347.8h0M114.3 335.6h0M114.4 325.3h0M114.0 346.9h0M114.3 328.3h0M114.1 354.0h0M114.0 349.5h0M114.4 329.0h0M114.2 324.5h0M114.2 353.0h0M114.2 340.6h0M114.3 354.1h0M114.1 365.4h0M114.3 329.7h0M114.3 361.9h0M114.4 320.1h0M114.2 356.7h0M114.1 360.3h0M114.1 365.5h0M114.4 325.8h0M114.2 351.1h0M114.4 335.7h0M114.0 359.9h0M114.1 363.4h0M114.1 337.2h0M116.6 328.7h0M116.3 335.0h0M116.3 361.8h0M116.2 366.3h0M116.3 366.9h0M116.6 322.1h0M116.6 330.2h0M116.3 339.2h0M116.2 354.5h0M116.1 368.5h0M116.6 344.0h0M116.5 358.6h0M116.6 347.4h0M116.6 336.8h0M116.6 360.1h0M116.5 318.9h0M116.4 339.9h0M116.6 339.7h0M116.2 346.9h0M116.5 314.4h0M116.3 344.8h0M116.2 363.2h0M116.3 326.9h0M116.2 329.0h0M116.2 327.4h0M116.2 353.2h0M116.4 320.9h0M116.4 318.4h0M116.4 333.6h0M116.3 320.6h0M116.4 352.1h0M116.4 339.0h0M116.1 351.8h0M118.7 326.5h0M118.4 354.4h0M118.8 321.2h0M118.8 325.0h0M118.7 327.3h0M118.6 346.3h0M118.4 356.7h0M118.5 333.2h0M118.6 327.9h0M118.6 352.8h0M118.3 359.0h0M118.5 355.8h0M118.7 335.3h0M118.6 332.1h0M118.5 326.0h0M118.8 333.2h0M118.5 337.3h0M118.4 356.1h0M118.6 331.6h0M118.8 365.7h0M118.5 331.8h0M118.7 346.1h0M118.4 318.3h0M118.4 338.1h0M118.6 328.1h0M118.3 358.6h0M118.8 362.4h0M118.5 356.6h0M118.6 337.1h0M118.7 340.4h0M118.7 321.4h0M118.5 359.3h0M121.0 348.1h0M120.8 346.9h0M120.7 341.2h0M120.8 347.5h0M120.6 356.2h0M120.6 316.2h0M121.0 339.1h0M121.0 352.7h0M120.9 347.0h0M120.6 339.4h0M120.8 330.7h0M120.8 364.8h0M120.6 317.0h0M120.9 365.1h0M120.7 336.1h0M120.6 361.7h0M120.5 345.4h0M120.7 347.5h0M121.0 359.0h0M120.8 321.7h0M120.7 324.2h0M121.0 344.0h0M120.8 346.6h0M120.9 362.3h0M121.0 335.9h0M120.7 359.6h0M120.9 320.0h0M120.9 346.2h0M121.0 332.3h0M120.8 318.6h0M120.7 340.6h0M123.0 356.7h0M123.0 349.2h0M122.9 359.5h0M122.7 320.0h0M123.0 330.3h0M122.9 354.6h0M123.0 365.5h0M123.1 335.0h0M123.1 338.9h0M123.2 321.7h0M123.0 321.2h0M122.9 330.6h0M123.0 317.8h0M122.9 324.2h0M123.2 349.6h0M122.9 319.9h0M122.8 328.7h0M122.9 352.0h0M123.0 324.5h0M122.8 356.0h0M122.9 321.9h0M122.9 322.4h0M122.7 345.6h0M122.7 326.5h0M122.9 318.3h0M123.0 346.2h0M122.8 322.5h0M123.0 367.2h0M123.0 352.8h0M123.2 328.7h0M123.0 368.1h0M125.4 316.2h0M125.0 349.6h0M125.1 330.4h0M125.1 350.8h0M125.2 333.1h0M125.1 339.6h0M125.3 336.2h0M125.1 342.8h0M124.9 334.7h0M125.0 352.1h0M125.2 359.9h0M125.3 343.2h0M125.3 362.0h0M125.1 325.9h0M124.9 335.6h0M125.3 363.2h0M125.1 360.8h0M125.0 352.9h0M125.2 325.0h0M125.0 326.2h0M125.4 325.2h0M125.3 345.8h0M125.2 336.3h0M125.1 343.8h0M125.1 361.2h0M124.9 337.9h0M125.1 360.6h0M125.0 365.7h0M125.1 359.7h0M125.2 362.8h0M127.4 335.6h0M127.3 320.9h0M127.5 315.1h0M127.2 324.4h0M127.5 316.4h0M127.3 339.8h0M127.4 339.5h0M127.4 329.9h0M127.2 360.7h0M127.4 314.3h0M127.1 343.8h0M127.2 351.6h0M127.2 320.5h0M127.5 337.1h0M127.5 346.2h0M127.6 336.4h0M127.4 339.0h0M127.5 323.0h0M127.3 318.6h0M127.4 347.0h0M127.4 353.1h0M127.3 332.7h0M127.2 316.5h0M127.3 322.2h0M127.4 334.7h0M127.1 337.8h0M127.2 348.7h0M127.5 344.4h0M127.3 322.2h0M129.6 328.0h0M129.5 354.8h0M129.4 315.9h0M129.4 319.9h0M129.3 346.8h0M129.5 326.9h0M129.7 354.6h0M129.5 325.4h0M129.7 332.7h0M129.5 337.1h0M129.7 317.4h0M129.3 345.0h0M129.3 341.9h0M129.7 325.0h0M129.6 352.0h0M129.8 344.5h0M129.7 349.0h0M129.6 332.5h0M129.6 332.6h0M129.5 338.3h0M129.3 350.2h0M129.3 323.0h0M129.5 317.6h0M129.8 322.9h0M129.5 329.0h0M129.5 317.0h0M129.5 332.7h0M129.7 335.8h0M129.5 336.4h0M131.5 354.4h0M131.8 349.2h0M131.9 326.3h0M131.5 338.6h0M131.7 343.0h0M131.6 348.9h0M131.5 333.6h0M131.9 332.1h0M131.9 331.0h0M131.8 323.6h0M131.5 341.5h0M131.6 363.0h0M131.9 312.8h0M131.9 327.5h0M131.7 343.9h0M131.7 315.9h0M131.9 365.2h0M131.8 354.1h0M131.7 329.7h0M131.8 319.9h0M132.0 324.0h0M131.5 344.6h0M131.7 364.9h0M131.6 336.4h0M131.5 332.7h0M131.7 361.2h0M131.6 347.7h0M131.7 360.1h0M134.1 318.1h0M134.0 336.4h0M134.0 317.5h0M134.0 333.7h0M133.7 326.4h0M133.9 323.7h0M134.0 328.8h0M133.7 350.6h0M134.1 322.7h0M133.7 333.2h0M133.8 329.9h0M133.9 360.6h0M134.0 328.2h0M133.7 356.8h0M134.0 326.3h0M133.8 346.7h0M133.9 356.7h0M134.0 333.6h0M133.9 334.7h0M133.7 311.5h0M133.9 323.1h0M134.1 320.4h0M134.0 338.1h0M134.1 344.3h0M134.0 317.9h0M133.8 365.4h0M134.1 345.5h0M134.1 364.9h0M136.0 312.3h0M135.9 310.6h0M136.0 361.6h0M136.3 356.9h0M136.3 344.7h0M136.3 334.0h0M136.2 318.0h0M136.3 355.4h0M136.0 335.0h0M136.3 362.1h0M136.1 337.6h0M136.1 341.9h0M136.2 353.8h0M136.1 346.5h0M136.1 315.3h0M136.0 323.5h0M136.2 346.9h0M136.2 354.6h0M136.0 352.0h0M135.9 318.5h0M136.1 343.6h0M135.9 325.1h0M136.3 332.6h0M136.3 324.2h0M136.1 311.3h0M136.1 354.6h0M136.3 346.2h0M138.1 356.7h0M138.3 344.6h0M138.1 337.4h0M138.4 338.2h0M138.3 325.7h0M138.2 313.9h0M138.3 325.8h0M138.5 356.9h0M138.3 327.8h0M138.3 310.0h0M138.0 319.0h0M138.2 351.6h0M138.1 321.0h0M138.3 318.4h0M138.3 349.4h0M138.3 326.5h0M138.2 330.1h0M138.3 328.9h0M138.4 329.4h0M138.1 349.9h0M138.1 345.1h0M138.1 323.0h0M138.1 330.5h0M138.4 360.2h0M138.2 340.9h0M138.4 309.7h0M138.1 343.3h0M140.6 328.0h0M140.7 309.6h0M140.5 313.7h0M140.6 330.7h0M140.5 313.2h0M140.3 331.5h0M140.4 358.1h0M140.4 320.4h0M140.7 328.2h0M140.3 343.4h0M140.3 326.5h0M140.5 321.0h0M140.4 331.3h0M140.5 320.8h0M140.3 343.5h0M140.6 344.0h0M140.4 363.6h0M140.5 325.3h0M140.5 308.9h0M140.6 338.0h0M140.5 346.1h0M140.5 346.9h0M140.5 341.0h0M140.5 349.8h0M140.4 345.1h0M140.6 339.7h0M142.6 360.2h0M142.7 333.9h0M142.4 345.5h0M142.7 362.3h0M142.9 333.5h0M142.6 308.2h0M142.7 310.0h0M142.5 361.9h0M142.8 351.2h0M142.8 343.7h0M142.6 335.9h0M142.6 317.0h0M142.5 329.1h0M142.9 351.2h0M142.6 340.4h0M142.5 308.1h0M142.9 319.2h0M142.4 343.2h0M142.7 339.9h0M142.5 321.9h0M142.8 319.4h0M142.5 361.2h0M142.6 339.8h0M142.7 332.6h0M142.8 331.2h0M142.8 313.4h0M145.0 344.4h0M144.8 361.8h0M144.6 340.5h0M145.0 318.5h0M145.0 324.9h0M145.0 325.7h0M144.7 311.5h0M144.6 356.2h0M144.8 321.6h0M145.1 344.5h0M144.8 358.4h0M144.6 321.6h0M145.0 312.7h0M144.6 345.0h0M144.7 349.9h0M144.8 324.6h0M144.9 337.5h0M145.1 351.2h0M144.7 304.9h0M144.7 361.5h0M145.1 350.4h0M145.0 325.0h0M144.6 335.7h0M145.1 326.1h0M144.8 314.0h0M147.2 332.5h0M146.9 349.8h0M146.9 342.2h0M147.0 329.2h0M147.2 325.5h0M147.1 351.1h0M146.8 321.9h0M146.8 344.2h0M147.0 340.8h0M146.8 309.0h0M147.1 354.4h0M146.9 319.4h0M147.2 336.2h0M146.9 348.2h0M147.0 362.6h0M147.1 342.3h0M146.8 323.1h0M146.8 342.9h0M147.1 326.0h0M147.1 341.4h0M147.2 360.8h0M147.1 337.6h0M147.3 348.9h0M147.1 331.2h0M146.9 350.4h0M149.0 308.3h0M149.2 319.5h0M149.5 340.7h0M149.1 334.7h0M149.4 344.9h0M149.3 340.6h0M149.1 343.7h0M149.0 331.3h0M149.4 349.9h0M149.4 312.5h0M149.1 317.3h0M149.5 334.2h0M149.2 307.1h0M149.1 325.1h0M149.1 354.3h0M149.5 342.6h0M149.3 356.8h0M149.3 316.7h0M149.5 359.6h0M149.5 347.3h0M149.0 355.7h0M149.2 346.9h0M149.2 303.1h0M149.4 359.7h0M149.3 306.4h0M151.5 334.4h0M151.4 337.8h0M151.3 326.4h0M151.2 329.1h0M151.4 334.1h0M151.4 328.8h0M151.6 350.5h0M151.7 352.7h0M151.5 355.5h0M151.6 328.2h0M151.6 344.7h0M151.6 305.3h0M151.4 334.9h0M151.5 312.0h0M151.3 353.6h0M151.6 314.2h0M151.2 346.3h0M151.6 318.3h0M151.6 333.5h0M151.3 323.1h0M151.3 321.5h0M151.6 316.3h0M151.6 340.7h0M151.2 348.3h0M153.7 332.1h0M153.7 342.7h0M153.5 354.3h0M153.7 320.8h0M153.5 350.8h0M153.4 303.5h0M153.5 309.5h0M153.4 342.7h0M153.4 337.5h0M153.6 309.6h0M153.4 315.4h0M153.7 324.2h0M153.5 309.4h0M153.6 325.7h0M153.7 352.1h0M153.7 357.7h0M153.5 304.8h0M153.8 346.2h0M153.5 347.6h0M153.8 328.6h0M153.5 359.5h0M153.8 311.5h0M153.6 352.8h0M153.8 320.6h0M155.8 322.7h0M156.0 309.3h0M155.9 328.6h0M155.6 334.9h0M155.8 338.9h0M156.0 335.1h0M155.6 333.9h0M155.7 317.9h0M155.9 307.0h0M156.0 310.8h0M155.9 313.8h0M155.9 312.7h0M155.6 354.8h0M155.7 338.4h0M155.6 303.1h0M155.8 311.6h0M155.7 342.9h0M156.0 311.0h0M155.9 333.5h0M155.8 328.7h0M156.0 303.0h0M155.8 325.8h0M155.9 335.3h0M155.7 306.0h0M158.0 317.6h0M157.7 344.1h0M157.8 323.8h0M158.2 333.0h0M157.8 357.5h0M157.8 328.1h0M158.0 332.9h0M157.9 319.5h0M158.1 350.2h0M158.0 336.4h0M157.8 343.3h0M158.2 338.2h0M158.2 304.1h0M158.2 321.3h0M158.0 312.6h0M158.2 300.9h0M157.8 335.3h0M158.0 329.1h0M158.2 343.5h0M158.1 346.3h0M158.0 300.6h0M157.8 327.6h0M158.0 337.5h0M160.0 314.2h0M160.0 301.5h0M160.0 313.7h0M160.2 355.4h0M160.4 350.7h0M160.4 324.9h0M160.4 331.9h0M160.1 326.7h0M160.3 319.2h0M160.1 341.8h0M160.1 306.6h0M160.1 328.9h0M160.4 329.3h0M160.2 317.4h0M160.1 331.4h0M160.0 337.1h0M160.2 333.2h0M160.0 338.6h0M160.1 317.3h0M160.0 316.1h0M160.1 318.9h0M160.4 321.5h0M160.0 333.7h0M162.3 343.6h0M162.4 321.7h0M162.5 340.8h0M162.2 346.7h0M162.2 317.8h0M162.3 352.9h0M162.3 318.9h0M162.6 336.2h0M162.5 343.9h0M162.2 325.5h0M162.3 303.7h0M162.2 339.3h0M162.4 350.6h0M162.2 342.9h0M162.4 304.7h0M162.4 298.5h0M162.5 319.5h0M162.4 326.0h0M162.2 303.5h0M162.6 344.9h0M162.3 331.4h0M162.6 348.9h0M162.4 322.8h0M164.4 315.3h0M164.4 313.1h0M164.8 334.7h0M164.7 344.7h0M164.7 313.2h0M164.5 347.1h0M164.4 349.0h0M164.4 347.8h0M164.4 332.2h0M164.5 340.2h0M164.7 342.2h0M164.4 303.8h0M164.8 328.5h0M164.3 306.7h0M164.8 349.9h0M164.7 347.8h0M164.6 326.9h0M164.7 298.4h0M164.4 304.6h0M164.7 330.9h0M164.6 307.4h0M164.7 305.4h0M164.6 314.8h0M166.8 318.4h0M166.7 317.3h0M166.5 346.1h0M166.8 335.3h0M166.7 340.7h0M166.7 314.6h0M166.9 303.9h0M166.6 326.8h0M166.6 314.2h0M166.7 311.4h0M166.8 332.8h0M166.6 319.1h0M166.8 321.1h0M166.6 308.5h0M166.6 341.8h0M166.7 307.8h0M166.5 296.5h0M166.9 312.0h0M166.5 324.4h0M166.5 340.2h0M166.8 332.8h0M166.5 297.9h0M168.7 306.0h0M169.2 303.0h0M169.2 335.1h0M169.1 320.6h0M168.8 328.3h0M168.9 331.4h0M169.1 305.0h0M169.2 343.7h0M168.8 322.9h0M168.9 342.7h0M169.1 305.0h0M168.9 343.8h0M168.9 335.0h0M169.1 300.5h0M169.2 326.9h0M169.0 304.9h0M168.8 304.5h0M169.2 332.6h0M168.9 308.5h0M169.0 338.5h0M168.9 316.9h0M169.1 315.8h0M170.9 333.7h0M171.3 314.9h0M171.2 294.3h0M171.1 310.4h0M171.2 318.5h0M171.0 302.5h0M171.2 327.8h0M171.2 312.7h0M171.2 322.2h0M171.3 326.5h0M171.1 299.0h0M171.3 331.0h0M171.1 326.8h0M171.3 319.8h0M171.4 328.9h0M171.0 309.1h0M171.1 335.7h0M171.0 341.4h0M171.1 312.4h0M171.4 341.1h0M171.3 318.5h0M171.3 330.7h0M173.4 302.4h0M173.5 304.2h0M173.4 318.9h0M173.1 298.4h0M173.2 300.7h0M173.1 333.2h0M173.3 321.1h0M173.1 296.1h0M173.1 333.5h0M173.5 328.0h0M173.1 305.1h0M173.2 339.5h0M173.4 307.7h0M173.4 297.9h0M173.4 300.1h0M173.5 315.8h0M173.5 336.3h0M173.5 297.4h0M173.5 296.9h0M173.3 297.4h0M173.5 336.1h0M173.4 327.3h0M175.5 335.8h0M175.6 323.3h0M175.7 319.0h0M175.7 312.1h0M175.6 323.4h0M175.6 316.1h0M175.6 329.3h0M175.6 293.3h0M175.3 298.1h0M175.6 331.8h0M175.7 300.3h0M175.6 325.7h0M175.5 314.0h0M175.5 316.7h0M175.6 302.0h0M175.6 320.0h0M175.4 324.3h0M175.7 298.0h0M175.5 309.1h0M175.6 337.1h0M175.7 316.7h0M175.4 338.6h0M177.6 303.2h0M177.8 295.7h0M177.8 335.6h0M177.9 292.6h0M177.9 322.0h0M177.5 296.4h0M177.6 307.5h0M177.9 321.3h0M177.6 323.4h0M177.6 317.8h0M177.8 300.8h0M177.6 293.2h0M177.7 290.2h0M177.5 336.6h0M177.7 321.9h0M177.7 307.3h0M177.9 300.3h0M177.5 320.6h0M177.5 325.0h0M177.6 312.6h0M177.7 335.3h0M177.8 332.6h0M180.1 324.5h0M179.9 293.3h0M179.9 303.4h0M179.8 311.6h0M179.7 305.9h0M179.7 303.9h0M179.7 333.0h0M179.9 307.4h0M180.0 289.5h0M180.1 311.1h0M179.7 313.2h0M179.7 297.4h0M180.0 316.5h0M179.8 325.0h0M180.0 298.5h0M180.0 298.0h0M179.8 307.4h0M180.0 292.7h0M180.0 306.6h0M180.0 305.8h0M180.0 330.0h0M181.8 315.1h0M182.2 297.2h0M181.8 319.1h0M181.8 326.7h0M182.0 305.7h0M182.0 331.3h0M182.3 304.2h0M182.0 320.2h0M181.9 307.8h0M181.8 298.2h0M182.1 307.3h0M181.9 331.1h0M182.3 288.5h0M182.2 311.3h0M182.1 319.7h0M181.9 311.1h0M182.1 332.0h0M182.1 334.4h0M182.1 296.1h0M182.0 318.1h0M182.2 330.1h0M184.3 297.1h0M184.4 292.8h0M184.3 323.8h0M184.4 315.5h0M184.1 288.8h0M184.1 308.1h0M184.5 311.8h0M184.1 323.3h0M184.2 323.8h0M184.5 294.1h0M184.2 292.3h0M184.1 304.3h0M184.5 298.0h0M184.2 297.5h0M184.4 295.7h0M184.2 308.1h0M184.2 300.4h0M184.2 300.5h0M184.3 318.7h0M184.3 296.2h0M184.0 307.1h0M186.4 323.7h0M186.5 310.2h0M186.7 315.2h0M186.4 300.9h0M186.3 307.4h0M186.7 316.2h0M186.4 305.8h0M186.4 339.7h0M186.2 320.0h0M186.5 300.3h0M186.2 323.2h0M186.3 294.9h0M186.4 299.8h0M186.4 284.3h0M186.6 286.4h0M186.3 286.7h0M186.4 313.6h0M186.6 286.2h0M186.3 295.8h0M186.3 315.0h0M186.5 284.4h0M188.5 298.3h0M188.5 325.6h0M188.5 296.9h0M188.6 300.8h0M188.8 294.6h0M188.7 328.7h0M188.8 319.4h0M188.6 324.9h0M188.6 316.2h0M188.4 317.3h0M188.6 288.8h0M188.6 287.6h0M188.8 300.0h0M188.5 288.2h0M188.5 317.7h0M188.8 325.0h0M188.9 303.4h0M188.8 294.4h0M188.6 319.2h0M188.8 296.9h0M188.7 313.3h0M190.9 307.8h0M190.8 285.0h0M190.7 301.9h0M191.0 302.9h0M190.9 282.3h0M190.7 302.8h0M190.8 317.4h0M191.0 287.7h0M190.9 328.1h0M190.7 316.8h0M190.7 319.6h0M190.9 287.6h0M190.9 311.4h0M190.8 315.1h0M190.9 313.1h0M190.8 297.7h0M190.8 296.9h0M190.9 296.2h0M191.1 306.2h0M191.0 287.4h0M190.6 309.5h0M192.8 305.8h0M192.9 306.2h0M192.9 322.1h0M193.2 286.4h0M193.0 326.7h0M193.2 313.6h0M193.3 294.5h0M192.9 305.4h0M193.1 326.1h0M192.9 304.2h0M192.9 299.9h0M193.3 291.2h0M193.2 299.2h0M192.9 298.7h0M193.1 312.8h0M192.9 284.0h0M193.3 285.5h0M193.0 295.4h0M193.1 324.5h0M193.2 282.8h0M193.2 299.4h0M195.1 301.8h0M195.1 298.8h0M195.4 294.0h0M195.0 297.5h0M195.2 299.5h0M195.2 296.3h0M195.4 296.4h0M195.3 289.9h0M195.0 305.4h0M195.1 315.6h0M195.5 322.0h0M195.2 296.5h0M195.3 297.6h0M195.0 311.3h0M195.3 304.2h0M195.0 294.0h0M195.3 310.1h0M195.2 304.3h0M195.4 297.5h0M195.3 325.5h0M197.2 297.6h0M197.6 299.4h0M197.2 288.5h0M197.5 308.2h0M197.4 295.5h0M197.4 317.6h0M197.5 290.1h0M197.2 292.5h0M197.4 302.9h0M197.4 304.8h0M197.6 311.1h0M197.5 288.2h0M197.5 291.8h0M197.4 284.0h0M197.6 324.9h0M197.6 318.8h0M197.6 294.1h0M197.5 314.2h0M197.3 313.7h0M197.5 309.8h0M199.8 283.5h0M199.4 287.7h0M199.5 316.5h0M199.6 320.4h0M199.8 301.2h0M199.4 266.1h0M199.8 284.3h0M199.7 306.3h0M199.5 311.3h0M199.7 282.4h0M199.4 299.8h0M199.5 315.8h0M199.7 290.3h0M199.6 268.3h0M199.7 324.2h0M199.4 285.9h0M199.4 289.5h0M199.8 282.2h0M199.4 313.8h0M199.8 322.5h0M202.0 321.4h0M201.8 322.6h0M201.8 293.8h0M201.8 316.5h0M201.7 316.6h0M201.9 314.8h0M201.6 323.0h0M201.9 306.4h0M201.6 323.5h0M201.8 305.7h0M201.8 286.3h0M201.7 298.7h0M202.0 306.7h0M202.0 285.3h0M201.7 317.7h0M201.9 313.0h0M201.8 315.4h0M201.8 310.5h0M201.6 311.7h0M201.5 293.2h0M204.1 287.9h0M204.1 302.9h0M204.1 316.2h0M204.0 320.4h0M203.8 286.5h0M203.8 293.9h0M204.1 295.8h0M204.2 313.1h0M203.9 309.3h0M203.8 314.7h0M204.2 289.7h0M203.9 292.1h0M203.9 322.2h0M204.2 302.9h0M203.8 319.4h0M204.0 314.6h0M203.7 317.5h0M203.8 297.7h0M203.7 307.8h0M204.1 295.9h0M206.1 301.9h0M206.0 290.5h0M206.3 295.8h0M206.3 288.6h0M206.0 320.6h0M206.1 289.3h0M205.9 311.1h0M206.3 306.5h0M206.4 317.7h0M206.3 301.4h0M206.3 302.7h0M206.0 315.6h0M206.0 297.0h0M206.0 304.1h0M206.1 285.6h0M205.9 307.9h0M206.4 321.0h0M206.1 319.7h0M206.2 281.7h0M206.1 280.4h0M208.2 286.0h0M208.3 292.1h0M208.4 295.1h0M208.5 322.3h0M208.2 286.0h0M208.2 301.0h0M208.2 282.1h0M208.4 307.5h0M208.5 293.4h0M208.4 306.8h0M208.2 298.9h0M208.2 302.8h0M208.6 299.2h0M208.1 305.1h0M208.4 307.9h0M208.4 290.6h0M208.5 309.2h0M208.3 296.2h0M208.4 294.4h0M208.4 295.8h0M210.8 305.5h0M210.5 283.1h0M210.3 313.2h0M210.7 285.3h0M210.5 303.0h0M210.5 281.4h0M210.3 319.0h0M210.6 295.8h0M210.3 319.2h0M210.7 309.3h0M210.6 289.6h0M210.7 287.7h0M210.6 280.1h0M210.4 296.9h0M210.4 303.4h0M210.4 300.5h0M210.5 316.3h0M210.8 309.7h0M210.8 295.3h0M210.4 303.5h0M212.8 276.3h0M212.9 283.2h0M212.5 283.9h0M212.6 315.3h0M213.0 288.6h0M212.9 311.9h0M212.6 295.6h0M212.5 302.1h0M212.6 303.3h0M212.8 311.5h0M212.7 301.8h0M212.6 286.9h0M212.5 283.8h0M212.8 286.0h0M212.6 301.8h0M212.7 295.6h0M212.6 311.2h0M212.6 309.8h0M212.9 284.0h0M212.9 311.0h0M214.9 297.4h0M214.9 295.6h0M214.9 304.1h0M215.1 279.6h0M215.1 305.7h0M215.2 290.1h0M214.7 307.9h0M215.1 301.0h0M215.1 313.4h0M214.8 290.7h0M215.1 299.8h0M214.7 316.9h0M214.9 309.0h0M215.1 289.0h0M215.0 301.2h0M214.9 285.5h0M215.0 285.2h0M214.8 310.0h0M214.8 293.0h0M215.0 304.9h0M217.0 299.4h0M217.3 305.6h0M217.2 303.4h0M217.3 288.5h0M217.1 305.7h0M217.3 306.9h0M217.3 308.5h0M217.0 312.7h0M217.2 309.5h0M217.3 281.6h0M216.9 280.9h0M216.9 290.4h0M217.3 314.3h0M217.0 308.3h0M217.2 306.3h0M217.3 307.5h0M217.0 288.0h0M217.1 307.0h0M217.0 284.5h0M217.3 296.8h0M219.3 296.0h0M219.5 281.9h0M219.5 279.6h0M219.3 308.9h0M219.1 316.7h0M219.6 302.1h0M219.4 294.9h0M219.1 287.3h0M219.4 307.7h0M219.1 292.9h0M219.5 303.4h0M219.2 293.2h0M219.2 298.7h0M219.5 294.6h0M219.3 288.0h0M219.5 312.3h0M219.2 294.4h0M219.4 309.1h0M219.5 293.4h0M219.4 300.4h0M221.5 309.8h0M221.3 297.6h0M221.6 294.0h0M221.7 286.3h0M221.5 313.0h0M221.3 312.4h0M221.6 308.6h0M221.7 291.1h0M221.7 307.6h0M221.7 307.1h0M221.6 300.5h0M221.3 286.1h0M221.4 314.3h0M221.3 307.4h0M221.3 276.8h0M221.4 305.4h0M221.4 281.3h0M221.3 278.5h0M221.4 296.2h0M223.6 294.9h0M223.7 288.1h0M223.6 285.2h0M223.6 307.3h0M223.7 293.1h0M223.7 291.7h0M223.5 288.1h0M223.6 283.8h0M223.8 287.3h0M223.7 312.1h0M223.8 308.0h0M223.7 308.7h0M223.5 284.4h0M223.7 318.4h0M223.9 280.1h0M223.7 309.8h0M223.7 288.5h0M223.9 302.5h0M223.5 307.8h0M226.1 296.2h0M225.7 301.7h0M225.8 276.2h0M226.0 307.1h0M225.9 287.1h0M226.0 283.0h0M225.8 277.4h0M225.7 275.4h0M226.1 320.0h0M225.9 282.1h0M226.1 302.5h0M225.9 305.1h0M225.6 291.8h0M225.9 301.3h0M226.1 313.2h0M226.1 278.3h0M225.8 286.6h0M226.1 288.7h0M225.9 301.3h0M228.2 289.1h0M228.1 280.0h0M227.9 312.7h0M228.1 279.0h0M227.9 304.7h0M228.2 303.3h0M228.2 288.0h0M227.8 279.3h0M228.1 309.8h0M228.0 278.9h0M228.2 304.7h0M227.9 309.1h0M228.1 294.7h0M227.9 279.0h0M228.3 282.7h0M227.9 280.2h0M227.9 293.8h0M228.3 279.6h0M228.3 296.4h0M230.1 300.3h0M230.5 304.9h0M230.3 300.5h0M230.1 310.2h0M230.0 296.6h0M230.1 310.0h0M230.3 276.6h0M230.1 300.1h0M230.4 285.4h0M230.2 298.6h0M230.3 289.1h0M230.4 310.9h0M230.1 292.0h0M230.5 286.9h0M230.0 304.8h0M230.2 295.1h0M230.3 277.4h0M230.4 292.7h0M230.3 294.8h0M232.4 285.8h0M232.3 308.7h0M232.5 313.7h0M232.2 303.8h0M232.5 301.9h0M232.6 293.8h0M232.4 308.9h0M232.5 291.1h0M232.6 288.2h0M232.3 300.5h0M232.5 302.8h0M232.5 297.4h0M232.7 305.5h0M232.4 292.4h0M232.5 285.9h0M232.6 304.0h0M232.4 283.9h0M232.5 308.9h0M232.5 293.4h0M234.9 286.9h0M234.4 294.0h0M234.8 293.6h0M234.5 305.2h0M234.9 302.9h0M234.4 305.0h0M234.5 279.6h0M234.6 292.9h0M234.8 302.2h0M234.7 309.1h0M234.8 303.3h0M234.8 298.3h0M234.6 292.2h0M234.7 278.8h0M234.8 290.3h0M234.9 303.1h0M234.8 283.9h0M234.7 311.4h0M234.4 308.2h0M236.7 279.0h0M236.9 301.9h0M237.0 275.8h0M236.6 290.1h0M236.8 309.3h0M236.8 288.2h0M237.0 311.2h0M236.6 287.8h0M236.7 294.5h0M236.6 288.0h0M236.7 279.3h0M236.6 300.2h0M236.6 301.1h0M236.8 307.7h0M236.7 304.2h0M236.9 275.1h0M236.7 284.0h0M236.8 286.3h0M236.8 289.1h0M238.8 288.1h0M239.0 285.4h0M239.1 302.7h0M239.1 310.3h0M239.2 287.0h0M238.9 278.1h0M239.1 281.0h0M238.9 286.3h0M239.2 308.2h0M238.8 298.8h0M239.0 300.6h0M239.2 288.4h0M238.8 281.4h0M239.1 298.4h0M238.9 279.7h0M239.2 289.2h0M239.1 284.8h0M239.0 300.3h0M238.8 282.6h0M241.3 298.5h0M241.1 280.8h0M241.2 277.6h0M241.3 297.4h0M241.0 288.4h0M241.4 280.4h0M241.1 303.0h0M241.4 305.5h0M241.3 309.7h0M241.0 293.7h0M241.2 296.3h0M241.1 278.3h0M241.2 286.8h0M241.3 303.4h0M241.0 278.0h0M241.0 278.0h0M241.2 291.1h0M241.2 301.0h0M241.1 292.7h0M243.4 301.5h0M243.5 278.5h0M243.2 276.9h0M243.5 308.0h0M243.2 275.9h0M243.5 278.5h0M243.3 291.4h0M243.3 272.6h0M243.6 281.1h0M243.3 274.7h0M243.4 301.0h0M243.5 277.3h0M243.6 302.1h0M243.6 285.9h0M243.4 279.4h0M243.4 281.1h0M243.2 296.6h0M243.4 284.4h0M243.3 287.2h0M210.6 323.6h0M127.3 372.1h0M118.6 308.5h0M138.3 372.0h0M118.6 370.6h0M199.6 333.9h0M221.5 320.6h0M107.6 374.5h0M109.8 379.4h0M221.5 271.0h0M109.8 379.0h0M197.4 329.7h0M195.2 333.1h0M236.8 316.9h0M225.9 325.4h0M166.8 289.5h0M173.3 343.6h0M90.1 383.5h0M109.8 379.3h0M107.6 373.0h0M173.3 289.6h0M103.2 315.6h0M114.2 374.3h0M193.0 277.8h0M190.8 337.3h0M243.4 265.1h0M133.9 373.3h0M241.2 320.6h0M173.3 351.8h0M168.9 290.7h0M186.5 336.6h0M90.1 378.7h0M177.7 287.7h0M90.1 384.8h0M199.6 335.5h0M182.1 277.3h0M98.9 382.6h0M232.4 265.1h0M120.8 314.1h0M206.2 329.1h0M232.4 266.9h0M133.9 374.6h0M208.4 272.2h0M129.5 310.2h0M214.9 329.7h0M142.7 303.1h0M160.2 290.2h0M201.8 334.3h0M149.2 303.7h0M94.5 322.2h0M90.1 382.8h0M234.6 316.1h0M217.1 329.3h0M162.4 363.2h0M160.2 355.6h0M208.4 272.7h0M175.5 343.9h0M221.5 319.1h0M166.8 287.6h0M188.7 336.2h0M243.4 264.4h0M225.9 266.4h0M123.0 375.1h0M149.2 370.9h0M168.9 348.1h0M166.8 290.3h0M125.1 368.5h0M228.1 269.0h0M90.1 377.8h0M241.2 266.1h0M68.2 418.0h0M59.4 398.9h0M72.6 403.9h0M66.0 426.0h0M63.8 399.6h0M55.1 404.0h0M52.9 423.0h0M63.8 396.3h0M61.6 407.8h0M68.2 418.2h0M72.6 419.3h0M57.2 420.5h0M61.6 421.3h0M50.7 422.1h0M68.2 411.3h0M52.9 426.9h0M48.5 419.6h0M55.1 393.1h0M52.9 396.2h0M57.2 415.9h0M55.1 407.9h0M70.4 404.9h0M52.9 393.7h0M72.6 420.0h0M61.6 416.4h0"/>
<line x1="38.40" y1="255.20" x2="38.40" y2="431.30" stroke="#333" stroke-width="0.8"/>
<line x1="38.40" y1="431.30" x2="250.80" y2="431.30" stroke="#333" stroke-width="0.8"/>
<line x1="36.40" y1="415.20" x2="38.40" y2="415.20" stroke="#333" stroke-width="0.7"/>
<text x="35.20" y="415.20" dy="0.35em" font-size="8.2" text-anchor="end" fill="#333" stroke="#333" stroke-width="0.1">0.0</text>
<line x1="36.40" y1="378.40" x2="38.40" y2="378.40" stroke="#333" stroke-width="0.7"/>
<text x="35.20" y="378.40" dy="0.35em" font-size="8.2" text-anchor="end" fill="#333" stroke="#333" stroke-width="0.1">2.5</text>
<line x1="36.40" y1="341.60" x2="38.40" y2="341.60" stroke="#333" stroke-width="0.7"/>
<text x="35.20" y="341.60" dy="0.35em" font-size="8.2" text-anchor="end" fill="#333" stroke="#333" stroke-width="0.1">5.0</text>
<line x1="36.40" y1="304.80" x2="38.40" y2="304.80" stroke="#333" stroke-width="0.7"/>
<text x="35.20" y="304.80" dy="0.35em" font-size="8.2" text-anchor="end" fill="#333" stroke="#333" stroke-width="0.1">7.5</text>
<line x1="36.40" y1="268.00" x2="38.40" y2="268.00" stroke="#333" stroke-width="0.7"/>
<text x="35.20" y="268.00" dy="0.35em" font-size="8.2" text-anchor="end" fill="#333" stroke="#333" stroke-width="0.1">10.0</text>
<line x1="68.20" y1="431.30" x2="68.20" y2="433.30" stroke="#333" stroke-width="0.7"/>
<text x="68.20" y="438.30" dy="0.35em" font-size="8.2" text-anchor="middle" fill="#333" stroke="#333" stroke-width="0.1">20</text>
<line x1="112.00" y1="431.30" x2="112.00" y2="433.30" stroke="#333" stroke-width="0.7"/>
<text x="112.00" y="438.30" dy="0.35em" font-size="8.2" text-anchor="middle" fill="#333" stroke="#333" stroke-width="0.1">40</text>
<line x1="155.80" y1="431.30" x2="155.80" y2="433.30" stroke="#333" stroke-width="0.7"/>
<text x="155.80" y="438.30" dy="0.35em" font-size="8.2" text-anchor="middle" fill="#333" stroke="#333" stroke-width="0.1">60</text>
<line x1="199.60" y1="431.30" x2="199.60" y2="433.30" stroke="#333" stroke-width="0.7"/>
<text x="199.60" y="438.30" dy="0.35em" font-size="8.2" text-anchor="middle" fill="#333" stroke="#333" stroke-width="0.1">80</text>
<line x1="243.40" y1="431.30" x2="243.40" y2="433.30" stroke="#333" stroke-width="0.7"/>
<text x="243.40" y="438.30" dy="0.35em" font-size="8.2" text-anchor="middle" fill="#333" stroke="#333" stroke-width="0.1">100</text>
<text x="153.10" y="451.20" dy="0.35em" font-size="9.6" text-anchor="middle" fill="#222" stroke="#222" stroke-width="0.1">DLPFC gene set size</text>
<text x="11.90" y="340.00" dy="0.35em" font-size="9.5" text-anchor="middle" fill="#222" transform="rotate(-90 11.90 340.00)" stroke="#222" stroke-width="0.1">Zummary</text>
<line x1="38.4" y1="385.76" x2="250.8" y2="385.76" stroke="#555" stroke-width="0.8" stroke-dasharray="3 2.2"/>
<path fill="none" stroke="#c2449e" stroke-width="3.8" stroke-linecap="round" d="M57.0 415.6h0M61.5 417.7h0M57.0 423.5h0M61.5 411.2h0M64.0 410.4h0"/>
<line x1="64.00" y1="410.40" x2="65.50" y2="393.00" stroke="#c2449e" stroke-width="0.6"/>
<text x="66.00" y="391.50" dy="0.35em" font-size="8.4" fill="#c2449e" stroke="#c2449e" stroke-width="0.1">Regulation of macrophage differentiation</text>
<line x1="61.50" y1="411.20" x2="69.70" y2="402.30" stroke="#c2449e" stroke-width="0.6"/>
<text x="70.20" y="402.30" dy="0.35em" font-size="8.4" fill="#c2449e" stroke="#c2449e" stroke-width="0.1">Regulation of animal organ formation</text>
<line x1="64.00" y1="410.40" x2="73.10" y2="410.40" stroke="#c2449e" stroke-width="0.6"/>
<text x="73.60" y="410.40" dy="0.35em" font-size="8.4" fill="#c2449e" stroke="#c2449e" stroke-width="0.1">Sodium ion import across plasma membrane</text>
<line x1="61.50" y1="417.70" x2="68.30" y2="417.30" stroke="#c2449e" stroke-width="0.6"/>
<text x="68.80" y="417.30" dy="0.35em" font-size="8.4" fill="#c2449e" stroke="#c2449e" stroke-width="0.1">CoA ligase activity</text>
<line x1="57.00" y1="423.50" x2="63.00" y2="426.00" stroke="#c2449e" stroke-width="0.6"/>
<text x="63.50" y="426.00" dy="0.35em" font-size="8.4" fill="#c2449e" stroke="#c2449e" stroke-width="0.1">Astrocyte activation</text>
<rect x="67.10" y="221.50" width="69.40" height="68.50" fill="#f7f7f7" stroke="#333" stroke-width="0.7"/>
<line x1="65.20" y1="276.90" x2="67.10" y2="276.90" stroke="#333" stroke-width="0.6"/>
<text x="61.40" y="276.90" dy="0.35em" font-size="8.4" text-anchor="middle" fill="#333" transform="rotate(-90 61.40 276.90)" stroke="#333" stroke-width="0.1">0</text>
<line x1="65.20" y1="260.46" x2="67.10" y2="260.46" stroke="#333" stroke-width="0.6"/>
<text x="61.40" y="260.46" dy="0.35em" font-size="8.4" text-anchor="middle" fill="#333" transform="rotate(-90 61.40 260.46)" stroke="#333" stroke-width="0.1">2</text>
<line x1="65.20" y1="244.02" x2="67.10" y2="244.02" stroke="#333" stroke-width="0.6"/>
<text x="61.40" y="244.02" dy="0.35em" font-size="8.4" text-anchor="middle" fill="#333" transform="rotate(-90 61.40 244.02)" stroke="#333" stroke-width="0.1">4</text>
<line x1="65.20" y1="227.58" x2="67.10" y2="227.58" stroke="#333" stroke-width="0.6"/>
<text x="61.40" y="227.58" dy="0.35em" font-size="8.4" text-anchor="middle" fill="#333" transform="rotate(-90 61.40 227.58)" stroke="#333" stroke-width="0.1">6</text>
<line x1="67.1" y1="260.46" x2="136.5" y2="260.46" stroke="#555" stroke-width="0.6" stroke-dasharray="1.6 1.2"/>
<text x="52.20" y="256.50" dy="0.35em" font-size="7.8" text-anchor="middle" fill="#222" transform="rotate(-90 52.20 256.50)" stroke="#222" stroke-width="0.1">Zsummary</text>
<text x="68.8" y="226.2" dy="0.35em" font-size="6.5" fill="#111" stroke="#111" stroke-width="0.1">Wilcoxon <tspan font-style="italic">p</tspan> = 8.45x10<tspan font-size="4" dy="-2">-4</tspan></text>
<path d="M86.4 242.2 Q88.6 245.6 97.6 247.6 Q94.4 248.8 94 250 Q94.4 251.2 98.2 252.4 Q88.6 254.4 86.4 257.8 Q84.2 254.4 74.8 252.4 Q78.4 251.2 79 250 Q78.4 248.8 75.4 247.6 Q84.2 245.6 86.4 242.2Z" fill="#b5b5b5"/>
<path d="M117.7 269.2 Q121.5 272.6 131.8 274.6 Q120.8 277.4 117.7 286.6 Q114.6 277.4 103.6 274.6 Q113.9 272.6 117.7 269.2Z" fill="#bb379c"/>
<rect x="85.60" y="247.60" width="2.40" height="3.20" fill="#ffffff" stroke="#111" stroke-width="0.7"/>
<rect x="116.40" y="274.40" width="2.60" height="2.80" fill="#ffffff" stroke="#111" stroke-width="0.7"/>
<path d="M83.8 252.3h1.6M85.6 252.6h1.2M88.6 251.8h1M90.6 247h0.8M115.4 273.2h1.2M119.6 272.6h1M120.2 276.5h0.9M116.4 279.6h1M115.6 282h0.6" stroke="#111" stroke-width="0.8"/>
<text x="91.6" y="295.6" font-size="7.8" text-anchor="end" fill="#222" transform="rotate(-45 91.6 295.6)" stroke="#222" stroke-width="0.1">Random gene set</text>
<text x="122.2" y="295.6" font-size="7.8" text-anchor="end" fill="#222" transform="rotate(-45 122.2 295.6)" stroke="#222" stroke-width="0.1">Real gene set</text>
<path d="M86.4 290V292M117.4 290V292" stroke="#333" stroke-width="0.6"/>
<text x="106.50" y="202.40" dy="0.35em" font-size="8.5" text-anchor="middle" fill="#c2449e" stroke="#c2449e" stroke-width="0.1">PFC: Zsummary of</text>
<text x="101.30" y="213.00" dy="0.35em" font-size="8.5" text-anchor="middle" fill="#c2449e" stroke="#c2449e" stroke-width="0.1">non-preserved gene sets</text>
<circle cx="156.3" cy="224.8" r="3.4" fill="#c2449e"/><circle cx="156.3" cy="235.6" r="3.4" fill="#b6b8b8"/>
<text x="161.80" y="224.60" dy="0.35em" font-size="7.8" fill="#222" stroke="#222" stroke-width="0.1">Non-preserved gene sets</text>
<text x="161.80" y="235.40" dy="0.35em" font-size="7.8" fill="#222" stroke="#222" stroke-width="0.1">Preserved gene sets</text>
<path fill="none" stroke="#b6b8b8" stroke-width="3.7" stroke-linecap="round" d="M469.5 395.0h0M469.5 363.0h0M469.8 380.6h0M469.5 374.8h0M469.7 414.6h0M469.8 395.8h0M469.7 402.1h0M469.6 404.3h0M469.9 369.3h0M469.7 393.9h0M469.7 392.8h0M469.9 384.2h0M469.5 417.3h0M469.9 388.2h0M469.7 395.1h0M469.9 382.4h0M469.6 385.8h0M469.9 395.7h0M469.8 375.5h0M469.8 397.0h0M469.9 371.3h0M469.7 391.1h0M469.8 392.1h0M469.6 392.8h0M469.5 398.0h0M469.8 416.6h0M469.8 389.0h0M469.9 405.7h0M469.8 395.7h0M469.6 368.7h0M469.9 358.8h0M469.5 416.0h0M469.6 397.5h0M469.5 386.7h0M469.7 385.4h0M469.6 373.1h0M469.9 409.1h0M469.5 414.6h0M469.8 408.7h0M469.5 418.4h0M469.7 385.6h0M469.7 380.7h0M469.9 326.7h0M469.7 386.7h0M469.6 415.7h0M469.5 376.4h0M469.5 393.0h0M469.9 396.3h0M469.9 369.3h0M469.8 384.3h0M469.8 393.7h0M469.6 414.7h0M469.6 384.8h0M469.9 418.1h0M469.5 357.9h0M469.8 405.1h0M469.9 405.1h0M469.6 382.2h0M469.8 391.6h0M469.7 403.5h0M469.5 392.1h0M469.6 415.5h0M469.6 382.2h0M469.9 370.2h0M469.9 362.5h0M469.5 405.9h0M469.6 404.9h0M469.6 395.5h0M469.7 392.0h0M469.6 395.5h0M469.8 385.4h0M469.6 379.6h0M469.8 382.1h0M469.6 388.3h0M469.6 387.6h0M469.5 387.4h0M469.5 402.1h0M469.5 416.4h0M469.8 411.6h0M469.7 368.2h0M469.6 377.7h0M469.8 407.2h0M469.5 382.8h0M469.8 366.5h0M469.7 373.4h0M469.6 404.3h0M469.9 398.9h0M469.8 408.4h0M469.7 412.6h0M469.6 405.3h0M469.9 391.1h0M469.5 392.1h0M469.9 396.2h0M469.9 363.1h0M469.9 396.1h0M469.9 387.9h0M469.5 377.7h0M469.6 383.9h0M469.5 401.2h0M469.7 371.1h0M469.5 376.8h0M469.8 406.7h0M469.9 382.8h0M469.9 397.5h0M469.9 402.3h0M469.9 413.1h0M469.6 405.5h0M469.5 408.6h0M469.5 399.6h0M469.6 412.0h0M469.6 409.7h0M472.1 400.5h0M471.7 416.8h0M472.0 367.5h0M472.0 384.3h0M471.7 360.8h0M472.0 386.7h0M471.9 397.9h0M471.9 415.6h0M471.9 369.5h0M472.0 410.8h0M471.9 403.9h0M471.7 361.9h0M472.0 367.9h0M472.1 418.3h0M472.1 379.7h0M471.8 385.3h0M471.9 411.0h0M472.1 381.5h0M471.9 363.6h0M471.7 409.8h0M471.9 380.5h0M472.0 379.4h0M472.0 380.7h0M472.0 414.6h0M471.9 388.1h0M471.9 410.3h0M471.9 412.8h0M472.1 401.1h0M471.7 371.8h0M471.9 365.8h0M472.0 395.7h0M471.9 358.4h0M472.0 399.3h0M472.0 359.4h0M471.9 412.4h0M471.8 368.6h0M471.9 364.0h0M471.9 370.3h0M472.0 415.9h0M472.0 412.8h0M471.8 403.4h0M471.9 373.2h0M472.0 393.7h0M472.1 403.7h0M471.7 408.0h0M472.1 411.7h0M472.1 384.9h0M472.1 397.5h0M471.8 414.2h0M472.1 395.7h0M472.0 365.9h0M472.0 382.4h0M472.1 408.3h0M472.0 402.7h0M472.1 412.3h0M471.9 375.0h0M472.0 402.5h0M472.1 389.2h0M472.0 377.8h0M471.9 369.1h0M471.8 361.6h0M471.7 397.0h0M471.7 393.8h0M472.0 366.2h0M472.0 369.2h0M472.1 391.0h0M471.8 412.9h0M471.8 366.8h0M471.9 368.9h0M472.0 372.4h0M472.0 371.1h0M471.7 364.2h0M472.0 392.8h0M472.0 413.9h0M471.8 385.2h0M472.1 391.7h0M471.8 389.5h0M471.8 391.1h0M471.7 376.5h0M471.7 414.3h0M472.1 391.2h0M472.1 381.9h0M471.7 397.7h0M471.9 414.2h0M472.1 360.3h0M472.0 395.1h0M471.9 374.7h0M471.8 415.7h0M471.8 393.3h0M471.7 416.0h0M471.7 396.7h0M471.9 408.1h0M472.0 382.8h0M472.1 360.2h0M471.7 407.9h0M471.8 397.9h0M472.1 375.9h0M472.1 401.3h0M471.7 363.7h0M472.1 392.8h0M471.8 386.3h0M472.0 384.8h0M471.7 397.4h0M472.0 382.3h0M472.1 383.1h0M471.7 407.8h0M471.9 358.8h0M474.3 377.2h0M473.9 412.8h0M474.0 368.0h0M474.3 402.1h0M473.9 399.9h0M474.0 408.9h0M474.2 415.8h0M473.9 365.9h0M474.2 404.1h0M473.9 373.1h0M474.2 387.1h0M473.9 415.7h0M473.9 370.2h0M474.1 403.2h0M473.9 377.3h0M474.1 403.8h0M474.0 416.2h0M473.9 399.2h0M474.0 366.1h0M473.9 361.2h0M474.2 361.0h0M474.2 408.7h0M473.9 404.8h0M473.9 383.1h0M474.3 359.8h0M473.9 357.3h0M473.9 396.4h0M474.1 380.3h0M474.2 386.5h0M474.3 417.3h0M474.2 367.7h0M474.3 405.8h0M474.2 370.2h0M474.0 385.3h0M473.9 407.4h0M474.1 376.1h0M474.3 360.1h0M474.1 370.5h0M473.9 370.7h0M474.1 372.5h0M473.9 374.8h0M474.3 373.6h0M474.3 401.3h0M474.2 408.8h0M473.9 382.5h0M474.3 363.8h0M474.3 397.5h0M474.3 357.2h0M473.9 400.7h0M473.9 357.9h0M474.3 394.3h0M474.3 409.4h0M474.1 368.4h0M474.3 355.9h0M474.0 386.6h0M474.1 405.6h0M474.3 428.3h0M474.1 417.1h0M473.9 397.6h0M474.1 384.7h0M474.1 390.8h0M474.2 405.3h0M474.1 356.3h0M474.2 359.1h0M474.1 366.2h0M474.2 381.8h0M473.9 394.6h0M474.1 377.0h0M474.1 386.8h0M474.2 359.0h0M473.9 383.0h0M474.2 399.0h0M474.1 415.1h0M474.1 381.9h0M474.0 362.5h0M474.1 418.9h0M474.0 402.3h0M474.1 360.2h0M474.2 357.0h0M474.3 382.0h0M474.1 397.3h0M473.9 394.4h0M474.0 400.7h0M474.0 417.7h0M474.1 376.4h0M474.3 368.0h0M474.1 377.0h0M474.3 374.7h0M473.9 371.6h0M474.0 390.7h0M474.0 414.3h0M474.1 390.8h0M474.0 380.2h0M473.9 372.2h0M474.3 392.1h0M474.3 354.5h0M474.2 381.7h0M474.0 355.5h0M474.0 361.3h0M474.3 415.1h0M473.9 376.5h0M473.9 401.6h0M473.9 402.9h0M476.3 390.2h0M476.1 420.5h0M476.5 359.5h0M476.4 411.3h0M476.3 411.6h0M476.3 370.1h0M476.1 401.4h0M476.5 411.8h0M476.2 391.8h0M476.3 390.9h0M476.5 373.4h0M476.5 348.5h0M476.2 373.6h0M476.4 382.5h0M476.3 392.5h0M476.2 362.2h0M476.2 387.7h0M476.3 384.4h0M476.4 358.9h0M476.4 414.1h0M476.3 413.8h0M476.1 407.6h0M476.2 393.4h0M476.3 396.5h0M476.5 403.9h0M476.3 371.1h0M476.5 384.2h0M476.2 400.2h0M476.3 387.8h0M476.4 382.9h0M476.4 417.3h0M476.1 384.9h0M476.5 409.3h0M476.2 417.5h0M476.2 358.1h0M476.3 413.4h0M476.4 400.9h0M476.5 403.6h0M476.2 394.2h0M476.5 380.1h0M476.2 395.5h0M476.4 373.7h0M476.4 416.4h0M476.1 370.6h0M476.5 379.7h0M476.2 373.8h0M476.1 358.7h0M476.2 393.9h0M476.4 363.7h0M476.3 417.2h0M476.5 385.5h0M476.3 412.8h0M476.1 378.3h0M476.3 375.6h0M476.1 404.1h0M476.1 385.7h0M476.1 359.6h0M476.1 371.7h0M476.3 388.6h0M476.5 396.5h0M476.4 362.0h0M476.4 401.5h0M476.3 394.2h0M476.3 374.6h0M476.5 390.4h0M476.2 372.0h0M476.5 375.2h0M476.2 386.7h0M476.4 388.0h0M476.3 372.2h0M476.4 414.4h0M476.2 418.4h0M476.3 394.2h0M476.2 376.4h0M476.5 365.7h0M476.2 372.1h0M476.3 388.5h0M476.5 413.2h0M476.4 359.9h0M476.4 388.7h0M476.5 417.1h0M476.5 362.0h0M476.3 390.6h0M476.1 407.4h0M476.3 368.4h0M476.3 403.8h0M476.4 372.2h0M476.5 408.1h0M476.2 415.9h0M476.1 360.7h0M476.3 370.4h0M476.5 410.2h0M476.4 388.5h0M476.2 410.2h0M476.3 357.3h0M476.1 355.1h0M476.4 381.7h0M476.3 365.9h0M476.3 384.9h0M478.7 383.5h0M478.5 373.2h0M478.3 388.6h0M478.3 398.3h0M478.3 367.7h0M478.6 388.0h0M478.3 391.2h0M478.3 386.0h0M478.7 384.7h0M478.3 395.7h0M478.4 372.5h0M478.6 385.7h0M478.3 378.9h0M478.4 363.7h0M478.7 373.8h0M478.5 369.4h0M478.5 384.7h0M478.4 408.8h0M478.3 389.8h0M478.7 357.1h0M478.3 397.6h0M478.5 362.0h0M478.5 365.5h0M478.4 399.7h0M478.3 395.2h0M478.7 358.0h0M478.4 360.0h0M478.7 389.7h0M478.4 373.2h0M478.7 363.3h0M478.6 381.9h0M478.4 413.9h0M478.4 358.7h0M478.4 410.6h0M478.6 405.6h0M478.4 401.8h0M478.4 353.7h0M478.4 368.7h0M478.4 395.7h0M478.3 393.8h0M478.6 360.3h0M478.5 361.0h0M478.4 374.4h0M478.6 384.0h0M478.4 379.2h0M478.7 411.2h0M478.5 354.4h0M478.4 396.2h0M478.4 414.5h0M478.5 410.2h0M478.6 358.9h0M478.4 406.5h0M478.5 410.5h0M478.7 361.8h0M478.6 377.4h0M478.6 382.5h0M478.6 409.0h0M478.6 413.9h0M478.5 382.2h0M478.6 362.7h0M478.5 355.9h0M478.7 369.6h0M478.7 415.3h0M478.7 372.1h0M478.6 385.2h0M478.4 383.6h0M478.4 401.2h0M478.7 413.0h0M478.6 358.7h0M478.7 406.5h0M478.3 406.6h0M478.6 380.4h0M478.3 405.0h0M478.5 379.7h0M478.4 373.3h0M478.4 411.5h0M478.5 363.4h0M478.5 373.4h0M478.7 376.5h0M478.7 355.4h0M478.3 412.0h0M478.4 365.3h0M478.3 399.2h0M478.5 387.5h0M478.5 367.2h0M478.7 399.2h0M478.4 435.4h0M478.7 369.4h0M478.5 378.6h0M478.7 360.2h0M478.4 363.8h0M478.3 352.8h0M478.4 406.4h0M478.3 366.4h0M478.6 414.4h0M478.3 378.4h0M480.7 397.8h0M480.7 412.0h0M480.7 354.2h0M480.7 397.5h0M480.5 392.6h0M480.9 406.2h0M480.5 404.8h0M480.6 361.8h0M480.6 391.9h0M480.9 357.5h0M480.8 367.1h0M480.6 398.4h0M480.9 406.2h0M480.8 358.2h0M480.5 386.8h0M480.7 385.7h0M480.9 394.3h0M480.9 358.0h0M480.7 382.7h0M480.7 409.5h0M480.5 363.2h0M480.7 361.2h0M480.5 404.9h0M480.8 384.4h0M480.7 391.3h0M480.5 412.5h0M480.7 363.0h0M480.7 400.3h0M480.9 362.3h0M480.7 405.1h0M480.9 391.9h0M480.6 377.6h0M480.6 358.6h0M480.5 390.5h0M480.8 351.7h0M480.9 403.4h0M480.8 411.9h0M480.6 386.1h0M480.9 362.9h0M480.8 383.1h0M480.7 358.7h0M480.5 382.2h0M480.5 387.8h0M480.6 371.5h0M480.8 361.2h0M480.9 387.9h0M480.6 389.2h0M480.8 384.3h0M480.5 407.0h0M480.8 378.8h0M480.5 371.4h0M480.5 405.5h0M480.8 376.0h0M480.5 408.3h0M480.7 366.3h0M480.6 383.8h0M480.5 397.5h0M480.5 366.9h0M480.7 373.6h0M480.5 361.5h0M480.9 388.7h0M480.5 373.7h0M480.6 396.7h0M480.8 407.9h0M480.7 367.5h0M480.8 406.8h0M480.5 394.4h0M480.7 365.3h0M480.5 390.0h0M480.5 352.0h0M480.6 390.1h0M480.6 404.4h0M480.9 398.4h0M480.6 395.7h0M480.9 411.0h0M480.8 392.8h0M480.7 357.7h0M480.9 395.5h0M480.9 375.4h0M480.9 391.8h0M480.6 392.3h0M480.8 379.8h0M480.6 365.8h0M480.5 371.6h0M480.8 375.9h0M480.6 357.2h0M480.6 383.0h0M480.6 411.7h0M480.7 359.1h0M480.5 409.3h0M480.9 389.5h0M480.5 372.6h0M483.0 385.8h0M483.0 381.6h0M482.9 385.5h0M482.8 366.2h0M483.1 376.3h0M482.9 394.2h0M483.0 382.3h0M483.0 389.0h0M483.1 379.9h0M483.1 370.3h0M483.1 359.0h0M482.7 375.5h0M483.0 382.7h0M482.7 388.1h0M483.0 369.5h0M483.1 360.7h0M482.9 405.7h0M482.7 387.7h0M483.1 396.3h0M483.1 390.0h0M483.1 369.8h0M483.1 375.0h0M483.1 387.7h0M482.7 397.1h0M482.8 384.4h0M482.7 398.6h0M483.0 403.2h0M482.8 377.2h0M482.9 399.7h0M482.9 376.6h0M482.7 395.6h0M482.8 349.6h0M482.9 385.3h0M482.9 380.1h0M482.8 359.7h0M483.1 377.4h0M483.0 382.0h0M483.0 383.3h0M483.0 370.0h0M482.8 395.8h0M483.1 405.6h0M483.1 379.4h0M483.1 371.8h0M482.8 402.9h0M482.7 399.0h0M483.0 364.3h0M483.1 394.9h0M482.9 392.0h0M482.9 402.1h0M482.8 357.4h0M483.0 385.4h0M482.8 388.2h0M482.7 363.3h0M483.1 358.4h0M482.9 361.2h0M483.0 397.0h0M483.0 396.8h0M483.0 357.1h0M483.0 371.8h0M482.8 367.5h0M483.0 370.7h0M482.9 354.7h0M483.0 386.6h0M482.9 368.6h0M482.8 360.8h0M482.8 382.5h0M482.9 378.9h0M483.0 357.2h0M482.9 391.5h0M482.8 369.8h0M483.1 389.4h0M482.7 354.9h0M483.0 401.8h0M483.1 383.1h0M482.7 383.4h0M482.7 377.4h0M483.1 396.8h0M482.8 392.9h0M482.9 394.7h0M482.8 391.3h0M483.0 356.0h0M482.9 405.2h0M482.7 396.2h0M483.0 405.2h0M483.1 359.3h0M483.0 370.4h0M483.1 354.4h0M482.7 358.4h0M482.8 403.2h0M485.2 376.0h0M484.9 358.6h0M485.0 379.7h0M485.0 392.2h0M485.1 377.5h0M485.1 354.1h0M485.2 389.6h0M485.3 364.8h0M485.1 358.5h0M484.9 361.6h0M485.2 358.8h0M485.0 352.9h0M485.2 369.6h0M485.1 400.8h0M485.0 380.3h0M485.0 361.0h0M484.9 402.7h0M485.0 350.6h0M485.3 385.1h0M485.3 395.9h0M485.3 373.5h0M485.2 355.3h0M485.3 381.4h0M485.3 401.7h0M484.9 381.1h0M485.1 370.4h0M485.2 389.0h0M485.0 349.5h0M484.9 363.6h0M485.2 359.3h0M485.2 369.9h0M485.3 401.1h0M485.1 363.5h0M485.1 363.4h0M485.3 377.9h0M485.2 352.3h0M485.2 357.4h0M485.3 398.1h0M485.2 403.1h0M485.0 350.3h0M485.1 399.0h0M485.2 384.0h0M485.0 357.9h0M485.3 361.4h0M484.9 401.9h0M485.0 392.9h0M485.3 381.6h0M485.0 386.9h0M485.0 369.3h0M485.0 355.6h0M484.9 374.5h0M485.2 374.2h0M485.2 389.8h0M485.3 359.2h0M484.9 397.3h0M484.9 395.3h0M484.9 399.2h0M484.9 347.8h0M485.1 401.3h0M485.1 399.7h0M484.9 386.3h0M484.9 368.9h0M485.3 370.6h0M485.1 376.4h0M485.2 391.1h0M485.1 395.9h0M485.1 382.4h0M485.2 361.8h0M485.3 357.8h0M485.3 370.6h0M485.2 361.0h0M485.3 393.8h0M484.9 383.0h0M485.0 364.2h0M485.3 352.3h0M484.9 388.5h0M485.1 398.3h0M485.3 365.8h0M485.1 400.7h0M485.3 377.5h0M485.0 360.1h0M485.0 349.2h0M485.1 383.1h0M484.9 383.9h0M485.1 392.9h0M485.1 393.1h0M487.3 360.1h0M487.1 371.6h0M487.5 354.2h0M487.2 400.2h0M487.4 356.3h0M487.2 358.0h0M487.2 376.3h0M487.4 364.5h0M487.3 391.4h0M487.2 380.5h0M487.2 398.7h0M487.3 378.4h0M487.2 393.1h0M487.2 401.9h0M487.5 378.3h0M487.2 349.3h0M487.3 354.5h0M487.2 392.2h0M487.4 369.6h0M487.4 377.8h0M487.3 381.4h0M487.1 351.1h0M487.3 390.7h0M487.4 368.0h0M487.2 381.3h0M487.5 393.6h0M487.5 398.5h0M487.1 402.7h0M487.3 379.0h0M487.2 378.4h0M487.2 392.3h0M487.3 382.8h0M487.1 408.2h0M487.5 380.9h0M487.4 346.6h0M487.1 396.0h0M487.3 397.0h0M487.3 388.4h0M487.3 381.7h0M487.1 396.2h0M487.1 387.0h0M487.5 360.0h0M487.3 369.6h0M487.4 368.3h0M487.2 384.8h0M487.3 360.9h0M487.4 374.1h0M487.4 398.6h0M487.4 361.3h0M487.5 346.7h0M487.2 388.8h0M487.1 365.6h0M487.2 363.1h0M487.3 370.7h0M487.4 389.6h0M487.4 384.8h0M487.4 380.8h0M487.1 361.7h0M487.1 350.8h0M487.5 361.9h0M487.5 349.2h0M487.1 392.4h0M487.3 386.9h0M487.4 357.2h0M487.3 347.5h0M487.3 385.5h0M487.1 393.3h0M487.3 379.4h0M487.5 378.1h0M487.3 376.0h0M487.1 349.2h0M487.5 393.7h0M487.2 348.2h0M487.4 354.6h0M487.3 381.0h0M487.3 385.3h0M487.3 397.7h0M487.4 382.4h0M487.4 385.2h0M487.1 360.3h0M487.3 373.3h0M487.2 383.6h0M487.3 360.6h0M489.6 360.5h0M489.4 386.8h0M489.7 373.5h0M489.7 387.8h0M489.3 358.1h0M489.7 400.0h0M489.6 401.8h0M489.4 347.5h0M489.6 377.6h0M489.7 373.8h0M489.3 375.3h0M489.5 347.2h0M489.3 378.3h0M489.4 405.7h0M489.7 377.9h0M489.3 365.6h0M489.7 350.3h0M489.6 365.7h0M489.4 401.8h0M489.7 349.8h0M489.4 380.3h0M489.7 398.8h0M489.5 353.7h0M489.7 388.0h0M489.5 399.3h0M489.5 392.1h0M489.6 384.9h0M489.5 382.5h0M489.7 372.7h0M489.7 379.7h0M489.3 389.1h0M489.5 358.0h0M489.4 361.2h0M489.3 397.0h0M489.3 390.4h0M489.7 371.9h0M489.6 390.5h0M489.7 346.2h0M489.4 380.0h0M489.5 352.1h0M489.3 378.2h0M489.3 402.3h0M489.4 370.7h0M489.7 392.9h0M489.7 400.5h0M489.3 385.3h0M489.3 395.8h0M489.6 396.6h0M489.4 395.4h0M489.3 376.3h0M489.5 349.3h0M489.3 371.4h0M489.3 371.3h0M489.4 402.5h0M489.7 401.4h0M489.6 349.3h0M489.5 399.3h0M489.4 347.7h0M489.5 351.2h0M489.7 352.3h0M489.7 390.0h0M489.5 368.0h0M489.3 375.4h0M489.4 400.2h0M489.5 370.5h0M489.6 377.6h0M489.5 403.1h0M489.5 349.1h0M489.4 362.8h0M489.3 351.6h0M489.6 373.0h0M489.6 372.1h0M489.6 353.6h0M489.5 404.9h0M489.4 390.9h0M489.6 366.2h0M489.3 362.4h0M489.3 395.7h0M489.7 390.3h0M489.5 351.4h0M491.8 355.6h0M491.5 348.7h0M491.6 365.2h0M491.5 359.6h0M491.6 390.5h0M491.5 375.9h0M491.5 368.3h0M491.9 362.6h0M491.8 343.7h0M491.8 402.7h0M491.6 365.5h0M491.5 365.0h0M491.9 397.4h0M491.8 379.1h0M491.6 358.1h0M491.7 362.3h0M491.7 375.7h0M491.5 367.5h0M491.5 349.2h0M491.6 386.8h0M491.6 364.7h0M491.9 385.7h0M491.6 355.3h0M491.6 349.0h0M491.8 400.7h0M491.7 403.0h0M491.8 367.1h0M491.5 351.3h0M491.6 402.9h0M491.6 383.6h0M491.6 377.2h0M491.7 368.0h0M491.5 364.1h0M491.8 349.8h0M491.7 401.6h0M491.6 386.8h0M491.9 391.7h0M491.9 401.4h0M491.6 391.6h0M491.5 389.4h0M491.6 376.5h0M491.7 395.2h0M491.9 381.7h0M491.9 396.6h0M491.9 369.7h0M491.5 373.4h0M491.5 386.7h0M491.6 405.2h0M491.6 383.1h0M491.7 374.0h0M491.7 344.3h0M491.6 356.2h0M491.9 377.2h0M491.9 367.9h0M491.5 394.5h0M491.7 400.8h0M491.9 396.5h0M491.9 391.7h0M491.5 398.6h0M491.8 372.8h0M491.9 395.8h0M491.5 402.5h0M491.6 367.7h0M491.6 366.9h0M491.7 399.9h0M491.7 347.2h0M491.5 357.3h0M491.7 383.2h0M491.8 402.1h0M491.6 369.4h0M491.8 403.4h0M491.6 361.5h0M491.6 386.9h0M491.6 365.9h0M491.7 398.3h0M491.8 379.5h0M491.9 361.0h0M491.7 359.8h0M494.0 375.6h0M494.0 384.9h0M493.8 366.7h0M494.1 347.8h0M493.8 342.5h0M494.0 372.3h0M494.1 367.0h0M494.0 412.4h0M494.1 375.2h0M493.9 352.0h0M494.1 394.0h0M493.7 397.9h0M493.9 367.0h0M494.1 379.4h0M493.8 349.6h0M493.7 382.6h0M493.9 380.2h0M493.7 369.9h0M493.8 382.0h0M493.9 378.8h0M494.0 345.7h0M493.8 350.0h0M494.0 386.0h0M493.9 349.1h0M493.8 387.2h0M493.8 364.1h0M494.1 362.6h0M493.7 345.9h0M494.0 400.1h0M493.9 365.7h0M493.8 385.1h0M494.1 376.5h0M493.9 356.9h0M493.7 384.8h0M494.0 366.7h0M493.9 398.5h0M493.7 367.8h0M494.0 402.7h0M493.9 400.3h0M493.7 371.8h0M493.8 368.1h0M494.1 370.2h0M493.7 371.6h0M494.1 371.3h0M493.7 337.7h0M494.0 366.6h0M494.0 379.5h0M494.0 345.0h0M493.9 379.4h0M493.7 382.5h0M494.0 370.3h0M494.1 397.5h0M494.1 379.5h0M493.7 361.9h0M494.0 347.5h0M494.0 346.3h0M493.9 401.7h0M493.8 354.9h0M494.0 342.5h0M494.1 369.5h0M493.9 368.8h0M494.1 353.9h0M493.9 372.8h0M493.9 395.8h0M493.9 381.2h0M493.7 382.9h0M494.0 359.6h0M494.1 393.7h0M494.1 381.7h0M493.9 366.3h0M493.7 348.9h0M493.7 398.2h0M493.7 370.8h0M493.9 379.5h0M494.1 398.7h0M496.2 398.3h0M496.3 360.5h0M496.3 374.6h0M495.9 395.5h0M496.3 395.9h0M496.1 380.4h0M496.2 380.8h0M496.1 345.5h0M496.1 394.8h0M496.2 377.4h0M496.1 353.5h0M496.2 369.2h0M496.2 385.9h0M496.2 399.2h0M496.2 358.2h0M496.2 379.0h0M496.1 400.7h0M496.3 365.8h0M496.1 394.8h0M496.0 397.7h0M495.9 384.8h0M495.9 356.6h0M495.9 386.8h0M495.9 401.8h0M496.0 357.2h0M496.3 392.1h0M495.9 351.0h0M495.9 343.8h0M496.1 368.9h0M496.0 394.8h0M496.0 350.6h0M495.9 396.2h0M495.9 393.3h0M496.0 390.8h0M496.3 350.9h0M496.3 394.4h0M496.2 384.2h0M496.0 389.7h0M496.0 358.6h0M495.9 368.7h0M496.3 401.4h0M496.0 373.9h0M496.0 352.6h0M496.0 351.9h0M496.3 347.3h0M496.2 363.5h0M496.2 382.7h0M496.3 383.2h0M496.0 348.4h0M495.9 359.2h0M496.3 351.5h0M495.9 393.1h0M496.3 388.1h0M496.1 374.4h0M496.1 376.3h0M496.1 384.1h0M495.9 373.5h0M496.0 382.1h0M496.1 376.9h0M496.2 356.9h0M495.9 377.6h0M496.1 404.0h0M496.2 398.1h0M496.0 358.3h0M496.0 359.5h0M495.9 368.2h0M496.2 389.9h0M496.3 382.6h0M496.1 366.4h0M496.3 376.8h0M496.2 373.4h0M496.1 395.1h0M498.4 385.1h0M498.4 354.0h0M498.2 382.9h0M498.2 352.1h0M498.2 357.3h0M498.5 386.2h0M498.1 382.5h0M498.3 378.5h0M498.5 344.1h0M498.4 377.9h0M498.1 387.6h0M498.2 340.6h0M498.4 343.2h0M498.4 392.0h0M498.4 346.5h0M498.4 348.9h0M498.1 377.2h0M498.1 355.2h0M498.5 346.1h0M498.5 371.8h0M498.1 397.8h0M498.5 397.7h0M498.4 366.0h0M498.2 378.9h0M498.4 346.7h0M498.3 398.2h0M498.1 379.1h0M498.1 397.3h0M498.3 349.8h0M498.5 369.5h0M498.4 399.7h0M498.5 348.9h0M498.1 344.0h0M498.5 377.0h0M498.5 381.4h0M498.1 388.8h0M498.1 361.0h0M498.1 350.7h0M498.2 378.5h0M498.4 402.7h0M498.1 370.2h0M498.3 342.9h0M498.2 345.3h0M498.1 391.7h0M498.3 345.1h0M498.4 385.6h0M498.1 395.7h0M498.5 367.3h0M498.4 400.0h0M498.2 391.8h0M498.1 344.7h0M498.4 341.0h0M498.3 392.3h0M498.2 353.0h0M498.5 372.4h0M498.4 380.5h0M498.3 355.4h0M498.5 365.2h0M498.5 395.5h0M498.1 380.0h0M498.5 360.6h0M498.2 379.0h0M498.3 366.4h0M498.2 351.0h0M498.5 356.6h0M498.5 381.3h0M498.5 344.5h0M498.2 382.6h0M498.5 388.2h0M498.2 359.2h0M500.7 349.9h0M500.4 372.5h0M500.6 353.5h0M500.5 380.0h0M500.7 397.3h0M500.5 342.6h0M500.6 377.6h0M500.5 361.9h0M500.6 374.0h0M500.3 391.4h0M500.3 403.7h0M500.5 380.5h0M500.3 347.7h0M500.3 393.1h0M500.3 359.2h0M500.7 343.5h0M500.6 382.1h0M500.6 376.5h0M500.3 364.6h0M500.3 344.3h0M500.5 351.4h0M500.3 394.9h0M500.7 389.9h0M500.3 360.4h0M500.6 402.1h0M500.6 348.1h0M500.5 349.5h0M500.4 397.7h0M500.5 395.2h0M500.6 351.7h0M500.6 340.9h0M500.6 382.5h0M500.4 401.4h0M500.3 345.0h0M500.7 380.0h0M500.4 396.6h0M500.6 370.9h0M500.6 399.3h0M500.4 392.7h0M500.3 362.9h0M500.7 359.2h0M500.4 390.1h0M500.3 365.9h0M500.3 342.9h0M500.4 388.8h0M500.4 384.1h0M500.4 350.9h0M500.3 352.9h0M500.5 392.0h0M500.5 371.1h0M500.7 353.1h0M500.7 372.2h0M500.4 342.9h0M500.3 371.5h0M500.3 345.5h0M500.4 400.3h0M500.6 354.8h0M500.6 395.2h0M500.4 348.5h0M500.7 381.9h0M500.4 396.2h0M500.3 371.1h0M500.4 363.9h0M500.5 397.8h0M500.5 371.1h0M500.7 380.0h0M500.5 402.1h0M500.7 372.1h0M502.6 362.4h0M502.8 375.3h0M502.5 352.1h0M502.8 385.6h0M502.5 341.6h0M502.9 377.7h0M502.7 374.1h0M502.9 361.6h0M502.6 366.6h0M502.5 365.2h0M502.7 374.9h0M502.6 392.8h0M502.9 378.3h0M502.6 342.1h0M502.9 358.7h0M502.9 392.2h0M502.6 385.9h0M502.6 376.7h0M502.9 349.0h0M502.5 396.5h0M502.8 349.5h0M502.5 363.4h0M502.9 376.2h0M502.7 357.3h0M502.7 396.2h0M502.5 389.4h0M502.8 387.5h0M502.6 393.3h0M502.6 388.7h0M502.8 395.5h0M502.6 346.0h0M502.5 391.1h0M502.5 381.7h0M502.5 358.5h0M502.8 368.4h0M502.9 348.8h0M502.5 384.6h0M502.5 348.7h0M502.5 351.6h0M502.5 397.6h0M502.5 349.0h0M502.5 377.4h0M502.8 381.9h0M502.5 394.8h0M502.7 398.8h0M502.7 389.0h0M502.7 396.2h0M502.6 390.4h0M502.7 338.1h0M502.9 364.8h0M502.6 385.5h0M502.9 352.1h0M502.8 346.3h0M502.8 363.4h0M502.5 351.0h0M502.6 376.1h0M502.9 358.6h0M502.5 398.7h0M502.8 370.9h0M502.6 354.1h0M502.5 358.2h0M502.8 349.6h0M502.7 399.7h0M502.9 373.6h0M502.8 339.2h0M504.7 370.3h0M504.8 391.0h0M505.1 351.0h0M504.9 340.2h0M504.9 395.6h0M504.9 384.1h0M505.1 361.2h0M504.8 350.2h0M505.1 373.9h0M504.9 384.7h0M505.1 356.4h0M504.9 350.2h0M504.8 396.0h0M504.8 364.8h0M505.0 378.9h0M504.9 377.7h0M505.1 354.3h0M504.9 370.2h0M505.1 385.3h0M504.9 342.6h0M505.0 376.9h0M504.7 350.4h0M504.9 361.0h0M505.0 365.8h0M504.9 393.9h0M505.0 354.1h0M505.0 375.6h0M504.7 398.4h0M504.8 397.0h0M504.9 378.0h0M505.0 397.9h0M505.1 345.1h0M504.8 394.0h0M504.8 352.0h0M504.8 391.5h0M504.9 384.0h0M504.9 364.3h0M504.9 363.2h0M504.9 354.4h0M505.1 388.2h0M504.8 351.6h0M505.1 349.1h0M504.7 364.4h0M505.1 393.0h0M504.7 402.9h0M505.1 352.3h0M504.7 392.3h0M505.1 390.2h0M504.8 371.2h0M505.1 391.8h0M504.8 356.8h0M505.0 385.0h0M504.9 392.0h0M505.1 354.9h0M504.7 377.4h0M504.8 349.9h0M505.1 367.3h0M505.1 342.4h0M504.7 397.6h0M504.9 366.9h0M504.7 376.0h0M504.9 368.8h0M504.7 393.2h0M507.0 351.3h0M507.0 381.5h0M507.3 401.2h0M507.0 356.9h0M507.3 390.0h0M507.3 380.5h0M507.2 377.7h0M507.3 369.7h0M507.3 376.3h0M507.1 377.2h0M507.0 392.0h0M507.1 377.2h0M507.2 387.6h0M507.0 400.8h0M507.1 356.6h0M507.0 364.1h0M506.9 397.8h0M507.0 365.4h0M507.2 339.8h0M506.9 354.0h0M506.9 379.1h0M507.3 349.5h0M506.9 386.4h0M507.0 342.0h0M506.9 364.0h0M507.1 373.5h0M506.9 341.4h0M506.9 396.0h0M507.2 341.9h0M507.1 388.7h0M507.3 378.7h0M507.2 382.1h0M507.1 338.7h0M507.1 382.8h0M507.2 389.5h0M507.0 388.5h0M507.0 353.9h0M507.2 362.0h0M507.1 338.4h0M507.3 389.1h0M506.9 364.3h0M507.1 391.7h0M507.1 387.7h0M507.0 354.9h0M507.1 391.2h0M506.9 382.2h0M507.3 375.0h0M507.3 373.8h0M507.0 389.9h0M506.9 369.8h0M507.0 396.2h0M506.9 399.8h0M507.3 347.7h0M507.2 392.8h0M507.1 303.5h0M507.3 351.2h0M506.9 359.4h0M507.3 390.6h0M507.0 398.7h0M507.0 392.9h0M506.9 341.6h0M509.1 377.5h0M509.1 370.6h0M509.2 382.5h0M509.2 347.5h0M509.5 392.5h0M509.3 362.4h0M509.1 365.2h0M509.4 370.8h0M509.4 343.8h0M509.5 370.2h0M509.5 367.8h0M509.4 391.2h0M509.1 336.5h0M509.5 346.3h0M509.3 365.3h0M509.4 374.0h0M509.2 388.4h0M509.4 345.7h0M509.1 348.4h0M509.4 346.3h0M509.4 360.1h0M509.1 398.3h0M509.4 369.5h0M509.2 362.7h0M509.2 380.6h0M509.4 340.1h0M509.2 337.6h0M509.3 364.5h0M509.2 342.0h0M509.1 394.9h0M509.3 349.4h0M509.2 374.1h0M509.3 383.0h0M509.3 344.8h0M509.3 375.1h0M509.2 360.2h0M509.1 335.6h0M509.5 384.5h0M509.4 348.1h0M509.3 353.3h0M509.1 361.3h0M509.2 411.3h0M509.5 387.3h0M509.5 378.0h0M509.3 398.3h0M509.2 379.3h0M509.4 337.6h0M509.5 338.4h0M509.4 357.0h0M509.3 343.5h0M509.5 378.5h0M509.5 386.8h0M509.5 381.7h0M509.2 398.9h0M509.3 336.1h0M509.4 390.5h0M509.4 347.5h0M509.5 356.2h0M509.5 374.7h0M511.7 385.9h0M511.3 367.9h0M511.3 393.6h0M511.4 406.8h0M511.4 366.8h0M511.7 345.4h0M511.7 378.2h0M511.7 374.2h0M511.7 366.5h0M511.3 400.4h0M511.7 356.6h0M511.5 353.7h0M511.6 399.7h0M511.3 381.3h0M511.5 347.7h0M511.5 396.8h0M511.6 335.7h0M511.3 348.4h0M511.4 379.6h0M511.3 344.3h0M511.4 336.2h0M511.3 359.1h0M511.7 392.0h0M511.6 353.9h0M511.7 391.8h0M511.5 363.3h0M511.5 366.2h0M511.3 393.1h0M511.5 362.0h0M511.7 396.6h0M511.6 388.9h0M511.6 361.9h0M511.4 380.2h0M511.5 372.7h0M511.4 361.9h0M511.5 394.0h0M511.6 340.8h0M511.5 340.5h0M511.6 383.2h0M511.4 390.9h0M511.4 389.8h0M511.7 336.6h0M511.5 373.2h0M511.7 337.9h0M511.5 392.2h0M511.5 351.8h0M511.3 384.7h0M511.4 338.6h0M511.7 375.1h0M511.3 356.4h0M511.4 394.9h0M511.3 333.3h0M511.6 355.8h0M511.7 380.2h0M511.6 391.1h0M511.5 346.4h0M511.3 376.6h0M513.8 362.4h0M513.8 332.5h0M513.7 356.6h0M513.5 354.0h0M513.9 371.0h0M513.5 387.9h0M513.7 359.2h0M513.7 354.6h0M513.7 347.5h0M513.6 382.2h0M513.7 396.5h0M513.5 389.5h0M513.8 381.7h0M513.9 389.2h0M513.7 365.0h0M513.8 371.0h0M513.6 341.4h0M513.5 349.3h0M513.5 336.8h0M513.9 396.8h0M513.5 385.9h0M513.8 392.6h0M513.7 355.0h0M513.5 380.7h0M513.5 389.0h0M513.5 355.4h0M513.7 366.0h0M513.7 396.2h0M513.6 376.1h0M513.8 348.4h0M513.8 358.4h0M513.9 336.9h0M513.7 332.1h0M513.8 348.1h0M513.8 383.1h0M513.7 369.4h0M513.5 344.7h0M513.6 396.1h0M513.8 345.3h0M513.6 352.4h0M513.6 388.0h0M513.5 371.8h0M513.9 390.0h0M513.9 337.1h0M513.8 386.5h0M513.6 351.8h0M513.9 385.2h0M513.6 390.1h0M513.6 362.9h0M513.8 392.3h0M513.6 369.9h0M513.7 387.9h0M513.9 378.7h0M513.7 335.1h0M513.8 345.0h0M515.9 362.2h0M515.8 338.5h0M515.9 373.1h0M515.8 375.1h0M515.9 371.8h0M515.7 333.6h0M515.8 372.3h0M516.0 332.5h0M515.8 349.7h0M516.0 377.8h0M515.9 333.4h0M515.8 348.1h0M515.7 348.1h0M515.7 338.4h0M516.1 397.5h0M516.0 338.8h0M515.8 354.7h0M516.1 347.1h0M515.8 353.3h0M515.8 365.0h0M515.9 339.1h0M515.9 369.3h0M515.9 397.5h0M516.1 368.5h0M515.9 376.6h0M515.7 370.5h0M515.9 351.4h0M516.0 395.6h0M515.9 378.4h0M516.0 338.6h0M515.8 379.6h0M515.7 338.8h0M515.9 343.0h0M516.0 383.4h0M516.1 353.5h0M515.7 364.5h0M515.8 370.0h0M515.9 333.5h0M515.9 394.0h0M515.9 336.7h0M516.0 365.3h0M515.9 367.2h0M515.8 369.5h0M515.9 346.0h0M516.1 381.1h0M516.0 393.0h0M515.7 345.8h0M516.1 381.5h0M515.7 342.7h0M515.9 372.0h0M516.1 363.3h0M516.0 355.4h0M515.7 394.3h0M515.7 394.7h0M518.0 331.0h0M518.1 335.4h0M518.1 389.6h0M517.9 363.7h0M518.3 372.8h0M518.0 380.0h0M518.3 350.7h0M517.9 371.0h0M517.9 363.1h0M518.3 355.6h0M518.2 353.8h0M518.0 387.3h0M518.0 374.2h0M518.1 350.2h0M517.9 386.9h0M518.3 348.0h0M518.3 348.9h0M518.2 364.2h0M518.0 372.9h0M517.9 356.8h0M517.9 391.2h0M518.1 390.9h0M518.1 393.5h0M518.3 387.8h0M518.3 386.5h0M518.2 334.1h0M518.3 364.6h0M518.3 363.5h0M517.9 398.2h0M517.9 385.9h0M518.3 337.3h0M517.9 344.7h0M518.0 331.5h0M518.1 396.4h0M518.1 396.2h0M518.1 338.6h0M518.2 337.6h0M518.3 394.6h0M518.3 356.5h0M518.2 352.2h0M518.1 361.2h0M518.1 342.9h0M518.2 390.4h0M518.0 343.4h0M518.1 354.8h0M518.1 392.4h0M518.0 352.6h0M518.1 350.9h0M518.3 353.6h0M518.3 345.3h0M518.0 341.0h0M518.3 378.4h0M520.2 345.9h0M520.2 370.3h0M520.2 369.4h0M520.1 377.4h0M520.2 359.9h0M520.4 387.8h0M520.1 365.6h0M520.2 382.0h0M520.2 390.1h0M520.4 350.6h0M520.4 378.6h0M520.2 366.6h0M520.1 328.6h0M520.1 356.2h0M520.1 397.9h0M520.3 357.1h0M520.1 360.9h0M520.4 392.2h0M520.5 368.7h0M520.3 367.0h0M520.4 392.6h0M520.3 359.6h0M520.4 360.8h0M520.3 335.2h0M520.4 348.4h0M520.3 386.4h0M520.5 357.4h0M520.1 369.0h0M520.3 328.7h0M520.3 334.8h0M520.4 380.0h0M520.1 357.8h0M520.1 370.5h0M520.3 369.6h0M520.3 342.7h0M520.4 353.1h0M520.3 341.5h0M520.4 354.2h0M520.1 380.5h0M520.5 358.0h0M520.1 350.3h0M520.1 336.1h0M520.3 365.5h0M520.2 346.8h0M520.5 357.6h0M520.3 380.9h0M520.1 363.8h0M520.3 332.9h0M520.1 361.7h0M520.1 334.6h0M522.6 392.5h0M522.6 353.6h0M522.5 358.1h0M522.4 368.6h0M522.6 378.1h0M522.7 372.0h0M522.5 385.2h0M522.3 347.6h0M522.4 333.4h0M522.6 342.7h0M522.6 377.8h0M522.3 355.3h0M522.3 354.6h0M522.4 395.1h0M522.3 332.5h0M522.7 397.1h0M522.5 352.6h0M522.3 386.4h0M522.6 392.1h0M522.3 354.5h0M522.7 388.8h0M522.4 362.8h0M522.6 356.9h0M522.6 369.5h0M522.7 398.3h0M522.6 337.9h0M522.6 395.1h0M522.5 369.9h0M522.3 330.3h0M522.6 335.2h0M522.5 391.2h0M522.7 333.5h0M522.3 347.6h0M522.7 370.4h0M522.6 383.8h0M522.5 355.5h0M522.5 353.3h0M522.7 345.1h0M522.3 391.9h0M522.4 373.4h0M522.4 373.9h0M522.3 329.0h0M522.3 361.7h0M522.4 364.9h0M522.3 383.6h0M522.4 383.5h0M522.3 390.9h0M522.4 391.7h0M522.5 358.4h0M524.8 336.9h0M524.8 369.1h0M524.6 391.2h0M524.9 384.7h0M524.8 377.2h0M524.8 382.1h0M524.8 386.9h0M524.9 337.7h0M524.9 366.8h0M524.6 343.9h0M524.7 351.2h0M524.5 351.9h0M524.8 324.5h0M524.8 355.5h0M524.6 388.7h0M524.5 354.2h0M524.7 391.4h0M524.9 374.8h0M524.8 392.1h0M524.8 367.0h0M524.7 394.4h0M524.7 347.9h0M524.5 337.5h0M524.7 363.1h0M524.5 358.4h0M524.9 380.2h0M524.7 392.2h0M524.5 343.5h0M524.7 381.6h0M524.9 387.8h0M524.5 362.4h0M524.8 332.1h0M524.5 367.9h0M524.6 384.9h0M524.6 369.2h0M524.8 341.5h0M524.8 339.6h0M524.5 378.8h0M524.7 366.7h0M524.6 397.8h0M524.7 375.4h0M524.9 382.7h0M524.5 394.3h0M524.8 337.2h0M524.6 374.9h0M524.7 339.2h0M524.9 361.1h0M527.1 341.3h0M526.7 374.4h0M527.0 360.2h0M526.7 390.7h0M527.0 333.1h0M527.0 341.4h0M526.8 346.1h0M527.1 384.8h0M527.1 362.9h0M526.9 374.3h0M527.1 380.8h0M527.0 354.6h0M526.7 350.5h0M526.9 388.6h0M526.7 356.8h0M526.8 329.3h0M526.9 382.7h0M526.9 367.6h0M526.9 346.2h0M527.1 363.8h0M526.7 375.4h0M526.8 346.0h0M526.9 335.6h0M526.8 351.7h0M526.9 369.4h0M526.7 337.8h0M526.8 339.7h0M526.9 391.0h0M526.8 335.2h0M526.9 395.9h0M526.7 344.4h0M527.1 350.6h0M527.1 376.3h0M527.0 341.5h0M527.1 339.9h0M526.7 389.1h0M526.7 353.6h0M527.1 364.4h0M526.7 350.2h0M527.0 334.7h0M526.9 392.8h0M526.8 343.7h0M526.9 327.2h0M527.0 353.8h0M527.0 329.6h0M527.0 373.6h0M529.2 340.4h0M529.2 362.6h0M529.3 336.8h0M529.1 335.3h0M529.2 354.0h0M529.1 328.9h0M529.2 343.9h0M529.3 392.0h0M529.3 382.0h0M529.3 391.1h0M529.1 349.2h0M528.9 360.7h0M528.9 395.3h0M529.1 374.9h0M528.9 337.5h0M529.3 360.0h0M529.2 339.4h0M529.0 384.9h0M529.1 387.6h0M529.1 325.9h0M528.9 349.3h0M529.3 370.5h0M529.0 368.5h0M529.0 340.1h0M528.9 362.4h0M529.0 362.0h0M528.9 339.4h0M529.1 333.8h0M529.1 387.5h0M529.1 330.6h0M528.9 362.1h0M529.0 351.4h0M529.2 390.4h0M529.2 381.1h0M528.9 390.5h0M529.2 381.0h0M529.0 391.2h0M528.9 383.1h0M529.2 336.9h0M528.9 382.0h0M529.0 386.2h0M529.2 381.9h0M529.3 366.2h0M528.9 390.8h0M531.1 377.2h0M531.2 369.2h0M531.3 344.7h0M531.3 336.7h0M531.1 334.4h0M531.3 368.2h0M531.2 335.2h0M531.4 384.8h0M531.1 366.5h0M531.2 372.9h0M531.3 379.2h0M531.5 391.8h0M531.3 342.7h0M531.3 370.0h0M531.3 327.7h0M531.3 347.7h0M531.3 388.7h0M531.1 328.8h0M531.1 352.7h0M531.2 353.5h0M531.1 386.9h0M531.2 348.8h0M531.5 359.4h0M531.4 368.7h0M531.3 374.0h0M531.5 340.7h0M531.5 352.2h0M531.1 364.5h0M531.3 381.0h0M531.3 357.2h0M531.3 411.6h0M531.1 392.7h0M531.4 390.7h0M531.1 377.8h0M531.3 393.2h0M531.5 336.2h0M531.3 385.2h0M531.4 374.5h0M531.4 369.8h0M531.2 374.6h0M531.5 383.6h0M531.2 367.8h0M531.5 378.2h0M533.7 345.6h0M533.7 331.7h0M533.5 382.4h0M533.7 343.1h0M533.4 328.1h0M533.7 365.0h0M533.5 360.5h0M533.7 363.4h0M533.7 394.1h0M533.6 374.8h0M533.4 377.6h0M533.4 335.4h0M533.3 332.2h0M533.3 362.7h0M533.6 350.5h0M533.5 387.6h0M533.5 387.3h0M533.4 393.2h0M533.3 351.6h0M533.6 385.7h0M533.6 341.8h0M533.3 329.2h0M533.5 326.3h0M533.6 373.3h0M533.3 329.6h0M533.6 359.6h0M533.7 384.2h0M533.7 377.3h0M533.4 332.9h0M533.6 325.5h0M533.7 329.0h0M533.6 388.4h0M533.7 378.7h0M533.6 338.5h0M533.4 357.1h0M533.3 344.5h0M533.7 382.6h0M533.6 337.2h0M533.5 343.6h0M533.3 352.3h0M533.6 346.6h0M533.5 326.3h0M535.6 368.1h0M535.8 332.3h0M535.8 376.7h0M535.5 377.3h0M535.6 324.1h0M535.7 369.8h0M535.5 373.5h0M535.8 359.0h0M535.8 383.2h0M535.7 338.4h0M535.7 369.6h0M535.6 392.7h0M535.7 364.7h0M535.7 381.8h0M535.6 332.6h0M535.8 324.1h0M535.9 323.6h0M535.5 333.5h0M535.9 391.6h0M535.8 336.1h0M535.9 372.4h0M535.8 347.5h0M535.8 335.4h0M535.5 348.8h0M535.9 378.3h0M535.7 379.3h0M535.7 325.2h0M535.9 368.0h0M535.9 362.5h0M535.6 352.9h0M535.7 363.4h0M535.6 385.5h0M535.9 379.1h0M535.6 356.0h0M535.8 324.3h0M535.7 378.6h0M535.9 359.9h0M535.5 392.0h0M535.5 350.1h0M535.9 375.2h0M535.6 343.3h0M537.7 380.1h0M537.9 374.1h0M537.7 367.3h0M538.0 362.2h0M538.0 390.1h0M537.7 352.5h0M537.9 373.4h0M537.8 387.7h0M538.0 344.3h0M537.8 376.5h0M538.0 365.9h0M538.1 363.6h0M538.1 339.4h0M537.7 348.4h0M537.7 334.0h0M537.9 346.2h0M537.7 340.5h0M538.1 352.5h0M537.7 356.2h0M537.8 324.6h0M537.9 357.6h0M537.8 329.2h0M537.9 388.2h0M538.0 359.6h0M537.7 347.1h0M537.9 338.2h0M537.9 342.9h0M538.0 362.8h0M538.1 348.3h0M538.1 361.2h0M538.0 334.0h0M538.1 352.9h0M538.1 378.5h0M538.1 381.5h0M537.9 339.4h0M537.9 386.7h0M537.9 333.5h0M537.7 349.6h0M537.7 349.0h0M540.0 361.8h0M540.2 352.1h0M539.9 341.3h0M540.3 327.5h0M539.9 335.4h0M540.3 353.4h0M540.0 339.4h0M539.9 353.4h0M539.9 356.8h0M540.0 331.0h0M540.0 382.7h0M540.3 384.5h0M539.9 374.8h0M540.3 379.2h0M540.2 327.7h0M539.9 352.4h0M539.9 363.5h0M540.1 378.4h0M540.1 330.7h0M540.1 347.1h0M540.1 358.2h0M540.3 386.2h0M540.3 361.8h0M540.2 367.0h0M540.3 372.2h0M540.3 364.0h0M539.9 379.6h0M540.0 352.3h0M540.3 322.6h0M539.9 326.2h0M540.1 342.6h0M540.0 359.5h0M540.3 380.9h0M540.1 363.4h0M540.2 346.0h0M540.3 366.1h0M539.9 385.4h0M539.9 357.7h0M542.5 324.8h0M542.4 330.2h0M542.4 325.2h0M542.5 347.9h0M542.3 371.2h0M542.5 321.8h0M542.1 335.1h0M542.3 360.7h0M542.1 383.2h0M542.2 330.2h0M542.3 323.1h0M542.5 363.6h0M542.3 319.8h0M542.1 368.1h0M542.1 335.0h0M542.1 324.2h0M542.2 349.2h0M542.2 332.4h0M542.4 332.7h0M542.1 378.9h0M542.1 322.5h0M542.3 346.8h0M542.4 401.6h0M542.1 324.3h0M542.3 338.1h0M542.3 359.7h0M542.3 383.1h0M542.2 327.6h0M542.4 368.0h0M542.3 346.1h0M542.2 326.9h0M542.1 369.3h0M542.1 323.3h0M542.4 361.4h0M542.1 385.2h0M542.5 338.8h0M542.3 328.2h0M544.6 329.0h0M544.7 375.6h0M544.6 382.2h0M544.6 343.6h0M544.6 378.0h0M544.6 384.0h0M544.6 346.7h0M544.3 332.1h0M544.6 346.1h0M544.7 336.4h0M544.6 366.8h0M544.5 333.6h0M544.4 336.5h0M544.5 342.2h0M544.4 370.1h0M544.5 382.8h0M544.5 364.8h0M544.5 331.6h0M544.6 363.5h0M544.5 372.6h0M544.4 327.8h0M544.6 369.3h0M544.6 338.1h0M544.7 368.4h0M544.3 337.4h0M544.5 372.7h0M544.3 346.4h0M544.6 360.2h0M544.5 304.8h0M544.7 324.1h0M544.6 350.5h0M544.4 370.2h0M544.4 372.8h0M544.4 323.8h0M544.6 379.8h0M544.6 325.0h0M546.5 370.2h0M546.7 345.4h0M546.7 318.5h0M546.9 320.0h0M546.5 346.4h0M546.7 386.1h0M546.5 372.7h0M546.8 329.0h0M546.5 361.2h0M546.7 327.3h0M546.7 358.8h0M546.9 359.5h0M546.5 381.3h0M546.6 338.2h0M546.6 358.4h0M546.8 339.7h0M546.8 348.6h0M546.7 341.9h0M546.8 364.8h0M546.8 375.1h0M546.5 381.8h0M546.7 366.0h0M546.9 322.1h0M546.5 353.4h0M546.7 356.1h0M546.6 356.9h0M546.9 293.8h0M546.6 357.6h0M546.7 316.8h0M546.5 354.7h0M546.5 352.9h0M546.9 380.4h0M546.9 315.1h0M546.5 334.7h0M546.9 374.9h0M549.0 357.9h0M549.1 360.8h0M548.8 369.0h0M548.9 380.2h0M549.1 334.2h0M548.8 365.9h0M549.0 321.7h0M548.7 319.2h0M549.0 364.6h0M549.0 344.0h0M548.9 375.1h0M549.1 381.0h0M548.8 325.4h0M548.8 349.9h0M549.0 305.5h0M548.8 336.4h0M549.0 350.1h0M548.7 343.0h0M548.7 345.6h0M548.9 366.8h0M548.8 333.7h0M548.8 338.0h0M548.7 342.8h0M549.0 328.6h0M549.1 330.0h0M549.1 356.5h0M549.0 351.8h0M548.9 341.4h0M549.0 342.6h0M548.8 356.2h0M548.7 368.6h0M548.7 346.0h0M549.1 383.0h0M549.0 322.3h0M551.0 342.2h0M550.9 347.5h0M551.3 344.0h0M551.0 331.7h0M550.9 357.6h0M551.0 316.5h0M551.1 326.7h0M551.0 364.8h0M551.0 347.5h0M551.1 305.2h0M551.1 365.8h0M551.3 322.7h0M551.1 366.7h0M551.2 319.7h0M551.1 335.5h0M551.2 367.8h0M551.2 332.5h0M551.1 369.4h0M550.9 351.4h0M551.0 344.2h0M551.0 316.7h0M551.2 339.3h0M550.9 342.4h0M551.2 375.2h0M551.3 357.9h0M551.1 359.8h0M550.9 380.3h0M551.2 372.7h0M551.1 333.1h0M551.3 345.1h0M551.1 361.9h0M551.0 351.2h0M551.3 343.3h0M553.3 337.0h0M553.4 339.8h0M553.2 342.9h0M553.2 320.1h0M553.3 357.6h0M553.1 375.5h0M553.3 347.6h0M553.3 337.5h0M553.5 312.7h0M553.5 335.8h0M553.3 358.3h0M553.5 319.5h0M553.2 351.9h0M553.1 326.8h0M553.5 349.5h0M553.1 347.9h0M553.1 323.7h0M553.1 363.5h0M553.3 328.9h0M553.1 375.7h0M553.1 365.8h0M553.4 337.6h0M553.1 354.6h0M553.4 360.8h0M553.4 314.5h0M553.3 359.5h0M553.3 318.9h0M553.5 371.5h0M553.4 369.7h0M553.5 374.8h0M553.2 362.7h0M553.2 373.8h0M555.4 354.5h0M555.6 358.8h0M555.3 328.4h0M555.7 312.4h0M555.4 331.2h0M555.4 364.3h0M555.5 372.8h0M555.5 344.1h0M555.7 336.4h0M555.4 351.7h0M555.7 368.0h0M555.5 351.6h0M555.7 330.4h0M555.5 315.8h0M555.6 313.2h0M555.7 336.5h0M555.6 341.1h0M555.5 365.7h0M555.4 356.0h0M555.4 369.5h0M555.5 321.5h0M555.3 364.8h0M555.4 319.5h0M555.7 313.4h0M555.6 339.1h0M555.6 351.2h0M555.7 338.8h0M555.6 334.2h0M555.7 336.5h0M555.5 349.4h0M555.3 363.2h0M555.4 326.3h0M557.5 331.7h0M557.6 339.5h0M557.6 351.5h0M557.8 355.9h0M557.5 317.0h0M557.8 332.7h0M557.6 329.9h0M557.7 327.7h0M557.6 337.9h0M557.7 359.5h0M557.8 317.3h0M557.5 329.0h0M557.9 366.5h0M557.8 326.9h0M557.6 364.2h0M557.8 329.6h0M557.6 333.8h0M557.9 369.1h0M557.5 348.2h0M557.5 354.1h0M557.5 361.0h0M557.9 340.8h0M557.5 318.9h0M557.8 313.3h0M557.6 365.6h0M557.9 366.3h0M557.7 319.3h0M557.7 327.4h0M557.8 345.8h0M557.5 357.2h0M557.8 326.4h0M559.8 358.7h0M559.8 316.9h0M559.9 335.3h0M559.8 333.4h0M559.8 338.1h0M560.1 338.7h0M560.0 315.9h0M560.1 317.3h0M560.1 309.3h0M559.8 337.1h0M559.9 341.7h0M559.8 313.2h0M560.1 346.5h0M559.8 340.3h0M560.0 330.7h0M559.8 330.1h0M560.0 366.5h0M559.9 317.7h0M559.8 330.6h0M560.0 355.3h0M559.8 341.5h0M560.1 364.4h0M560.1 324.8h0M559.8 354.5h0M559.8 324.2h0M559.8 325.7h0M560.1 358.4h0M560.0 341.1h0M560.1 319.0h0M560.1 330.1h0M562.2 364.9h0M562.3 334.5h0M561.9 326.4h0M562.3 322.3h0M562.3 352.5h0M562.1 346.3h0M561.9 328.7h0M562.2 336.7h0M562.0 364.6h0M562.2 364.4h0M562.1 349.7h0M562.2 365.5h0M562.2 335.3h0M562.2 347.3h0M562.1 333.7h0M562.2 337.3h0M562.1 359.1h0M562.0 361.0h0M562.3 308.8h0M562.2 363.8h0M561.9 357.3h0M562.0 321.9h0M562.0 329.5h0M562.2 356.0h0M562.0 317.8h0M562.2 333.6h0M562.2 369.5h0M562.1 309.0h0M562.0 336.2h0M564.3 340.0h0M564.4 331.9h0M564.3 346.2h0M564.3 326.4h0M564.3 332.3h0M564.1 307.6h0M564.1 312.2h0M564.5 347.6h0M564.3 316.2h0M564.1 318.9h0M564.4 353.0h0M564.2 337.0h0M564.2 354.7h0M564.1 360.3h0M564.3 313.3h0M564.1 350.4h0M564.3 369.2h0M564.5 357.9h0M564.4 310.4h0M564.1 317.4h0M564.5 353.5h0M564.4 346.9h0M564.3 317.8h0M564.5 326.1h0M564.5 350.4h0M564.1 361.8h0M564.2 355.9h0M564.5 316.8h0M566.4 353.8h0M566.6 368.3h0M566.3 309.8h0M566.3 319.6h0M566.7 321.0h0M566.7 313.6h0M566.5 327.4h0M566.7 323.1h0M566.6 359.3h0M566.3 328.1h0M566.6 327.0h0M566.6 315.5h0M566.5 327.3h0M566.3 315.1h0M566.6 310.4h0M566.3 330.2h0M566.4 322.4h0M566.6 339.5h0M566.5 364.3h0M566.6 313.0h0M566.3 330.8h0M566.7 363.0h0M566.4 306.5h0M566.4 347.6h0M566.3 335.1h0M566.7 365.3h0M566.5 350.1h0M566.3 324.4h0M568.5 332.6h0M568.9 310.7h0M568.6 309.6h0M568.5 362.7h0M568.6 348.4h0M568.8 313.4h0M568.5 320.1h0M568.6 345.0h0M568.5 349.3h0M568.6 353.9h0M568.8 322.9h0M568.5 304.8h0M568.9 341.3h0M568.8 306.9h0M568.8 324.2h0M568.5 320.7h0M568.6 309.6h0M568.8 338.3h0M568.7 332.1h0M568.9 313.1h0M568.8 321.1h0M568.7 354.5h0M568.8 355.2h0M568.5 336.2h0M568.8 350.1h0M568.7 361.7h0M568.8 319.0h0M570.9 360.0h0M570.8 335.7h0M570.8 320.8h0M570.7 330.2h0M571.1 352.1h0M570.7 330.1h0M570.9 339.5h0M571.0 361.1h0M571.0 346.9h0M570.9 321.4h0M571.1 337.5h0M571.1 355.8h0M571.1 344.1h0M571.1 322.1h0M570.7 305.6h0M570.9 317.0h0M570.8 318.1h0M570.7 341.7h0M570.8 343.4h0M571.0 341.7h0M570.7 308.3h0M571.0 319.4h0M570.9 307.0h0M570.8 353.5h0M571.0 345.6h0M570.9 317.6h0M573.2 330.6h0M573.0 355.3h0M573.3 304.2h0M573.2 345.3h0M572.9 350.0h0M573.1 320.0h0M573.3 356.5h0M573.3 306.9h0M573.3 356.1h0M573.2 345.5h0M573.2 331.5h0M573.3 351.9h0M573.0 343.6h0M573.2 317.9h0M572.9 315.8h0M573.2 319.5h0M573.2 347.1h0M573.3 305.2h0M573.2 357.0h0M573.1 353.2h0M573.0 333.3h0M573.3 320.1h0M573.2 314.3h0M572.9 327.6h0M572.9 305.5h0M573.0 356.6h0M575.3 344.6h0M575.5 325.5h0M575.2 338.4h0M575.2 338.6h0M575.5 303.8h0M575.5 335.3h0M575.5 330.7h0M575.2 346.2h0M575.5 331.3h0M575.3 331.1h0M575.4 329.2h0M575.2 355.2h0M575.1 333.1h0M575.5 314.0h0M575.4 354.9h0M575.4 330.0h0M575.4 327.6h0M575.3 315.9h0M575.4 303.6h0M575.1 311.7h0M575.2 350.7h0M575.5 343.9h0M575.5 353.0h0M575.4 345.3h0M575.1 349.0h0M577.3 342.7h0M577.4 282.1h0M577.5 338.6h0M577.5 349.3h0M577.3 351.2h0M577.6 321.2h0M577.5 320.9h0M577.4 323.0h0M577.5 307.4h0M577.3 310.2h0M577.4 319.0h0M577.4 319.8h0M577.4 317.6h0M577.3 338.9h0M577.7 339.4h0M577.6 339.0h0M577.6 336.8h0M577.4 323.1h0M577.6 353.0h0M577.4 349.9h0M577.3 325.4h0M577.4 319.6h0M577.7 322.9h0M577.3 342.5h0M577.6 314.3h0M579.7 340.3h0M579.5 345.7h0M579.8 323.2h0M579.9 329.8h0M579.5 309.4h0M579.8 324.4h0M579.9 338.7h0M579.5 314.2h0M579.5 329.4h0M579.8 311.4h0M579.5 304.0h0M579.7 336.9h0M579.5 333.9h0M579.6 302.1h0M579.6 324.3h0M579.9 307.3h0M579.8 310.5h0M579.6 337.2h0M579.5 317.7h0M579.7 320.9h0M579.5 324.5h0M579.6 314.5h0M579.6 343.7h0M579.8 348.0h0M582.0 316.5h0M582.0 347.5h0M582.0 347.3h0M581.9 347.6h0M582.0 348.4h0M581.9 324.6h0M581.9 302.2h0M581.8 328.4h0M581.8 313.8h0M581.9 344.5h0M581.9 311.6h0M582.1 348.8h0M582.0 307.2h0M581.9 307.2h0M581.9 325.5h0M582.1 341.7h0M581.8 320.8h0M581.8 328.4h0M582.1 347.1h0M582.0 305.6h0M581.9 302.8h0M581.8 302.4h0M581.8 333.9h0M582.0 321.1h0M584.2 332.6h0M584.3 301.3h0M583.9 308.9h0M584.1 326.0h0M584.3 338.3h0M584.2 308.7h0M584.0 320.4h0M583.9 345.3h0M584.0 316.9h0M583.9 337.5h0M584.1 331.2h0M584.0 332.4h0M584.1 334.1h0M584.2 333.4h0M583.9 328.1h0M584.1 311.1h0M583.9 310.4h0M584.0 315.5h0M584.2 319.0h0M584.3 328.7h0M584.1 343.2h0M584.2 328.1h0M583.9 306.1h0M586.1 316.1h0M586.4 321.9h0M586.4 313.5h0M586.2 335.5h0M586.3 308.8h0M586.2 327.3h0M586.3 306.6h0M586.3 317.6h0M586.1 323.2h0M586.2 323.6h0M586.2 336.7h0M586.5 341.8h0M586.4 341.0h0M586.4 341.8h0M586.4 309.2h0M586.4 342.1h0M586.4 332.4h0M586.3 300.8h0M586.5 312.4h0M586.4 324.4h0M586.1 300.5h0M586.2 337.5h0M586.3 310.6h0M588.6 334.4h0M588.4 301.4h0M588.7 330.5h0M588.6 322.4h0M588.7 323.0h0M588.5 330.6h0M588.7 305.8h0M588.4 317.1h0M588.7 315.3h0M588.5 311.3h0M588.6 330.7h0M588.3 299.5h0M588.7 304.6h0M588.7 313.4h0M588.7 311.7h0M588.4 325.2h0M588.6 302.8h0M588.3 338.6h0M588.3 327.0h0M588.4 300.3h0M588.4 324.8h0M588.4 310.6h0M590.6 298.6h0M590.5 333.3h0M590.6 308.3h0M590.5 328.0h0M590.5 330.1h0M590.7 298.6h0M590.6 305.3h0M590.6 299.1h0M590.8 325.8h0M590.8 329.7h0M590.6 320.8h0M590.7 301.8h0M590.9 322.1h0M590.6 328.3h0M590.7 317.0h0M590.5 313.4h0M590.5 331.0h0M590.8 308.9h0M590.5 321.2h0M590.8 305.3h0M590.5 306.9h0M590.7 303.4h0M592.7 325.5h0M592.9 317.3h0M592.7 295.8h0M592.9 328.7h0M593.1 303.4h0M593.1 324.2h0M592.9 324.4h0M593.0 324.6h0M592.9 314.2h0M592.7 321.9h0M593.1 321.5h0M592.8 310.7h0M592.7 317.7h0M592.7 295.3h0M592.7 309.5h0M593.0 317.8h0M593.0 317.9h0M592.8 302.6h0M593.0 298.9h0M592.7 319.0h0M592.8 323.8h0M595.1 305.9h0M594.9 325.9h0M594.9 319.8h0M595.1 305.6h0M595.0 314.4h0M594.9 311.2h0M594.9 325.7h0M595.0 321.9h0M594.9 313.2h0M595.2 325.0h0M594.9 325.5h0M595.2 313.7h0M594.9 309.5h0M595.1 295.9h0M595.1 313.0h0M595.3 320.5h0M595.1 317.5h0M595.0 296.7h0M594.9 300.2h0M595.3 325.8h0M594.9 304.6h0M597.3 317.3h0M597.1 315.3h0M597.4 304.0h0M597.5 312.2h0M597.2 298.6h0M597.5 314.9h0M597.2 308.6h0M597.5 303.8h0M597.2 322.1h0M597.1 300.4h0M597.1 304.5h0M597.5 298.7h0M597.4 323.9h0M597.4 300.9h0M597.3 308.6h0M597.2 311.4h0M597.1 318.3h0M597.5 309.8h0M597.3 320.5h0M597.1 299.3h0M599.7 317.2h0M599.4 293.4h0M599.4 307.0h0M599.5 311.9h0M599.6 299.3h0M599.5 312.3h0M599.6 309.1h0M599.7 306.8h0M599.3 318.1h0M599.6 293.9h0M599.7 293.2h0M599.6 322.9h0M599.5 312.9h0M599.3 313.1h0M599.7 298.5h0M599.4 292.4h0M599.3 305.1h0M599.6 305.4h0M599.6 309.6h0M599.4 315.5h0M601.9 297.0h0M601.9 319.7h0M601.8 292.9h0M601.9 295.7h0M601.5 322.7h0M601.8 302.5h0M601.9 306.3h0M601.5 313.2h0M601.9 313.2h0M601.5 306.9h0M601.7 307.1h0M601.7 305.2h0M601.6 307.0h0M601.6 310.7h0M601.7 303.4h0M601.6 300.5h0M601.7 305.5h0M601.6 320.2h0M601.8 301.4h0M601.6 296.5h0M603.7 315.8h0M603.9 320.3h0M603.7 309.7h0M603.9 312.0h0M604.0 315.3h0M603.8 307.5h0M604.1 309.6h0M603.9 305.9h0M604.1 316.5h0M604.1 315.3h0M603.8 309.0h0M603.9 317.5h0M604.1 303.1h0M604.0 302.4h0M603.7 316.6h0M603.8 311.5h0M603.9 316.3h0M604.1 303.5h0M604.0 304.6h0M606.1 296.3h0M605.9 312.2h0M606.1 306.9h0M606.1 295.2h0M606.2 292.3h0M606.2 316.6h0M606.1 297.6h0M606.1 308.1h0M606.3 313.4h0M606.1 292.1h0M606.0 303.4h0M605.9 301.9h0M606.3 293.9h0M606.1 310.9h0M606.0 295.6h0M606.1 311.4h0M606.0 308.2h0M606.1 304.5h0M605.9 319.3h0M608.4 301.9h0M608.5 300.8h0M608.5 302.8h0M608.3 305.7h0M608.1 309.6h0M608.4 314.6h0M608.4 313.9h0M608.1 295.0h0M608.1 313.4h0M608.1 294.1h0M608.2 297.5h0M608.5 315.9h0M608.3 303.9h0M608.5 304.5h0M608.5 308.1h0M608.1 293.2h0M608.2 304.1h0M608.5 302.1h0M608.2 293.6h0M610.6 305.5h0M610.7 306.5h0M610.3 309.3h0M610.6 302.0h0M610.4 301.7h0M610.3 315.9h0M610.3 313.2h0M610.6 312.6h0M610.5 289.0h0M610.3 296.3h0M610.4 294.9h0M610.5 297.0h0M610.6 292.1h0M610.5 304.6h0M610.3 293.3h0M610.7 292.5h0M610.7 306.6h0M610.6 304.9h0M612.5 290.9h0M612.7 301.9h0M612.5 299.1h0M612.8 292.5h0M612.5 298.0h0M612.7 291.3h0M612.9 293.3h0M612.7 300.4h0M612.8 296.3h0M612.9 304.0h0M612.5 307.8h0M612.6 310.2h0M612.8 292.1h0M612.8 309.5h0M612.9 306.6h0M612.7 297.2h0M612.8 306.9h0M612.5 299.1h0M614.8 301.0h0M614.8 305.3h0M614.9 307.3h0M614.7 309.3h0M615.1 307.8h0M614.8 291.9h0M614.7 291.9h0M615.1 303.6h0M614.9 289.4h0M615.0 303.9h0M615.1 296.8h0M615.1 309.1h0M614.9 303.6h0M615.1 313.7h0M614.7 305.6h0M614.8 295.3h0M614.9 288.3h0M615.0 304.7h0M617.3 305.9h0M617.3 302.1h0M617.0 292.7h0M616.9 305.0h0M617.3 301.1h0M616.9 306.4h0M616.9 305.0h0M617.0 286.4h0M617.2 294.7h0M616.9 296.1h0M616.9 299.6h0M617.3 286.5h0M617.2 305.4h0M617.1 306.8h0M616.9 298.8h0M617.0 292.3h0M617.1 288.9h0M619.5 305.2h0M619.4 287.1h0M619.3 296.2h0M619.5 307.1h0M619.2 300.0h0M619.4 310.0h0M619.5 301.0h0M619.2 303.3h0M619.3 290.5h0M619.1 289.5h0M619.2 294.7h0M619.3 286.5h0M619.4 288.1h0M619.2 299.6h0M619.3 286.5h0M619.3 307.1h0M619.5 308.3h0M621.3 307.4h0M621.6 288.7h0M621.6 284.7h0M621.3 285.8h0M621.5 303.9h0M621.3 307.4h0M621.3 285.4h0M621.4 289.2h0M621.4 302.6h0M621.3 292.2h0M621.6 298.2h0M621.6 309.9h0M621.3 285.6h0M621.3 289.1h0M621.3 294.1h0M621.7 296.8h0M621.6 299.2h0M623.9 294.5h0M623.7 295.4h0M623.6 292.5h0M623.7 284.6h0M623.5 294.4h0M623.8 283.4h0M623.9 293.7h0M623.7 307.2h0M623.8 299.3h0M623.8 302.2h0M623.7 289.2h0M623.5 300.0h0M623.7 282.5h0M623.6 301.0h0M623.9 301.7h0M623.5 299.2h0M623.6 309.0h0M625.9 305.8h0M626.1 283.4h0M625.7 283.8h0M626.0 306.6h0M625.9 297.3h0M625.8 306.5h0M626.1 297.9h0M625.7 295.4h0M625.8 291.3h0M625.9 302.2h0M625.8 300.3h0M626.1 305.3h0M625.8 286.8h0M626.1 295.0h0M626.0 287.2h0M625.9 308.3h0M628.3 281.0h0M628.3 291.8h0M628.2 284.8h0M628.0 282.6h0M628.1 294.8h0M628.0 294.1h0M627.9 289.1h0M628.2 282.3h0M628.2 284.3h0M627.9 285.9h0M628.1 304.0h0M628.3 304.3h0M628.2 298.7h0M628.0 304.6h0M628.2 306.4h0M628.0 280.8h0M630.2 298.9h0M630.5 284.0h0M630.1 304.1h0M630.3 280.8h0M630.4 285.9h0M630.1 303.2h0M630.4 305.0h0M630.3 291.6h0M630.5 297.1h0M630.2 288.7h0M630.1 301.7h0M630.3 297.0h0M630.3 281.4h0M630.5 288.6h0M630.5 304.7h0M630.2 302.1h0M632.7 304.3h0M632.6 297.4h0M632.4 292.1h0M632.6 288.2h0M632.4 280.2h0M632.6 308.2h0M632.4 295.4h0M632.6 294.0h0M632.3 296.5h0M632.6 301.6h0M632.4 295.5h0M632.5 284.7h0M632.3 296.5h0M632.3 303.7h0M632.7 305.0h0M632.4 288.7h0M634.7 298.3h0M634.9 289.9h0M634.8 291.7h0M634.7 283.5h0M634.5 296.5h0M634.7 302.6h0M634.5 295.2h0M634.6 297.8h0M634.7 305.1h0M634.9 288.3h0M634.6 290.0h0M634.8 295.5h0M634.6 285.6h0M634.9 297.6h0M634.7 287.9h0M637.1 281.5h0M636.8 290.9h0M637.0 279.8h0M636.9 298.5h0M636.7 302.3h0M637.0 279.5h0M636.8 285.7h0M637.1 279.3h0M636.9 283.0h0M637.1 300.4h0M636.7 281.6h0M636.7 284.5h0M636.9 304.3h0M636.7 287.8h0M636.8 290.9h0M639.2 280.7h0M639.0 284.6h0M639.1 294.0h0M639.0 288.4h0M638.9 289.0h0M639.2 299.8h0M639.3 282.8h0M639.1 296.8h0M639.3 280.8h0M639.2 286.3h0M639.1 294.9h0M639.0 298.9h0M639.0 302.4h0M639.2 305.3h0M639.2 284.3h0M641.4 286.9h0M641.3 299.2h0M641.5 283.8h0M641.2 282.2h0M641.5 293.5h0M641.1 291.0h0M641.5 295.8h0M641.4 290.8h0M641.2 273.8h0M641.4 276.8h0M641.5 283.3h0M641.2 276.9h0M641.4 292.0h0M641.4 276.1h0M641.2 304.8h0M643.5 293.7h0M643.5 293.4h0M643.4 276.9h0M643.3 294.5h0M643.4 290.7h0M643.5 297.7h0M643.7 282.1h0M643.5 275.2h0M643.3 299.2h0M643.6 295.1h0M643.3 278.2h0M643.3 280.9h0M643.4 301.3h0M643.7 276.7h0M643.5 273.8h0M645.8 273.7h0M645.8 275.1h0M645.7 277.7h0M645.8 280.2h0M645.7 294.6h0M645.7 274.7h0M645.7 283.0h0M645.7 274.4h0M645.8 293.0h0M645.8 293.1h0M645.8 281.5h0M645.6 281.5h0M645.9 276.0h0M645.6 287.2h0M645.8 274.0h0M648.1 287.8h0M647.9 293.6h0M648.1 302.0h0M647.8 284.4h0M647.7 287.3h0M647.7 290.8h0M647.7 278.9h0M647.9 280.3h0M647.8 277.9h0M647.9 278.4h0M647.8 300.6h0M647.8 278.0h0M648.1 284.6h0M648.1 302.2h0M650.0 302.5h0M650.0 299.5h0M650.0 299.3h0M650.1 295.8h0M650.1 278.6h0M650.0 284.3h0M650.0 277.3h0M649.9 273.5h0M650.0 282.1h0M650.2 277.3h0M650.2 289.4h0M650.0 285.8h0M650.2 300.4h0M650.3 302.0h0M652.4 297.9h0M652.5 282.8h0M652.2 272.6h0M652.1 275.9h0M652.3 270.8h0M652.4 294.2h0M652.4 274.3h0M652.4 282.7h0M652.4 289.6h0M652.5 289.2h0M652.3 281.9h0M652.1 286.6h0M652.3 298.6h0M652.2 293.8h0M654.3 291.3h0M654.4 297.3h0M654.6 280.4h0M654.3 271.4h0M654.4 294.4h0M654.4 287.2h0M654.6 286.7h0M654.6 286.3h0M654.5 292.9h0M654.5 272.9h0M654.6 286.6h0M654.4 298.5h0M654.3 302.7h0M654.7 280.4h0M656.7 286.6h0M656.8 269.6h0M656.8 283.9h0M656.5 282.7h0M656.8 300.3h0M656.5 290.7h0M656.9 283.2h0M656.9 273.9h0M656.5 289.2h0M656.6 293.6h0M656.5 272.9h0M656.6 273.5h0M656.5 298.5h0M656.8 298.4h0M659.0 269.5h0M659.1 284.0h0M658.8 295.1h0M658.8 278.0h0M659.0 297.7h0M658.7 281.7h0M659.0 268.9h0M659.1 287.5h0M659.1 276.0h0M658.7 296.6h0M658.9 292.9h0M659.0 285.7h0M658.8 285.2h0M658.9 271.3h0M661.0 284.9h0M661.1 275.1h0M661.3 282.8h0M661.1 268.2h0M661.1 266.2h0M661.0 291.2h0M661.2 270.8h0M661.3 293.8h0M660.9 287.2h0M661.2 271.9h0M660.9 293.6h0M661.3 280.1h0M661.2 274.9h0M661.3 278.4h0M663.4 281.2h0M663.5 287.5h0M663.4 274.7h0M663.2 273.6h0M663.4 285.4h0M663.2 291.9h0M663.5 280.3h0M663.3 291.8h0M663.2 294.3h0M663.2 273.4h0M663.1 276.2h0M663.3 287.8h0M663.2 286.2h0M665.5 288.5h0M665.3 279.6h0M665.7 297.9h0M665.6 281.3h0M665.5 268.8h0M665.7 291.3h0M665.5 296.8h0M665.5 271.3h0M665.7 270.2h0M665.4 292.4h0M665.5 284.3h0M665.4 280.8h0M665.7 272.7h0M535.7 397.7h0M542.3 316.0h0M597.3 336.7h0M630.3 274.8h0M542.3 310.6h0M592.9 292.3h0M581.9 295.3h0M656.7 302.7h0M603.9 285.3h0M612.7 325.5h0M663.3 302.2h0M577.5 357.5h0M645.7 270.1h0M619.3 318.1h0M518.1 324.2h0M647.9 265.0h0M617.1 320.6h0M570.9 301.0h0M520.3 400.1h0M581.9 352.8h0M537.9 314.0h0M586.3 292.9h0M588.5 348.6h0M654.5 268.2h0M639.1 265.9h0M555.5 308.6h0M548.9 308.6h0M630.3 272.0h0M566.5 378.1h0M639.1 266.9h0M566.5 296.5h0M575.3 360.3h0M601.7 328.4h0M656.7 310.3h0M592.9 289.6h0"/>
<path fill="none" stroke="#c2449e" stroke-width="3.6" stroke-linecap="round" d="M478.5 411.1h0M478.7 411.8h0M478.3 408.1h0M478.4 411.5h0M478.3 405.8h0M478.2 409.0h0M478.6 405.6h0M478.4 413.8h0M478.4 406.0h0M478.7 408.3h0M478.5 409.3h0M478.5 409.9h0M478.3 407.7h0M480.5 405.7h0M480.9 403.5h0M480.8 408.9h0M480.5 412.7h0M480.9 405.1h0M480.6 409.5h0M480.6 404.0h0M481.0 409.1h0M480.7 406.9h0M480.8 407.7h0M480.8 408.6h0M481.0 409.3h0M480.8 407.9h0M483.1 408.4h0M482.8 405.7h0M483.2 407.8h0M483.2 410.7h0M482.9 407.1h0M482.7 409.8h0M483.1 405.1h0M482.9 405.6h0M482.8 404.7h0M482.7 407.8h0M483.2 411.7h0M482.9 403.8h0M483.0 407.6h0M484.9 410.5h0M485.2 404.5h0M485.1 410.3h0M485.0 405.7h0M484.8 404.2h0M485.2 405.9h0M485.3 406.5h0M485.4 406.8h0M484.9 403.5h0M485.1 409.4h0M485.3 409.2h0M485.0 405.2h0M484.9 406.1h0M487.4 408.4h0M487.0 405.4h0M487.5 404.1h0M487.3 411.4h0M487.4 409.4h0M487.4 409.2h0M487.2 406.8h0M487.2 404.2h0M487.1 409.9h0M487.3 407.2h0M487.4 404.4h0M487.3 407.0h0M487.2 408.1h0M489.8 410.9h0M489.7 408.4h0M489.5 404.7h0M489.5 403.9h0M489.4 406.2h0M489.5 407.0h0M489.6 407.6h0M489.3 404.9h0M489.5 408.6h0M489.5 405.2h0M489.6 406.7h0M489.7 403.8h0M489.7 407.3h0M492.0 405.4h0M491.8 407.7h0M491.4 400.4h0M491.6 408.2h0M491.4 405.8h0M492.0 406.0h0M492.0 405.3h0M491.5 404.8h0M491.6 408.4h0M491.6 405.0h0M491.8 407.2h0M491.8 408.6h0M491.7 409.7h0M494.0 404.5h0M493.8 407.1h0M494.2 407.2h0M494.0 408.2h0M493.9 412.3h0M493.7 410.9h0M493.9 410.8h0M494.1 409.5h0M493.7 405.7h0M493.6 403.5h0M493.8 409.7h0M494.1 405.5h0M494.1 401.0h0M496.3 410.3h0M496.3 404.7h0M496.2 406.4h0M496.1 404.5h0M496.0 404.6h0M496.2 406.9h0M496.1 402.9h0M495.9 404.7h0M496.1 407.7h0M496.2 404.8h0M496.1 406.4h0M496.2 405.1h0M496.3 405.1h0M498.0 408.8h0M498.1 409.3h0M498.3 405.0h0M498.5 407.7h0M498.1 406.8h0M498.5 402.8h0M498.2 403.4h0M498.0 400.6h0M498.4 408.4h0M498.1 405.4h0M498.3 404.7h0M498.3 402.0h0M498.4 399.7h0M500.4 403.4h0M500.5 408.9h0M500.2 404.1h0M500.5 406.6h0M500.3 411.1h0M500.5 403.4h0M500.3 403.6h0M500.6 407.2h0M500.4 404.0h0M500.4 408.9h0M500.5 406.7h0M500.7 408.9h0M500.6 405.0h0M502.6 403.8h0M502.7 405.6h0M503.0 405.7h0M502.9 409.1h0M502.4 404.6h0M502.7 407.0h0M502.8 408.9h0M502.9 406.5h0M502.6 410.1h0M502.5 403.0h0M502.9 406.1h0M502.5 411.2h0M502.6 401.6h0M504.7 405.0h0M505.0 405.7h0M505.0 409.9h0M504.7 409.0h0M504.8 408.4h0M505.1 409.7h0M505.0 402.9h0M504.9 406.9h0M505.0 403.2h0M504.8 406.7h0M504.9 404.9h0M505.1 410.5h0M504.7 412.4h0M507.1 406.9h0M507.3 412.0h0M507.0 408.5h0M506.9 409.0h0M507.3 405.1h0M506.9 408.5h0M507.3 406.7h0M506.9 410.4h0M507.2 411.0h0M507.3 410.6h0M507.2 404.8h0M507.3 412.4h0M507.3 407.2h0M509.5 414.1h0M509.1 405.5h0M509.5 398.8h0M509.3 402.4h0M509.4 411.0h0M509.5 405.9h0M509.2 411.3h0M509.5 402.6h0M509.4 410.4h0M509.1 406.4h0M509.4 406.8h0M509.3 406.0h0M509.3 406.3h0M511.4 407.5h0M511.3 408.2h0M511.3 411.8h0M511.3 403.1h0M511.5 402.8h0M511.4 404.8h0M511.7 405.3h0M511.7 405.1h0M511.3 402.2h0M511.8 403.9h0M511.3 403.9h0M511.8 401.3h0M511.4 408.5h0M513.9 404.5h0M513.8 403.5h0M513.9 400.8h0M513.7 402.6h0M513.8 407.0h0M513.8 406.8h0M513.5 407.0h0M513.5 410.0h0M513.8 406.2h0M513.7 410.2h0M513.6 409.8h0M513.8 406.2h0M513.9 411.0h0M515.8 398.8h0M516.1 404.9h0M515.8 407.4h0M516.1 402.0h0M516.1 406.3h0M515.8 411.0h0M515.6 407.8h0M515.9 401.5h0M516.1 400.3h0M515.7 403.1h0M515.8 399.0h0M516.1 407.7h0M516.0 400.4h0M518.0 402.7h0M518.3 404.6h0M518.4 397.1h0M518.2 403.8h0M518.4 401.5h0M518.3 399.5h0M518.3 409.7h0M518.1 410.0h0M517.8 408.3h0M517.9 409.0h0M518.4 404.0h0M518.1 400.6h0M518.0 405.5h0M520.4 404.0h0M520.1 408.6h0M520.5 407.1h0M520.2 409.2h0M520.3 405.7h0M520.0 409.1h0M520.1 407.9h0M520.4 407.0h0M520.5 402.6h0M520.4 403.5h0M520.5 402.7h0M520.4 402.4h0M520.3 400.3h0M522.4 398.5h0M522.5 400.6h0M522.7 404.0h0M522.6 401.9h0M522.3 409.2h0M522.6 400.7h0M522.7 407.5h0M522.5 408.2h0M522.4 406.0h0M522.5 404.2h0M522.3 409.7h0M522.8 401.4h0M522.5 401.7h0M524.9 405.0h0M524.6 409.4h0M524.4 403.8h0M524.5 401.2h0M524.9 406.0h0M524.8 406.7h0M524.8 402.5h0M524.7 405.9h0M524.8 401.0h0M524.7 409.3h0M524.5 407.3h0M524.7 408.8h0M525.0 406.0h0M526.9 405.3h0M526.7 407.3h0M527.0 404.0h0M527.1 402.1h0M526.8 401.8h0M527.2 399.9h0M526.9 403.1h0M526.7 403.9h0M527.1 405.7h0M527.1 401.6h0M527.1 404.5h0M526.8 401.7h0M526.9 404.0h0M529.4 397.9h0M529.4 401.1h0M528.9 398.2h0M529.0 403.5h0M529.4 405.4h0M529.3 406.8h0M529.1 396.7h0M528.9 398.9h0M529.3 405.1h0M528.9 408.9h0M529.1 402.4h0M529.3 400.0h0M528.9 400.6h0M531.6 402.3h0M531.2 400.1h0M531.1 404.6h0M531.0 399.3h0M531.3 403.0h0M531.2 399.7h0M531.6 406.5h0M531.4 399.0h0M531.2 399.2h0M531.2 401.9h0M531.3 402.5h0M531.6 405.6h0M531.4 402.6h0M533.7 400.4h0M533.2 401.1h0M533.4 397.7h0M533.3 398.5h0M533.4 403.9h0M533.7 399.9h0M533.4 396.6h0M533.4 399.5h0M533.7 404.0h0M533.7 405.3h0M533.6 403.4h0M533.6 402.9h0M533.8 399.1h0M535.6 404.8h0M535.5 397.7h0M535.8 400.8h0M536.0 402.4h0M535.9 398.7h0M535.9 399.2h0M536.0 404.4h0M535.6 401.2h0M535.9 402.6h0M535.7 402.7h0M535.8 397.9h0M535.6 398.5h0M535.4 399.9h0M537.9 398.7h0M537.9 396.7h0M538.1 398.4h0M537.7 401.8h0M537.9 396.4h0M538.2 407.0h0M537.8 400.4h0M537.7 396.7h0M538.0 400.2h0M537.8 404.8h0M538.0 401.0h0M538.1 401.2h0M538.2 401.5h0M540.2 397.3h0M539.8 402.3h0M540.3 395.7h0M540.4 401.4h0M540.0 399.4h0M540.3 399.2h0M540.2 399.2h0M540.2 398.4h0M540.0 403.8h0M540.3 403.0h0M539.9 402.6h0M540.4 398.6h0M540.2 404.3h0M542.0 403.8h0M542.4 401.8h0M542.4 403.4h0M542.5 395.0h0M542.3 392.8h0M542.2 399.2h0M542.4 396.3h0M542.1 394.8h0M542.2 401.1h0M542.3 397.4h0M542.4 399.3h0M542.5 399.1h0M542.3 398.1h0M544.4 404.0h0M544.5 398.7h0M544.5 401.8h0M544.7 397.2h0M544.3 397.2h0M544.5 396.4h0M544.7 395.7h0M544.5 402.0h0M544.6 402.9h0M544.7 401.4h0M544.5 398.5h0M544.3 398.0h0M544.4 395.3h0M561.6 401.5h0M549.0 389.6h0M484.9 417.4h0M496.1 416.9h0M508.2 417.4h0M529.0 413.4h0M537.9 411.0h0M544.3 406.1h0M545.0 392.0h0M545.0 396.0h0"/>
<line x1="460.80" y1="252.20" x2="460.80" y2="426.10" stroke="#333" stroke-width="0.8"/>
<line x1="460.80" y1="426.10" x2="672.40" y2="426.10" stroke="#333" stroke-width="0.8"/>
<line x1="458.80" y1="409.80" x2="460.80" y2="409.80" stroke="#333" stroke-width="0.7"/>
<text x="457.50" y="409.80" dy="0.35em" font-size="8.2" text-anchor="end" fill="#333" stroke="#333" stroke-width="0.1">0</text>
<line x1="458.80" y1="357.80" x2="460.80" y2="357.80" stroke="#333" stroke-width="0.7"/>
<text x="457.50" y="357.80" dy="0.35em" font-size="8.2" text-anchor="end" fill="#333" stroke="#333" stroke-width="0.1">4</text>
<line x1="458.80" y1="305.80" x2="460.80" y2="305.80" stroke="#333" stroke-width="0.7"/>
<text x="457.50" y="305.80" dy="0.35em" font-size="8.2" text-anchor="end" fill="#333" stroke="#333" stroke-width="0.1">8</text>
<line x1="458.80" y1="253.80" x2="460.80" y2="253.80" stroke="#333" stroke-width="0.7"/>
<text x="457.50" y="253.80" dy="0.35em" font-size="8.2" text-anchor="end" fill="#333" stroke="#333" stroke-width="0.1">12</text>
<line x1="489.50" y1="426.10" x2="489.50" y2="428.10" stroke="#333" stroke-width="0.7"/>
<text x="489.50" y="432.20" dy="0.35em" font-size="8.2" text-anchor="middle" fill="#333" stroke="#333" stroke-width="0.1">20</text>
<line x1="533.50" y1="426.10" x2="533.50" y2="428.10" stroke="#333" stroke-width="0.7"/>
<text x="533.50" y="432.20" dy="0.35em" font-size="8.2" text-anchor="middle" fill="#333" stroke="#333" stroke-width="0.1">40</text>
<line x1="577.50" y1="426.10" x2="577.50" y2="428.10" stroke="#333" stroke-width="0.7"/>
<text x="577.50" y="432.20" dy="0.35em" font-size="8.2" text-anchor="middle" fill="#333" stroke="#333" stroke-width="0.1">60</text>
<line x1="621.50" y1="426.10" x2="621.50" y2="428.10" stroke="#333" stroke-width="0.7"/>
<text x="621.50" y="432.20" dy="0.35em" font-size="8.2" text-anchor="middle" fill="#333" stroke="#333" stroke-width="0.1">80</text>
<line x1="665.50" y1="426.10" x2="665.50" y2="428.10" stroke="#333" stroke-width="0.7"/>
<text x="665.50" y="432.20" dy="0.35em" font-size="8.2" text-anchor="middle" fill="#333" stroke="#333" stroke-width="0.1">100</text>
<text x="569.10" y="446.20" dy="0.35em" font-size="9.7" text-anchor="middle" fill="#222" stroke="#222" stroke-width="0.1">Hippocampus gene set size</text>
<text x="437.40" y="331.00" dy="0.35em" font-size="9.5" text-anchor="middle" fill="#222" transform="rotate(-90 437.40 331.00)" stroke="#222" stroke-width="0.1">Zummary</text>
<line x1="460.8" y1="383.80" x2="672.4" y2="383.80" stroke="#555" stroke-width="0.8" stroke-dasharray="3 2.2"/>
<line x1="549.00" y1="389.60" x2="556.30" y2="375.80" stroke="#c2449e" stroke-width="0.6"/>
<text x="557.30" y="375.80" dy="0.35em" font-size="8.4" fill="#c2449e" stroke="#c2449e" stroke-width="0.1">Somitogenesis</text>
<line x1="546.00" y1="391.00" x2="563.50" y2="385.40" stroke="#c2449e" stroke-width="0.6"/>
<text x="564.50" y="385.40" dy="0.35em" font-size="8.4" fill="#c2449e" stroke="#c2449e" stroke-width="0.1">Cytokinetic process</text>
<line x1="546.00" y1="395.70" x2="563.50" y2="393.70" stroke="#c2449e" stroke-width="0.6"/>
<text x="564.50" y="393.70" dy="0.35em" font-size="8.4" fill="#c2449e" stroke="#c2449e" stroke-width="0.1">Nuclear membrane organization</text>
<line x1="561.60" y1="401.50" x2="563.50" y2="402.60" stroke="#c2449e" stroke-width="0.6"/>
<text x="564.50" y="402.60" dy="0.35em" font-size="8.4" fill="#c2449e" stroke="#c2449e" stroke-width="0.1">Neuron cellular homeostasis</text>
<line x1="545.50" y1="398.00" x2="563.50" y2="410.50" stroke="#c2449e" stroke-width="0.6"/>
<text x="564.50" y="410.50" dy="0.35em" font-size="8.4" fill="#c2449e" stroke="#c2449e" stroke-width="0.1">Neuron recognition</text>
<line x1="520.00" y1="413.00" x2="523.80" y2="420.10" stroke="#c2449e" stroke-width="0.6"/>
<text x="524.80" y="420.10" dy="0.35em" font-size="8.4" fill="#c2449e" stroke="#c2449e" stroke-width="0.1">Neurotransmitter receptor internalization</text>
<rect x="489.60" y="220.20" width="68.90" height="69.20" fill="#f7f7f7" stroke="#333" stroke-width="0.7"/>
<line x1="487.70" y1="279.00" x2="489.60" y2="279.00" stroke="#333" stroke-width="0.6"/>
<text x="484.60" y="279.00" dy="0.35em" font-size="7.6" text-anchor="middle" fill="#333" transform="rotate(-90 484.60 279.00)" stroke="#333" stroke-width="0.1">0.0</text>
<line x1="487.70" y1="259.20" x2="489.60" y2="259.20" stroke="#333" stroke-width="0.6"/>
<text x="484.60" y="259.20" dy="0.35em" font-size="7.6" text-anchor="middle" fill="#333" transform="rotate(-90 484.60 259.20)" stroke="#333" stroke-width="0.1">2.5</text>
<line x1="487.70" y1="239.40" x2="489.60" y2="239.40" stroke="#333" stroke-width="0.6"/>
<text x="484.60" y="239.40" dy="0.35em" font-size="7.6" text-anchor="middle" fill="#333" transform="rotate(-90 484.60 239.40)" stroke="#333" stroke-width="0.1">5.0</text>
<line x1="489.6" y1="263.16" x2="558.5" y2="263.16" stroke="#333" stroke-width="0.8" stroke-dasharray="1.4 1"/>
<text x="473.80" y="255.00" dy="0.35em" font-size="8.0" text-anchor="middle" fill="#222" transform="rotate(-90 473.80 255.00)" stroke="#222" stroke-width="0.1">Zsummary</text>
<text x="491.2" y="224.6" dy="0.35em" font-size="6.3" fill="#111" stroke="#111" stroke-width="0.1">Wilcoxon <tspan font-style="italic">p</tspan> = 2.47x10<tspan font-size="4" dy="-2">-88</tspan></text>
<path d="M496.5 235.5 Q509 230 521 235.5 Q509 241 496.5 235.5Z" fill="#dcdcdc"/>
<path d="M509 226 L510.5 235 L509 258 L507.5 235Z" fill="#dedede"/>
<path d="M521.9 274.9 Q536 272.5 538.7 266.5 Q541 272.5 555.9 274.9 Q541 277 538.7 284.5 Q536 277 521.9 274.9Z" fill="#dd93cf"/>
<line x1="508.6" y1="227.52" x2="508.6" y2="257.62" stroke="#222" stroke-width="0.6"/>
<path d="M511.3 234.1h2.4M512.3 233.9h2.4M509.0 256.3h2.4M513.2 235.6h2.4M512.9 236.3h2.4M505.1 237.9h2.4M508.8 240.8h2.4M510.8 247.5h2.4M509.3 254.4h2.4M513.4 240.7h2.4M512.3 238.9h2.4M505.5 250.8h2.4M501.4 238.2h2.4M506.1 237.9h2.4M501.7 240.1h2.4M508.0 253.4h2.4M502.8 239.7h2.4M504.7 240.7h2.4M509.3 239.2h2.4M505.7 235.9h2.4M505.1 232.4h2.4M506.0 235.9h2.4M511.0 250.9h2.4M506.8 235.2h2.4M509.9 231.2h2.4M508.8 235.7h2.4M508.7 240.4h2.4M506.5 247.1h2.4M512.1 238.4h2.4M502.0 254.7h2.4M505.3 232.2h2.4M510.1 239.3h2.4M509.0 238.1h2.4M510.6 241.7h2.4M512.7 232.1h2.4M508.3 253.4h2.4M509.0 231.6h2.4M503.2 249.6h2.4M508.3 234.7h2.4M513.0 239.2h2.4M510.8 230.7h2.4M509.7 229.9h2.4M506.4 230.6h2.4M503.3 253.0h2.4M510.9 241.1h2.4M503.4 249.6h2.4M510.4 232.2h2.4M510.1 252.2h2.4M502.4 251.9h2.4M505.4 254.0h2.4M505.5 237.6h2.4M503.8 236.2h2.4M502.9 239.0h2.4M502.9 236.6h2.4M506.9 246.2h2.4M501.6 238.7h2.4M505.7 237.5h2.4M511.6 237.9h2.4M506.0 236.2h2.4M504.1 233.1h2.4M513.3 239.5h2.4M513.2 240.0h2.4M505.4 230.4h2.4M504.7 251.6h2.4M510.2 246.6h2.4M502.3 231.3h2.4M503.8 239.2h2.4M510.7 255.0h2.4M512.5 233.0h2.4M509.5 238.7h2.4M506.7 253.1h2.4M510.8 240.2h2.4M501.7 238.9h2.4M507.2 237.0h2.4M510.6 236.5h2.4M507.7 239.8h2.4M508.1 252.5h2.4M513.5 231.3h2.4M506.0 254.5h2.4M513.5 232.3h2.4M505.1 235.6h2.4M504.8 235.1h2.4M504.2 230.9h2.4M511.9 237.9h2.4M512.7 231.9h2.4M503.9 253.1h2.4M504.3 231.9h2.4M512.8 231.4h2.4M501.7 240.0h2.4M504.7 235.1h2.4M508.5 245.1h2.4M508.8 248.6h2.4M502.7 238.1h2.4M502.6 242.4h2.4M506.5 251.4h2.4M506.6 231.0h2.4M504.4 237.3h2.4M501.5 240.7h2.4M509.5 232.9h2.4M502.3 230.0h2.4M503.5 237.5h2.4M503.2 253.5h2.4M505.9 232.1h2.4M505.3 238.0h2.4M508.6 237.8h2.4M508.5 235.2h2.4M512.7 231.4h2.4M503.3 236.7h2.4M503.3 238.1h2.4M509.2 239.1h2.4M508.6 251.9h2.4M510.2 237.5h2.4M510.1 255.6h2.4M503.4 230.6h2.4M508.2 240.4h2.4M510.0 242.3h2.4M509.0 236.8h2.4M510.1 234.4h2.4M508.5 242.1h2.4M506.0 253.4h2.4M510.6 248.2h2.4M511.8 252.6h2.4M505.2 246.7h2.4M505.7 231.1h2.4M512.5 232.7h2.4M502.7 239.8h2.4M504.3 231.8h2.4M504.4 251.6h2.4M507.4 232.7h2.4M506.1 248.2h2.4M503.8 241.4h2.4M503.7 233.8h2.4M509.3 230.0h2.4M510.1 232.4h2.4M508.4 246.1h2.4M506.1 236.5h2.4M512.2 237.2h2.4M505.4 240.1h2.4M512.5 241.1h2.4M507.8 241.1h2.4M512.9 235.8h2.4M510.4 255.2h2.4M506.2 240.5h2.4M509.5 243.8h2.4M509.5 255.3h2.4M511.0 242.2h2.4M506.0 255.5h2.4M505.1 240.0h2.4M503.6 239.0h2.4M502.0 237.8h2.4M504.5 242.0h2.4M504.5 251.2h2.4M508.2 234.0h2.4M509.9 245.0h2.4M504.3 254.2h2.4M511.4 231.5h2.4M511.3 230.4h2.4M506.5 239.2h2.4M501.9 252.6h2.4M512.5 236.3h2.4M502.6 252.9h2.4M506.7 232.5h2.4M501.5 230.3h2.4M509.9 231.2h2.4M508.0 255.8h2.4M506.5 256.5h2.4M510.3 256.4h2.4M512.2 249.3h2.4M512.2 250.7h2.4M502.1 254.8h2.4M509.7 245.8h2.4M511.2 235.9h2.4M505.6 250.2h2.4M513.5 236.1h2.4M508.6 257.2h2.4M507.8 231.5h2.4M512.1 252.5h2.4M510.8 240.6h2.4M506.7 232.5h2.4M505.8 232.9h2.4M509.6 236.8h2.4M508.4 236.1h2.4M506.0 242.4h2.4M506.0 253.6h2.4M509.3 237.2h2.4M505.7 231.1h2.4M505.5 240.4h2.4M505.9 231.8h2.4M505.6 255.8h2.4M512.1 252.8h2.4M509.8 240.6h2.4M502.4 240.2h2.4M509.5 237.8h2.4M510.5 256.3h2.4M513.5 231.4h2.4M509.9 256.5h2.4M502.6 248.0h2.4M509.9 245.4h2.4M502.7 244.2h2.4M505.7 252.3h2.4M506.6 242.0h2.4M510.9 234.5h2.4M513.0 233.4h2.4M503.0 230.9h2.4M506.3 231.8h2.4M505.8 238.2h2.4M504.3 236.6h2.4M504.5 238.8h2.4M504.7 230.9h2.4M508.5 232.5h2.4M503.8 230.2h2.4M511.5 238.6h2.4M511.1 234.2h2.4M505.3 248.8h2.4M510.1 235.3h2.4M501.3 240.6h2.4M509.8 250.2h2.4M509.1 230.4h2.4M511.2 251.0h2.4M511.9 240.9h2.4M501.5 233.9h2.4M506.8 236.0h2.4M511.4 249.0h2.4M504.8 230.3h2.4M509.7 230.7h2.4M512.4 256.8h2.4M511.4 233.6h2.4M508.4 244.3h2.4M511.8 256.1h2.4M506.9 250.0h2.4M536.8 281.3h2.4M541.1 269.5h2.4M540.0 283.2h2.4M539.8 268.3h2.4M539.7 268.3h2.4M542.2 272.1h2.4M539.9 278.7h2.4M540.3 278.5h2.4M535.0 278.3h2.4M535.5 283.1h2.4M533.8 279.2h2.4M534.5 283.4h2.4M539.9 270.0h2.4M535.7 271.9h2.4M541.2 283.3h2.4M538.2 273.9h2.4M534.1 268.8h2.4M540.6 274.8h2.4M537.8 269.9h2.4M532.9 269.2h2.4M537.7 278.7h2.4M535.0 274.7h2.4M533.3 270.0h2.4M536.5 268.8h2.4M542.1 270.6h2.4M533.4 279.7h2.4M538.8 268.1h2.4M538.7 277.8h2.4M540.6 276.0h2.4M538.4 276.2h2.4M542.1 273.6h2.4M533.4 273.1h2.4M536.5 280.9h2.4M537.4 279.3h2.4M542.1 280.1h2.4M537.9 283.7h2.4M535.4 272.9h2.4M537.4 272.7h2.4M538.2 273.5h2.4M534.9 268.4h2.4M539.0 283.3h2.4M540.9 280.9h2.4M536.6 273.0h2.4M541.5 280.9h2.4M535.3 275.2h2.4M539.3 276.0h2.4M539.6 267.3h2.4M533.0 277.0h2.4M540.5 270.3h2.4M542.1 278.1h2.4M534.9 272.7h2.4M540.8 270.5h2.4M537.8 281.6h2.4M539.5 279.5h2.4M532.6 283.7h2.4M535.8 277.5h2.4M537.9 276.3h2.4M537.6 273.2h2.4M534.2 270.4h2.4M539.2 270.2h2.4M538.1 274.8h2.4M540.9 272.8h2.4M535.0 269.4h2.4M534.3 279.2h2.4M540.8 276.2h2.4M533.9 268.8h2.4M538.4 283.4h2.4M535.9 278.0h2.4M535.2 271.7h2.4M534.7 282.4h2.4M541.2 274.2h2.4M537.2 269.0h2.4M539.3 269.6h2.4M535.7 278.7h2.4M535.7 275.9h2.4M538.2 280.4h2.4M538.1 268.1h2.4M540.0 283.7h2.4M537.2 273.3h2.4M532.9 267.3h2.4M540.4 274.5h2.4M537.6 273.2h2.4M536.4 274.2h2.4M537.5 278.0h2.4M537.1 282.8h2.4M538.6 279.8h2.4M535.0 281.2h2.4M540.0 276.2h2.4M538.3 275.2h2.4M538.3 277.8h2.4M535.0 271.0h2.4M539.8 281.2h2.4M533.8 277.9h2.4M540.5 278.6h2.4M534.6 276.6h2.4M537.5 273.3h2.4M535.6 277.1h2.4M542.4 271.1h2.4M534.6 275.3h2.4M533.9 267.4h2.4M535.0 268.4h2.4M534.5 280.0h2.4M535.8 278.3h2.4M535.8 277.2h2.4M536.5 281.9h2.4M538.8 272.2h2.4M534.6 281.5h2.4M532.7 280.7h2.4M537.6 273.4h2.4M542.0 270.1h2.4M533.9 279.5h2.4M534.3 282.6h2.4M532.6 274.7h2.4M542.1 267.5h2.4M532.5 279.6h2.4M535.9 269.5h2.4M533.3 276.4h2.4M541.3 270.7h2.4M534.2 275.1h2.4M539.3 281.7h2.4M541.2 272.5h2.4M536.1 278.2h2.4M533.2 268.7h2.4M534.3 274.0h2.4M539.5 273.7h2.4M540.5 279.2h2.4M539.2 280.2h2.4M539.6 271.2h2.4M537.1 271.6h2.4M539.3 283.5h2.4M534.5 280.3h2.4M539.4 270.0h2.4M534.7 268.4h2.4M534.3 276.6h2.4M541.0 279.0h2.4M541.1 283.0h2.4M535.3 269.8h2.4M539.1 281.7h2.4M537.3 275.0h2.4M532.6 268.2h2.4M532.6 268.3h2.4M539.5 272.8h2.4M536.1 279.7h2.4M537.4 267.9h2.4M533.3 275.8h2.4M538.5 267.6h2.4M539.6 268.0h2.4M539.5 276.5h2.4M541.9 283.1h2.4M540.0 283.5h2.4M533.2 282.9h2.4M536.9 270.5h2.4M540.5 273.4h2.4M536.1 278.9h2.4M537.0 278.3h2.4M537.6 273.0h2.4M533.2 268.3h2.4M533.6 269.2h2.4M532.5 283.7h2.4M542.2 278.3h2.4M536.3 270.9h2.4M533.1 273.7h2.4M541.2 275.7h2.4M532.5 281.2h2.4M541.3 280.5h2.4M539.6 273.1h2.4M540.3 273.0h2.4M537.8 270.4h2.4M539.7 280.0h2.4M533.1 274.0h2.4M538.2 272.7h2.4M535.3 267.4h2.4M538.4 276.8h2.4M534.0 280.7h2.4M535.1 272.4h2.4M536.5 270.2h2.4M535.6 269.8h2.4M542.3 272.6h2.4M540.5 278.9h2.4M537.0 277.4h2.4M536.4 267.6h2.4M535.7 267.7h2.4M539.8 279.3h2.4M536.8 276.6h2.4M537.0 268.0h2.4M538.9 275.5h2.4M538.3 278.1h2.4M533.6 277.3h2.4M540.6 270.5h2.4M532.6 273.1h2.4M540.2 273.3h2.4M542.1 278.6h2.4M534.0 277.1h2.4M532.5 269.5h2.4M536.9 272.7h2.4M537.5 275.0h2.4M536.2 270.7h2.4M541.3 267.3h2.4M538.1 276.0h2.4M538.2 267.8h2.4M535.7 283.5h2.4M537.5 269.5h2.4M533.8 278.0h2.4M538.8 273.3h2.4M535.7 271.2h2.4M540.8 272.0h2.4M541.3 281.5h2.4M536.6 276.9h2.4M535.3 276.7h2.4M541.9 271.4h2.4M534.3 272.2h2.4M539.0 279.6h2.4M535.8 281.6h2.4M537.0 271.5h2.4M535.9 278.6h2.4M534.8 267.5h2.4M534.9 276.4h2.4M534.7 275.6h2.4M540.3 269.3h2.4M538.3 268.3h2.4M535.3 272.3h2.4M536.1 279.4h2.4M536.4 280.3h2.4M538.8 281.0h2.4M539.6 271.5h2.4M532.5 277.4h2.4M539.0 273.0h2.4M538.7 283.5h2.4M540.0 281.5h2.4M532.5 271.3h2.4M536.8 280.5h2.4M533.8 277.4h2.4M539.1 283.2h2.4M537.6 276.2h2.4M541.3 276.7h2.4M534.0 273.9h2.4M533.2 282.2h2.4M541.5 274.4h2.4M535.9 280.2h2.4M533.8 276.9h2.4M536.6 268.1h2.4M537.2 277.3h2.4M537.4 278.8h2.4M537.5 277.3h2.4M534.4 277.6h2.4M540.3 282.3h2.4M538.5 268.3h2.4M538.4 276.2h2.4M541.2 271.7h2.4M535.8 283.7h2.4M541.7 276.3h2.4M535.6 283.7h2.4M534.6 271.5h2.4M538.5 281.2h2.4M540.1 270.7h2.4M533.2 273.5h2.4M535.7 277.4h2.4M535.3 274.8h2.4M533.2 267.8h2.4M533.8 267.3h2.4" stroke="#111" stroke-width="0.7" fill="none"/>
<text x="513.8" y="294.6" font-size="7.8" text-anchor="end" fill="#222" transform="rotate(-45 513.8 294.6)" stroke="#222" stroke-width="0.1">Random gene set</text>
<text x="543.3" y="294.6" font-size="7.8" text-anchor="end" fill="#222" transform="rotate(-45 543.3 294.6)" stroke="#222" stroke-width="0.1">Real gene set</text>
<path d="M508.6 289.4V291.2M538.1 289.4V291.2" stroke="#333" stroke-width="0.6"/>
<text x="524.00" y="203.80" dy="0.35em" font-size="8.3" text-anchor="middle" fill="#c2449e" stroke="#c2449e" stroke-width="0.1">Hippocampus: Zsummary of</text>
<text x="524.00" y="212.90" dy="0.35em" font-size="8.3" text-anchor="middle" fill="#c2449e" stroke="#c2449e" stroke-width="0.1">non-preserved gene sets</text>
<circle cx="576.9" cy="223.7" r="3.4" fill="#c2449e"/><circle cx="576.9" cy="234.7" r="3.4" fill="#b6b8b8"/>
<text x="582.40" y="223.50" dy="0.35em" font-size="7.8" fill="#222" stroke="#222" stroke-width="0.1">Non-preserved gene sets</text>
<text x="582.40" y="234.50" dy="0.35em" font-size="7.8" fill="#222" stroke="#222" stroke-width="0.1">Preserved gene sets</text>
</svg></body></html>
